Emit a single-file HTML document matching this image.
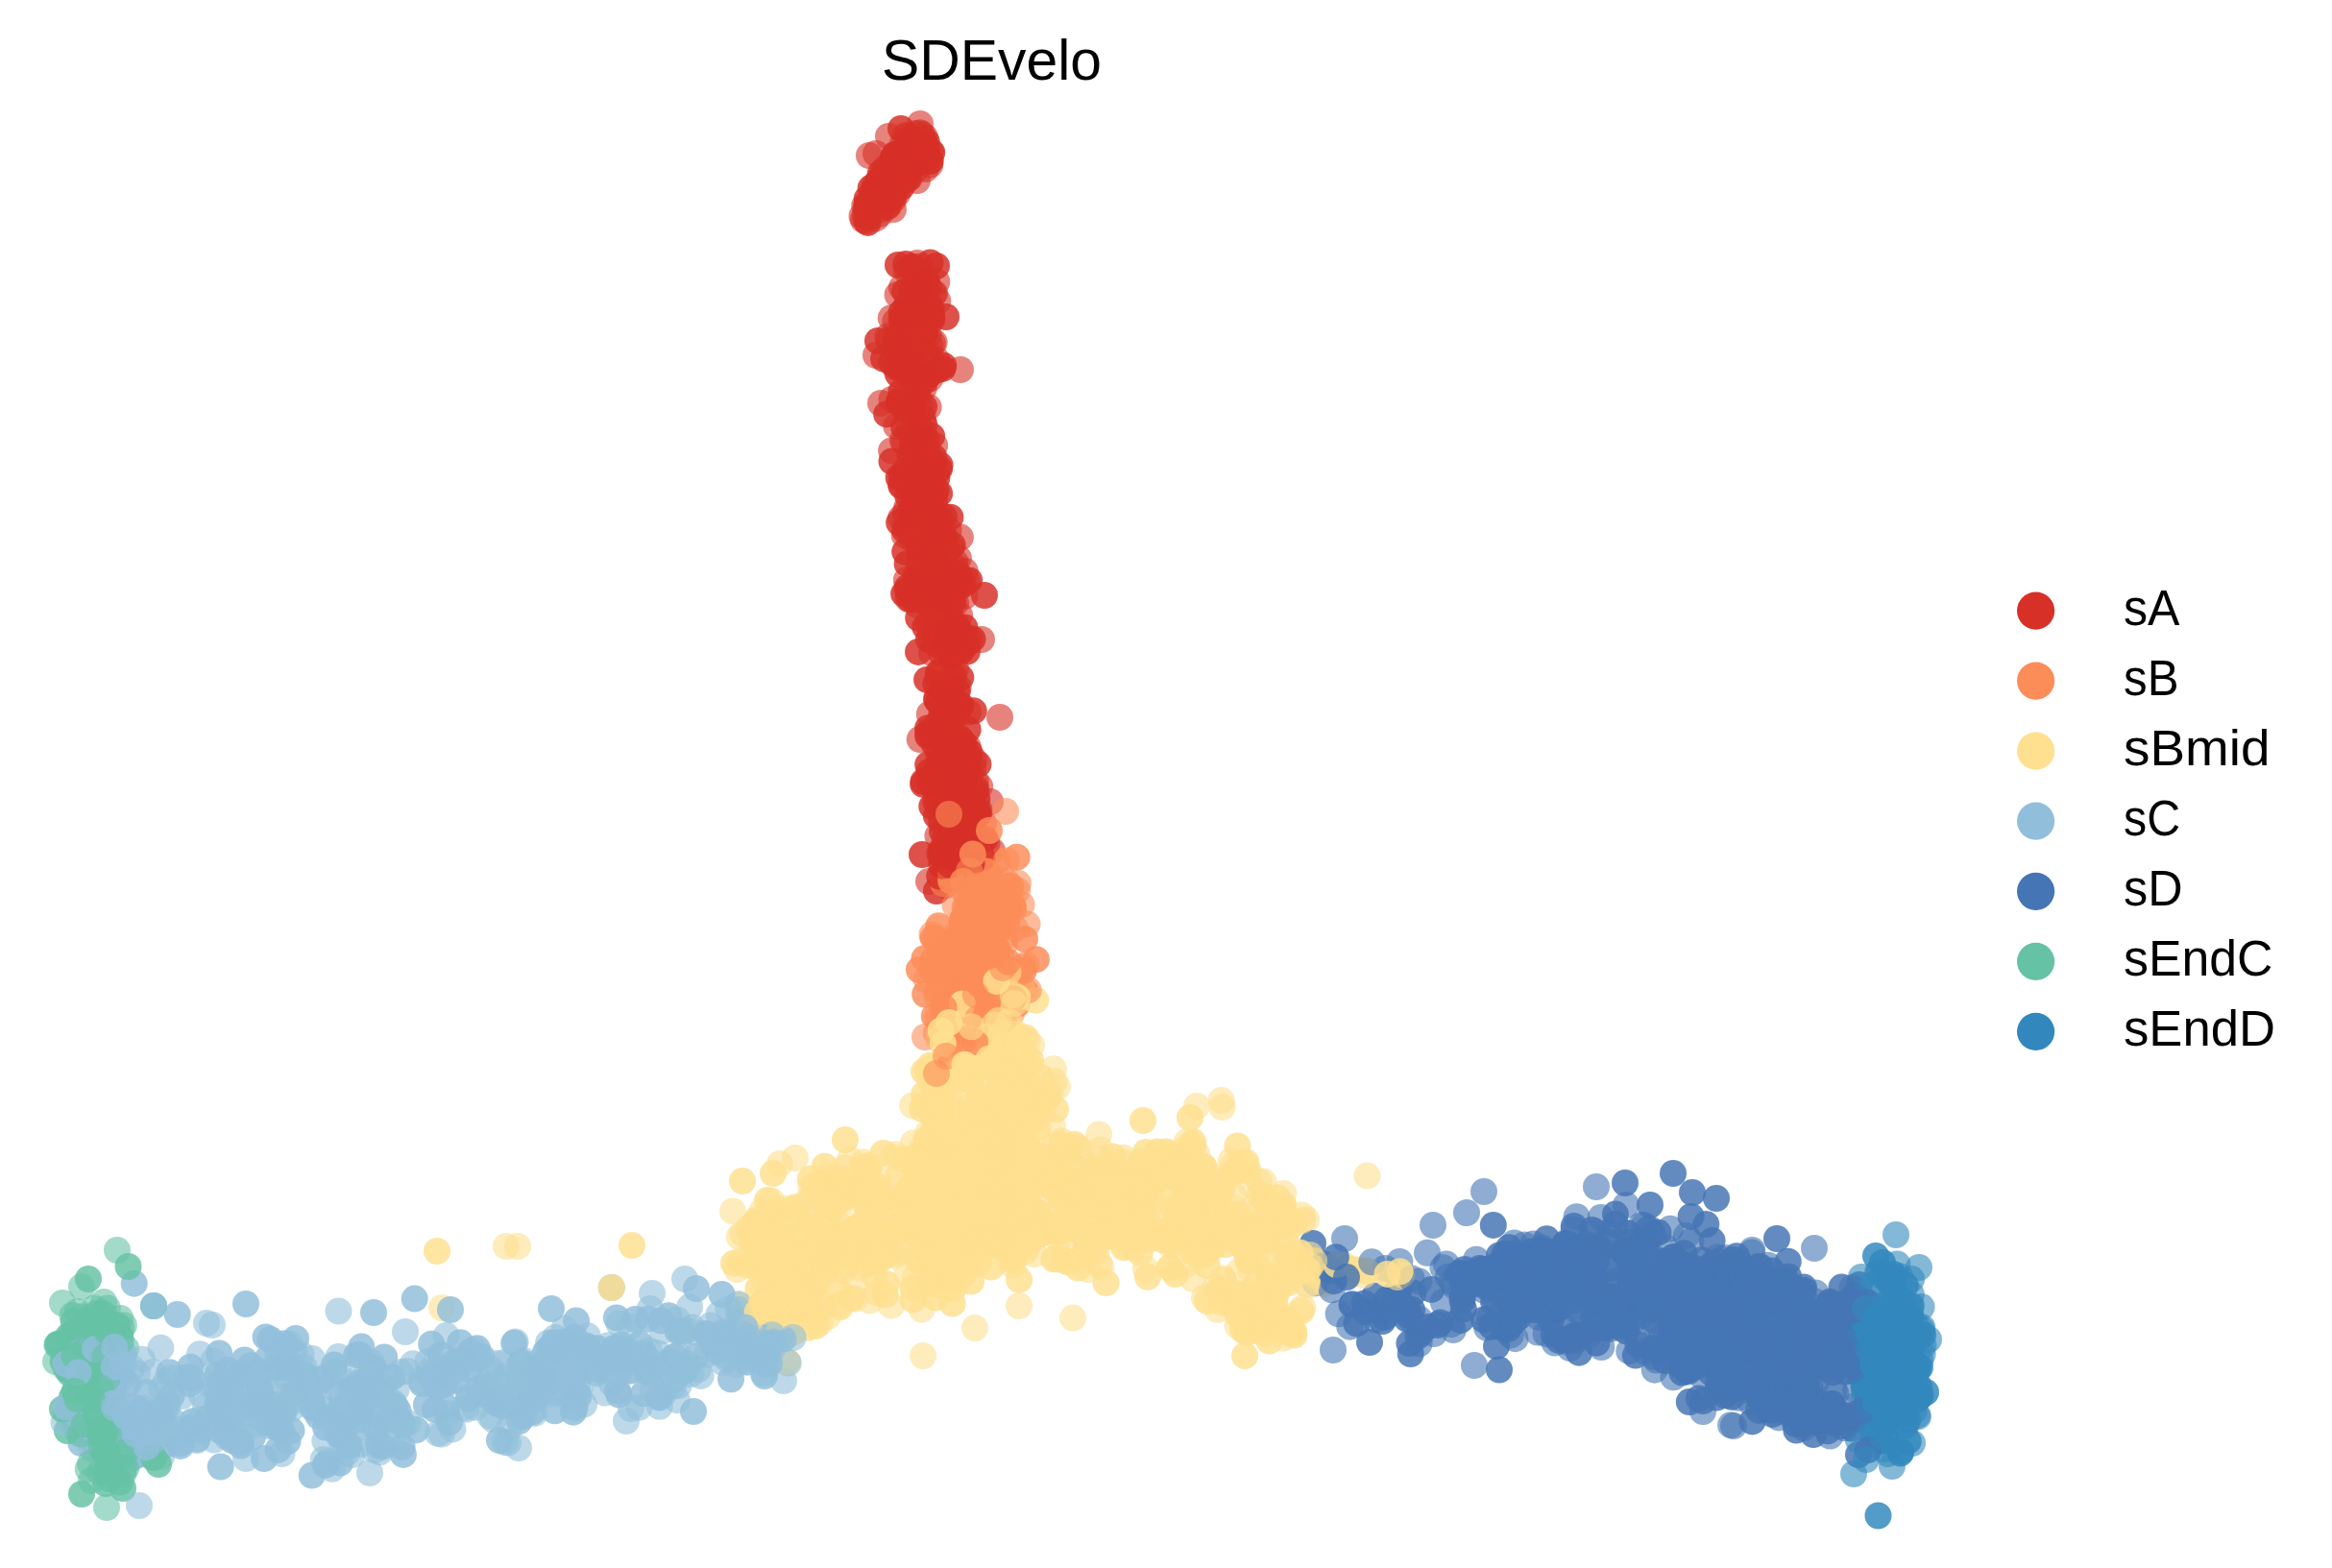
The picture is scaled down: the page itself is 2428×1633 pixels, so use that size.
<!DOCTYPE html>
<html><head><meta charset="utf-8"><title>SDEvelo</title>
<style>
html,body{margin:0;padding:0;background:#fff}
svg{display:block}
text{font-family:"Liberation Sans",sans-serif;fill:#000}
#p circle{r:14px;fill-opacity:.6}
#p .s circle{fill-opacity:.84}
.a{fill:#d73027}
.b{fill:#fc8d59}
.m{fill:#fee090}
.c{fill:#91bfdb}
.d{fill:#4575b4}
.e{fill:#66c2a5}
.f{fill:#3288bd}
</style></head><body>
<svg width="2428" height="1633" viewBox="0 0 2428 1633">
<rect width="2428" height="1633" fill="#fff"/>
<g id="p">
<g class="d"><circle cx="1639.8" cy="1322.5" r="14"/></g>
<g class="d s"><circle cx="1946.0" cy="1386.2" r="14"/></g>
<g class="d"><circle cx="1688.1" cy="1374.2" r="14"/></g>
<g class="a"><circle cx="974.2" cy="493.4" r="14"/></g>
<g class="a s"><circle cx="1004.5" cy="907.7" r="14"/></g>
<g class="d s"><circle cx="1426.0" cy="1398.0" r="14"/></g>
<g class="a"><circle cx="984.2" cy="600.5" r="14"/></g>
<g class="a s"><circle cx="959.8" cy="600.3" r="14"/><circle cx="962.9" cy="522.8" r="14"/></g>
<g class="d"><circle cx="1613.1" cy="1354.0" r="14"/><circle cx="1862.6" cy="1408.9" r="14"/><circle cx="1844.4" cy="1422.3" r="14"/></g>
<g class="c"><circle cx="140.5" cy="1513.6" r="14"/></g>
<g class="a s"><circle cx="996.2" cy="887.4" r="14"/></g>
<g class="a"><circle cx="916.3" cy="222.8" r="14"/></g>
<g class="d s"><circle cx="1718.9" cy="1356.9" r="14"/></g>
<g class="c"><circle cx="132.6" cy="1469.8" r="14"/></g>
<g class="d s"><circle cx="1808.5" cy="1441.3" r="14"/></g>
<g class="a"><circle cx="984.0" cy="918.2" r="14"/></g>
<g class="c"><circle cx="333.8" cy="1437.7" r="14"/></g>
<g class="d"><circle cx="1437.1" cy="1366.3" r="14"/><circle cx="1648.1" cy="1370.8" r="14"/></g>
<g class="a s"><circle cx="958.2" cy="598.5" r="14"/><circle cx="969.5" cy="541.1" r="14"/></g>
<g class="c s"><circle cx="187.7" cy="1502.9" r="14"/></g>
<g class="d s"><circle cx="1804.5" cy="1389.0" r="14"/></g>
<g class="a"><circle cx="956.3" cy="311.6" r="14"/></g>
<g class="d"><circle cx="1641.0" cy="1339.4" r="14"/><circle cx="1635.7" cy="1317.1" r="14"/></g>
<g class="c"><circle cx="679.0" cy="1347.0" r="14"/><circle cx="790.9" cy="1397.5" r="14"/></g>
<g class="d s"><circle cx="1888.0" cy="1494.0" r="14"/></g>
<g class="a"><circle cx="928.1" cy="469.4" r="14"/><circle cx="955.9" cy="332.8" r="14"/></g>
<g class="d s"><circle cx="1636.5" cy="1317.0" r="14"/><circle cx="1749.1" cy="1421.7" r="14"/></g>
<g class="d"><circle cx="1794.4" cy="1412.6" r="14"/></g>
<g class="c"><circle cx="803.3" cy="1361.9" r="14"/></g>
<g class="d s"><circle cx="1813.5" cy="1353.6" r="14"/></g>
<g class="d"><circle cx="1805.7" cy="1381.6" r="14"/></g>
<g class="a s"><circle cx="973.9" cy="511.2" r="14"/></g>
<g class="d"><circle cx="1522.8" cy="1338.2" r="14"/><circle cx="1913.4" cy="1358.6" r="14"/></g>
<g class="a s"><circle cx="913.8" cy="190.5" r="14"/><circle cx="980.3" cy="744.6" r="14"/></g>
<g class="a"><circle cx="994.1" cy="789.2" r="14"/></g>
<g class="d s"><circle cx="1529.9" cy="1338.9" r="14"/></g>
<g class="d"><circle cx="1852.0" cy="1476.4" r="14"/><circle cx="1931.7" cy="1415.1" r="14"/><circle cx="1840.5" cy="1339.8" r="14"/></g>
<g class="c"><circle cx="233.4" cy="1462.6" r="14"/><circle cx="701.2" cy="1443.4" r="14"/></g>
<g class="d"><circle cx="1879.4" cy="1407.2" r="14"/></g>
<g class="a s"><circle cx="956.8" cy="148.7" r="14"/><circle cx="976.8" cy="701.1" r="14"/></g>
<g class="c"><circle cx="234.6" cy="1477.7" r="14"/></g>
<g class="a"><circle cx="1033.0" cy="886.0" r="14"/></g>
<g class="a s"><circle cx="986.4" cy="815.8" r="14"/></g>
<g class="d s"><circle cx="1600.4" cy="1342.6" r="14"/><circle cx="1584.7" cy="1310.2" r="14"/><circle cx="1558.0" cy="1402.1" r="14"/></g>
<g class="d"><circle cx="1638.7" cy="1280.8" r="14"/></g>
<g class="d s"><circle cx="1645.9" cy="1390.8" r="14"/></g>
<g class="c s"><circle cx="338.2" cy="1467.7" r="14"/></g>
<g class="a"><circle cx="921.8" cy="175.1" r="14"/></g>
<g class="c"><circle cx="456.1" cy="1492.9" r="14"/></g>
<g class="a s"><circle cx="950.0" cy="278.0" r="14"/></g>
<g class="d s"><circle cx="1580.4" cy="1331.3" r="14"/></g>
<g class="c s"><circle cx="610.5" cy="1401.4" r="14"/></g>
<g class="c"><circle cx="555.5" cy="1430.7" r="14"/></g>
<g class="a"><circle cx="955.0" cy="274.0" r="14"/></g>
<g class="d s"><circle cx="1697.3" cy="1335.4" r="14"/></g>
<g class="a s"><circle cx="985.0" cy="330.0" r="14"/><circle cx="914.0" cy="355.0" r="14"/></g>
<g class="d"><circle cx="1945.0" cy="1459.4" r="14"/></g>
<g class="a s"><circle cx="920.0" cy="373.6" r="14"/></g>
<g class="d"><circle cx="1606.8" cy="1310.3" r="14"/></g>
<g class="c"><circle cx="608.0" cy="1462.5" r="14"/></g>
<g class="a"><circle cx="946.6" cy="448.0" r="14"/></g>
<g class="a s"><circle cx="942.4" cy="374.0" r="14"/></g>
<g class="a"><circle cx="1020.1" cy="818.8" r="14"/></g>
<g class="d"><circle cx="1852.8" cy="1381.4" r="14"/></g>
<g class="c"><circle cx="326.3" cy="1467.1" r="14"/></g>
<g class="a s"><circle cx="954.7" cy="487.5" r="14"/></g>
<g class="d"><circle cx="1773.0" cy="1470.0" r="14"/></g>
<g class="a"><circle cx="955.5" cy="328.1" r="14"/></g>
<g class="d s"><circle cx="1658.8" cy="1373.6" r="14"/></g>
<g class="c s"><circle cx="636.7" cy="1341.0" r="14"/></g>
<g class="c"><circle cx="348.3" cy="1429.1" r="14"/></g>
<g class="d"><circle cx="1779.0" cy="1348.4" r="14"/></g>
<g class="c"><circle cx="128.8" cy="1410.2" r="14"/></g>
<g class="a s"><circle cx="941.9" cy="332.4" r="14"/><circle cx="972.1" cy="566.2" r="14"/></g>
<g class="d s"><circle cx="1888.4" cy="1481.1" r="14"/></g>
<g class="d"><circle cx="1759.9" cy="1343.4" r="14"/></g>
<g class="c s"><circle cx="289.2" cy="1484.1" r="14"/></g>
<g class="d"><circle cx="1780.5" cy="1421.4" r="14"/></g>
<g class="d s"><circle cx="1865.9" cy="1377.3" r="14"/><circle cx="1621.7" cy="1323.0" r="14"/></g>
<g class="c s"><circle cx="380.7" cy="1455.5" r="14"/></g>
<g class="a"><circle cx="939.1" cy="382.8" r="14"/></g>
<g class="d s"><circle cx="1798.8" cy="1450.4" r="14"/></g>
<g class="a s"><circle cx="1020.1" cy="885.7" r="14"/><circle cx="991.7" cy="567.7" r="14"/><circle cx="956.3" cy="148.6" r="14"/></g>
<g class="d"><circle cx="1821.2" cy="1422.8" r="14"/></g>
<g class="d s"><circle cx="1657.8" cy="1327.9" r="14"/><circle cx="1934.4" cy="1409.8" r="14"/><circle cx="1490.4" cy="1342.9" r="14"/></g>
<g class="a s"><circle cx="982.9" cy="561.1" r="14"/></g>
<g class="a"><circle cx="985.5" cy="670.6" r="14"/></g>
<g class="d s"><circle cx="1798.3" cy="1325.1" r="14"/></g>
<g class="a"><circle cx="1041.0" cy="747.0" r="14"/></g>
<g class="c s"><circle cx="579.1" cy="1408.4" r="14"/></g>
<g class="d"><circle cx="1744.8" cy="1334.4" r="14"/></g>
<g class="c"><circle cx="530.7" cy="1486.5" r="14"/></g>
<g class="c s"><circle cx="376.3" cy="1402.6" r="14"/></g>
<g class="c"><circle cx="604.1" cy="1444.5" r="14"/><circle cx="143.1" cy="1430.6" r="14"/></g>
<g class="a"><circle cx="898.9" cy="229.0" r="14"/></g>
<g class="a s"><circle cx="970.3" cy="332.6" r="14"/></g>
<g class="c"><circle cx="417.0" cy="1429.1" r="14"/></g>
<g class="d"><circle cx="1909.3" cy="1416.8" r="14"/></g>
<g class="a s"><circle cx="970.9" cy="540.2" r="14"/></g>
<g class="a"><circle cx="928.5" cy="415.9" r="14"/></g>
<g class="d s"><circle cx="1865.7" cy="1393.8" r="14"/><circle cx="1543.5" cy="1337.3" r="14"/></g>
<g class="d"><circle cx="1639.1" cy="1304.9" r="14"/></g>
<g class="a"><circle cx="977.1" cy="642.2" r="14"/></g>
<g class="a s"><circle cx="1006.3" cy="671.1" r="14"/></g>
<g class="d s"><circle cx="1907.7" cy="1462.1" r="14"/></g>
<g class="d"><circle cx="1723.3" cy="1344.3" r="14"/></g>
<g class="c"><circle cx="578.2" cy="1393.1" r="14"/></g>
<g class="d s"><circle cx="1898.7" cy="1414.8" r="14"/></g>
<g class="d"><circle cx="1813.2" cy="1357.2" r="14"/></g>
<g class="a"><circle cx="955.2" cy="630.0" r="14"/></g>
<g class="d s"><circle cx="1847.5" cy="1396.0" r="14"/><circle cx="1693.2" cy="1386.4" r="14"/></g>
<g class="d"><circle cx="1823.2" cy="1445.5" r="14"/></g>
<g class="a"><circle cx="981.3" cy="594.0" r="14"/></g>
<g class="c s"><circle cx="226.9" cy="1470.1" r="14"/></g>
<g class="d"><circle cx="1787.6" cy="1359.6" r="14"/></g>
<g class="c s"><circle cx="770.4" cy="1369.2" r="14"/></g>
<g class="a s"><circle cx="960.0" cy="890.0" r="14"/></g>
<g class="c s"><circle cx="520.0" cy="1500.0" r="14"/></g>
<g class="a"><circle cx="999.1" cy="640.7" r="14"/></g>
<g class="a s"><circle cx="980.9" cy="592.9" r="14"/></g>
<g class="d s"><circle cx="1940.9" cy="1374.2" r="14"/></g>
<g class="a s"><circle cx="997.3" cy="734.0" r="14"/></g>
<g class="d s"><circle cx="1691.6" cy="1380.2" r="14"/></g>
<g class="a s"><circle cx="973.7" cy="822.6" r="14"/></g>
<g class="d"><circle cx="1782.6" cy="1359.7" r="14"/></g>
<g class="c s"><circle cx="276.6" cy="1392.4" r="14"/></g>
<g class="a s"><circle cx="957.9" cy="553.4" r="14"/></g>
<g class="d s"><circle cx="1378.1" cy="1316.6" r="14"/></g>
<g class="d"><circle cx="1720.0" cy="1353.2" r="14"/><circle cx="1598.7" cy="1324.1" r="14"/></g>
<g class="d s"><circle cx="1881.3" cy="1366.6" r="14"/></g>
<g class="d"><circle cx="1805.8" cy="1400.3" r="14"/><circle cx="1659.9" cy="1363.9" r="14"/></g>
<g class="c"><circle cx="526.4" cy="1434.1" r="14"/></g>
<g class="d s"><circle cx="1771.0" cy="1345.6" r="14"/></g>
<g class="a s"><circle cx="923.2" cy="195.2" r="14"/></g>
<g class="d"><circle cx="1772.8" cy="1434.1" r="14"/></g>
<g class="c s"><circle cx="463.0" cy="1441.2" r="14"/><circle cx="773.8" cy="1383.6" r="14"/></g>
<g class="d"><circle cx="1768.1" cy="1356.9" r="14"/></g>
<g class="a"><circle cx="976.1" cy="610.9" r="14"/></g>
<g class="a s"><circle cx="982.4" cy="760.4" r="14"/></g>
<g class="d"><circle cx="1833.5" cy="1319.8" r="14"/></g>
<g class="c"><circle cx="422.0" cy="1387.0" r="14"/></g>
<g class="d s"><circle cx="1729.2" cy="1366.0" r="14"/></g>
<g class="c"><circle cx="768.2" cy="1377.6" r="14"/></g>
<g class="d"><circle cx="1566.8" cy="1382.7" r="14"/></g>
<g class="a s"><circle cx="929.4" cy="165.1" r="14"/></g>
<g class="d s"><circle cx="1713.9" cy="1297.6" r="14"/></g>
<g class="d"><circle cx="1861.6" cy="1355.1" r="14"/></g>
<g class="c s"><circle cx="296.3" cy="1399.2" r="14"/><circle cx="542.6" cy="1418.6" r="14"/></g>
<g class="d"><circle cx="1537.0" cy="1311.7" r="14"/></g>
<g class="a s"><circle cx="972.8" cy="485.1" r="14"/></g>
<g class="a"><circle cx="929.0" cy="205.5" r="14"/></g>
<g class="d s"><circle cx="1659.8" cy="1330.0" r="14"/></g>
<g class="c s"><circle cx="233.3" cy="1479.4" r="14"/></g>
<g class="a"><circle cx="942.8" cy="548.0" r="14"/></g>
<g class="d"><circle cx="1369.8" cy="1336.3" r="14"/></g>
<g class="c s"><circle cx="796.0" cy="1433.0" r="14"/></g>
<g class="d s"><circle cx="1873.3" cy="1431.0" r="14"/></g>
<g class="a s"><circle cx="964.7" cy="457.9" r="14"/></g>
<g class="c"><circle cx="551.5" cy="1424.9" r="14"/></g>
<g class="a"><circle cx="979.4" cy="885.4" r="14"/></g>
<g class="d s"><circle cx="1835.5" cy="1434.8" r="14"/></g>
<g class="a"><circle cx="941.5" cy="329.4" r="14"/></g>
<g class="c"><circle cx="670.2" cy="1408.5" r="14"/></g>
<g class="d s"><circle cx="1604.1" cy="1327.0" r="14"/><circle cx="1453.3" cy="1346.9" r="14"/></g>
<g class="a s"><circle cx="949.2" cy="423.4" r="14"/></g>
<g class="a"><circle cx="926.2" cy="189.0" r="14"/><circle cx="938.4" cy="161.0" r="14"/></g>
<g class="d"><circle cx="1719.7" cy="1345.5" r="14"/></g>
<g class="c s"><circle cx="139.7" cy="1336.7" r="14"/></g>
<g class="a"><circle cx="993.8" cy="603.4" r="14"/></g>
<g class="c"><circle cx="459.8" cy="1493.7" r="14"/></g>
<g class="d s"><circle cx="1741.9" cy="1316.8" r="14"/></g>
<g class="c s"><circle cx="230.9" cy="1466.4" r="14"/><circle cx="567.8" cy="1408.6" r="14"/><circle cx="812.1" cy="1393.6" r="14"/></g>
<g class="a"><circle cx="991.4" cy="608.4" r="14"/><circle cx="979.9" cy="888.4" r="14"/></g>
<g class="d"><circle cx="1878.1" cy="1449.0" r="14"/></g>
<g class="d s"><circle cx="1760.6" cy="1266.9" r="14"/></g>
<g class="c s"><circle cx="786.6" cy="1395.4" r="14"/></g>
<g class="a s"><circle cx="977.8" cy="622.1" r="14"/></g>
<g class="c s"><circle cx="327.8" cy="1445.5" r="14"/></g>
<g class="d s"><circle cx="1912.4" cy="1367.7" r="14"/></g>
<g class="d"><circle cx="1901.8" cy="1425.6" r="14"/></g>
<g class="d s"><circle cx="1893.1" cy="1406.4" r="14"/></g>
<g class="a s"><circle cx="973.8" cy="598.1" r="14"/><circle cx="955.3" cy="312.9" r="14"/></g>
<g class="a"><circle cx="917.0" cy="420.0" r="14"/></g>
<g class="c"><circle cx="433.5" cy="1489.0" r="14"/></g>
<g class="a s"><circle cx="988.7" cy="860.1" r="14"/><circle cx="942.3" cy="552.5" r="14"/></g>
<g class="c"><circle cx="301.5" cy="1399.4" r="14"/></g>
<g class="c s"><circle cx="374.3" cy="1411.0" r="14"/></g>
<g class="a s"><circle cx="964.7" cy="577.9" r="14"/><circle cx="973.6" cy="594.8" r="14"/></g>
<g class="c s"><circle cx="460.9" cy="1431.2" r="14"/></g>
<g class="d"><circle cx="1866.4" cy="1473.1" r="14"/></g>
<g class="c"><circle cx="525.7" cy="1501.9" r="14"/></g>
<g class="d"><circle cx="1629.5" cy="1346.5" r="14"/></g>
<g class="a s"><circle cx="970.7" cy="530.8" r="14"/><circle cx="977.4" cy="786.5" r="14"/></g>
<g class="c"><circle cx="488.5" cy="1454.5" r="14"/></g>
<g class="a"><circle cx="1003.7" cy="862.9" r="14"/><circle cx="919.9" cy="196.7" r="14"/></g>
<g class="c"><circle cx="131.2" cy="1464.6" r="14"/></g>
<g class="d s"><circle cx="1561.0" cy="1426.6" r="14"/></g>
<g class="d"><circle cx="1915.6" cy="1479.8" r="14"/></g>
<g class="d s"><circle cx="1636.2" cy="1340.0" r="14"/></g>
<g class="d"><circle cx="1513.0" cy="1385.0" r="14"/></g>
<g class="a"><circle cx="960.3" cy="499.1" r="14"/><circle cx="977.3" cy="570.2" r="14"/></g>
<g class="c s"><circle cx="178.8" cy="1453.6" r="14"/></g>
<g class="d"><circle cx="1612.7" cy="1331.4" r="14"/><circle cx="1788.0" cy="1390.7" r="14"/><circle cx="1637.6" cy="1392.1" r="14"/></g>
<g class="d s"><circle cx="1902.7" cy="1368.9" r="14"/><circle cx="1692.6" cy="1304.5" r="14"/><circle cx="1766.5" cy="1341.7" r="14"/><circle cx="1851.7" cy="1424.2" r="14"/></g>
<g class="a s"><circle cx="979.5" cy="792.4" r="14"/><circle cx="975.3" cy="497.7" r="14"/></g>
<g class="d"><circle cx="1757.1" cy="1391.2" r="14"/></g>
<g class="c s"><circle cx="589.5" cy="1411.2" r="14"/></g>
<g class="a s"><circle cx="978.0" cy="488.3" r="14"/></g>
<g class="d s"><circle cx="1707.4" cy="1322.0" r="14"/><circle cx="1788.6" cy="1446.0" r="14"/><circle cx="1709.9" cy="1334.3" r="14"/></g>
<g class="c s"><circle cx="499.9" cy="1451.8" r="14"/></g>
<g class="a"><circle cx="922.0" cy="191.4" r="14"/></g>
<g class="c s"><circle cx="498.3" cy="1446.2" r="14"/></g>
<g class="d s"><circle cx="1594.5" cy="1303.6" r="14"/></g>
<g class="c s"><circle cx="256.4" cy="1472.0" r="14"/></g>
<g class="a s"><circle cx="977.1" cy="731.3" r="14"/></g>
<g class="c"><circle cx="171.6" cy="1486.1" r="14"/></g>
<g class="c s"><circle cx="452.9" cy="1467.9" r="14"/></g>
<g class="a s"><circle cx="942.6" cy="378.5" r="14"/><circle cx="969.3" cy="509.5" r="14"/></g>
<g class="d"><circle cx="1698.2" cy="1335.4" r="14"/></g>
<g class="e s"><circle cx="123.7" cy="1503.7" r="14"/></g>
<g class="d"><circle cx="1702.7" cy="1346.1" r="14"/><circle cx="1842.8" cy="1368.8" r="14"/></g>
<g class="c s"><circle cx="355.3" cy="1496.4" r="14"/></g>
<g class="d s"><circle cx="1741.5" cy="1370.7" r="14"/><circle cx="1874.9" cy="1344.6" r="14"/></g>
<g class="c s"><circle cx="386.9" cy="1424.2" r="14"/><circle cx="319.7" cy="1434.2" r="14"/></g>
<g class="d s"><circle cx="1751.4" cy="1389.7" r="14"/></g>
<g class="c"><circle cx="95.2" cy="1508.4" r="14"/></g>
<g class="d"><circle cx="1512.1" cy="1335.3" r="14"/></g>
<g class="c"><circle cx="608.9" cy="1404.1" r="14"/></g>
<g class="d s"><circle cx="1553.2" cy="1381.5" r="14"/></g>
<g class="a"><circle cx="1013.9" cy="791.1" r="14"/></g>
<g class="d"><circle cx="1781.9" cy="1421.7" r="14"/><circle cx="1801.0" cy="1443.0" r="14"/><circle cx="1831.4" cy="1405.8" r="14"/></g>
<g class="a"><circle cx="967.0" cy="918.0" r="14"/></g>
<g class="d s"><circle cx="1865.9" cy="1363.5" r="14"/></g>
<g class="c s"><circle cx="250.9" cy="1505.6" r="14"/></g>
<g class="c"><circle cx="493.3" cy="1405.6" r="14"/><circle cx="364.4" cy="1446.9" r="14"/></g>
<g class="d s"><circle cx="1928.5" cy="1487.8" r="14"/></g>
<g class="a s"><circle cx="982.9" cy="538.2" r="14"/></g>
<g class="a"><circle cx="926.9" cy="196.3" r="14"/></g>
<g class="a s"><circle cx="978.5" cy="889.2" r="14"/><circle cx="947.5" cy="314.9" r="14"/></g>
<g class="d"><circle cx="1805.0" cy="1485.0" r="14"/></g>
<g class="a s"><circle cx="976.1" cy="802.1" r="14"/></g>
<g class="c s"><circle cx="449.2" cy="1399.7" r="14"/></g>
<g class="c"><circle cx="356.5" cy="1505.0" r="14"/></g>
<g class="c s"><circle cx="170.7" cy="1505.7" r="14"/></g>
<g class="a s"><circle cx="1008.4" cy="900.0" r="14"/><circle cx="975.4" cy="597.7" r="14"/></g>
<g class="d s"><circle cx="1742.3" cy="1309.0" r="14"/></g>
<g class="c s"><circle cx="554.2" cy="1470.5" r="14"/></g>
<g class="d s"><circle cx="1935.3" cy="1478.3" r="14"/></g>
<g class="a"><circle cx="1005.8" cy="805.7" r="14"/></g>
<g class="a s"><circle cx="971.8" cy="564.3" r="14"/></g>
<g class="a"><circle cx="965.5" cy="524.7" r="14"/></g>
<g class="c"><circle cx="519.3" cy="1456.0" r="14"/></g>
<g class="d"><circle cx="1848.9" cy="1369.9" r="14"/></g>
<g class="a"><circle cx="982.9" cy="810.6" r="14"/></g>
<g class="d"><circle cx="1459.4" cy="1362.5" r="14"/></g>
<g class="a"><circle cx="954.7" cy="468.7" r="14"/></g>
<g class="d s"><circle cx="1856.6" cy="1405.9" r="14"/></g>
<g class="a s"><circle cx="972.8" cy="615.5" r="14"/></g>
<g class="d s"><circle cx="1756.2" cy="1387.7" r="14"/><circle cx="1569.8" cy="1374.8" r="14"/></g>
<g class="d"><circle cx="1827.6" cy="1335.3" r="14"/></g>
<g class="c"><circle cx="756.8" cy="1394.8" r="14"/></g>
<g class="e"><circle cx="112.6" cy="1401.9" r="14"/></g>
<g class="c s"><circle cx="232.0" cy="1440.6" r="14"/></g>
<g class="a s"><circle cx="956.3" cy="589.5" r="14"/></g>
<g class="d s"><circle cx="1705.4" cy="1400.3" r="14"/></g>
<g class="c"><circle cx="790.3" cy="1411.6" r="14"/></g>
<g class="d"><circle cx="1480.1" cy="1388.1" r="14"/></g>
<g class="a s"><circle cx="968.7" cy="167.5" r="14"/></g>
<g class="c s"><circle cx="696.5" cy="1419.2" r="14"/></g>
<g class="d s"><circle cx="1892.3" cy="1411.2" r="14"/></g>
<g class="d"><circle cx="1833.1" cy="1449.2" r="14"/><circle cx="1507.7" cy="1329.7" r="14"/></g>
<g class="c"><circle cx="498.4" cy="1415.6" r="14"/></g>
<g class="a s"><circle cx="985.4" cy="647.5" r="14"/></g>
<g class="c s"><circle cx="146.1" cy="1469.7" r="14"/><circle cx="275.0" cy="1519.0" r="14"/></g>
<g class="a s"><circle cx="979.5" cy="558.9" r="14"/></g>
<g class="d"><circle cx="1850.0" cy="1455.2" r="14"/></g>
<g class="c"><circle cx="205.0" cy="1500.0" r="14"/></g>
<g class="c s"><circle cx="644.6" cy="1452.7" r="14"/></g>
<g class="d"><circle cx="1624.2" cy="1319.4" r="14"/></g>
<g class="a s"><circle cx="965.4" cy="530.8" r="14"/></g>
<g class="d"><circle cx="1628.0" cy="1381.4" r="14"/></g>
<g class="a s"><circle cx="982.3" cy="380.7" r="14"/><circle cx="1025.0" cy="620.0" r="14"/></g>
<g class="c"><circle cx="148.8" cy="1466.6" r="14"/></g>
<g class="d"><circle cx="1792.6" cy="1448.8" r="14"/></g>
<g class="d s"><circle cx="1935.0" cy="1515.0" r="14"/></g>
<g class="c"><circle cx="719.4" cy="1431.1" r="14"/><circle cx="395.5" cy="1512.2" r="14"/></g>
<g class="a"><circle cx="990.4" cy="679.2" r="14"/></g>
<g class="d"><circle cx="1493.0" cy="1389.1" r="14"/></g>
<g class="e s"><circle cx="124.8" cy="1543.5" r="14"/></g>
<g class="a"><circle cx="963.5" cy="614.1" r="14"/></g>
<g class="a s"><circle cx="971.3" cy="585.1" r="14"/><circle cx="975.0" cy="928.0" r="14"/><circle cx="981.0" cy="866.1" r="14"/></g>
<g class="d"><circle cx="1594.2" cy="1315.0" r="14"/></g>
<g class="a"><circle cx="966.8" cy="650.4" r="14"/></g>
<g class="a s"><circle cx="1013.7" cy="740.3" r="14"/></g>
<g class="a"><circle cx="912.0" cy="370.0" r="14"/></g>
<g class="c"><circle cx="574.3" cy="1425.0" r="14"/></g>
<g class="e"><circle cx="113.3" cy="1480.4" r="14"/></g>
<g class="c s"><circle cx="792.7" cy="1383.1" r="14"/></g>
<g class="d"><circle cx="1712.1" cy="1407.5" r="14"/><circle cx="1662.3" cy="1383.4" r="14"/></g>
<g class="c s"><circle cx="316.1" cy="1431.0" r="14"/></g>
<g class="a s"><circle cx="941.1" cy="618.3" r="14"/></g>
<g class="d"><circle cx="1620.2" cy="1337.4" r="14"/><circle cx="1760.0" cy="1414.2" r="14"/></g>
<g class="a"><circle cx="997.7" cy="715.4" r="14"/></g>
<g class="d"><circle cx="1640.8" cy="1312.8" r="14"/></g>
<g class="a s"><circle cx="1015.9" cy="821.2" r="14"/></g>
<g class="d"><circle cx="1652.4" cy="1350.2" r="14"/></g>
<g class="d s"><circle cx="1596.0" cy="1350.5" r="14"/></g>
<g class="a s"><circle cx="935.1" cy="160.5" r="14"/></g>
<g class="d s"><circle cx="1639.0" cy="1309.9" r="14"/><circle cx="1817.0" cy="1323.0" r="14"/><circle cx="1907.0" cy="1462.4" r="14"/></g>
<g class="d"><circle cx="1597.4" cy="1319.7" r="14"/><circle cx="1608.8" cy="1303.6" r="14"/><circle cx="1680.6" cy="1339.6" r="14"/></g>
<g class="c s"><circle cx="767.2" cy="1388.5" r="14"/></g>
<g class="c"><circle cx="679.9" cy="1447.9" r="14"/></g>
<g class="a s"><circle cx="951.6" cy="549.9" r="14"/></g>
<g class="c s"><circle cx="232.9" cy="1452.9" r="14"/></g>
<g class="d"><circle cx="1819.5" cy="1425.4" r="14"/></g>
<g class="c"><circle cx="228.0" cy="1462.8" r="14"/></g>
<g class="a s"><circle cx="973.4" cy="568.9" r="14"/></g>
<g class="a"><circle cx="998.1" cy="768.5" r="14"/></g>
<g class="c"><circle cx="316.6" cy="1423.7" r="14"/></g>
<g class="e s"><circle cx="114.2" cy="1524.4" r="14"/></g>
<g class="d"><circle cx="1656.9" cy="1352.9" r="14"/><circle cx="1881.2" cy="1446.7" r="14"/></g>
<g class="a s"><circle cx="1002.2" cy="882.3" r="14"/></g>
<g class="d"><circle cx="1673.2" cy="1365.8" r="14"/></g>
<g class="d s"><circle cx="1570.4" cy="1383.9" r="14"/></g>
<g class="c s"><circle cx="184.7" cy="1369.0" r="14"/></g>
<g class="e"><circle cx="69.1" cy="1471.6" r="14"/></g>
<g class="a"><circle cx="988.8" cy="798.7" r="14"/></g>
<g class="e"><circle cx="75.4" cy="1370.0" r="14"/></g>
<g class="a s"><circle cx="964.7" cy="498.7" r="14"/><circle cx="1017.5" cy="843.8" r="14"/></g>
<g class="c s"><circle cx="799.5" cy="1383.1" r="14"/></g>
<g class="d s"><circle cx="1570.0" cy="1330.6" r="14"/></g>
<g class="a"><circle cx="1005.0" cy="913.7" r="14"/></g>
<g class="a s"><circle cx="951.1" cy="531.4" r="14"/></g>
<g class="d"><circle cx="1868.8" cy="1346.7" r="14"/></g>
<g class="c"><circle cx="752.9" cy="1419.1" r="14"/></g>
<g class="c s"><circle cx="287.3" cy="1486.1" r="14"/></g>
<g class="d s"><circle cx="1614.6" cy="1375.1" r="14"/></g>
<g class="a s"><circle cx="950.7" cy="423.8" r="14"/></g>
<g class="d"><circle cx="1783.5" cy="1377.5" r="14"/></g>
<g class="e"><circle cx="80.5" cy="1366.1" r="14"/></g>
<g class="d"><circle cx="1907.0" cy="1379.9" r="14"/></g>
<g class="d s"><circle cx="1773.6" cy="1391.3" r="14"/></g>
<g class="d"><circle cx="1477.5" cy="1334.6" r="14"/></g>
<g class="c"><circle cx="691.0" cy="1432.2" r="14"/></g>
<g class="d s"><circle cx="1735.1" cy="1322.7" r="14"/></g>
<g class="a s"><circle cx="980.3" cy="680.3" r="14"/><circle cx="935.0" cy="276.0" r="14"/></g>
<g class="d s"><circle cx="1751.4" cy="1429.6" r="14"/></g>
<g class="c s"><circle cx="71.4" cy="1418.4" r="14"/></g>
<g class="d s"><circle cx="1465.4" cy="1364.1" r="14"/><circle cx="1831.1" cy="1369.6" r="14"/></g>
<g class="c s"><circle cx="686.4" cy="1455.6" r="14"/></g>
<g class="a s"><circle cx="975.1" cy="728.8" r="14"/></g>
<g class="d s"><circle cx="1540.5" cy="1321.0" r="14"/></g>
<g class="a s"><circle cx="996.1" cy="891.2" r="14"/></g>
<g class="d"><circle cx="1788.3" cy="1309.4" r="14"/></g>
<g class="a s"><circle cx="983.0" cy="760.7" r="14"/></g>
<g class="a"><circle cx="994.4" cy="584.9" r="14"/></g>
<g class="d"><circle cx="1770.5" cy="1383.9" r="14"/></g>
<g class="d s"><circle cx="1767.2" cy="1353.8" r="14"/></g>
<g class="c s"><circle cx="505.9" cy="1444.0" r="14"/></g>
<g class="d"><circle cx="1654.1" cy="1390.9" r="14"/></g>
<g class="d s"><circle cx="1470.0" cy="1363.9" r="14"/><circle cx="1858.9" cy="1379.3" r="14"/></g>
<g class="a s"><circle cx="963.3" cy="653.0" r="14"/></g>
<g class="a"><circle cx="967.8" cy="743.7" r="14"/></g>
<g class="d s"><circle cx="1637.6" cy="1392.0" r="14"/></g>
<g class="c"><circle cx="306.3" cy="1408.5" r="14"/></g>
<g class="a"><circle cx="1019.7" cy="844.2" r="14"/></g>
<g class="d"><circle cx="1768.4" cy="1374.7" r="14"/></g>
<g class="d s"><circle cx="1749.4" cy="1421.3" r="14"/></g>
<g class="e s"><circle cx="65.6" cy="1417.7" r="14"/></g>
<g class="a s"><circle cx="973.1" cy="520.7" r="14"/></g>
<g class="d s"><circle cx="1763.8" cy="1390.3" r="14"/></g>
<g class="d"><circle cx="1813.8" cy="1343.1" r="14"/></g>
<g class="a s"><circle cx="1012.6" cy="665.6" r="14"/></g>
<g class="c"><circle cx="558.8" cy="1455.7" r="14"/></g>
<g class="d s"><circle cx="1643.3" cy="1334.8" r="14"/></g>
<g class="a s"><circle cx="938.0" cy="134.0" r="14"/><circle cx="974.3" cy="712.4" r="14"/><circle cx="964.7" cy="157.5" r="14"/><circle cx="970.5" cy="612.9" r="14"/></g>
<g class="d"><circle cx="1782.0" cy="1416.1" r="14"/><circle cx="1786.4" cy="1384.2" r="14"/></g>
<g class="a"><circle cx="954.2" cy="168.4" r="14"/></g>
<g class="a s"><circle cx="1001.4" cy="825.0" r="14"/></g>
<g class="d"><circle cx="1873.5" cy="1402.8" r="14"/></g>
<g class="d s"><circle cx="1566.8" cy="1305.7" r="14"/></g>
<g class="c"><circle cx="467.8" cy="1440.2" r="14"/></g>
<g class="d s"><circle cx="1827.9" cy="1374.1" r="14"/></g>
<g class="a"><circle cx="985.6" cy="613.2" r="14"/></g>
<g class="d"><circle cx="1806.3" cy="1412.2" r="14"/></g>
<g class="c s"><circle cx="226.1" cy="1431.7" r="14"/></g>
<g class="a s"><circle cx="966.1" cy="758.4" r="14"/></g>
<g class="d s"><circle cx="1743.9" cy="1380.2" r="14"/><circle cx="1662.3" cy="1398.7" r="14"/></g>
<g class="d"><circle cx="1682.6" cy="1333.9" r="14"/></g>
<g class="e"><circle cx="68.5" cy="1425.4" r="14"/></g>
<g class="d"><circle cx="1938.8" cy="1412.1" r="14"/></g>
<g class="c"><circle cx="571.0" cy="1398.5" r="14"/></g>
<g class="a s"><circle cx="953.5" cy="603.4" r="14"/></g>
<g class="a"><circle cx="930.2" cy="207.5" r="14"/></g>
<g class="a s"><circle cx="958.7" cy="392.1" r="14"/></g>
<g class="c"><circle cx="405.2" cy="1435.0" r="14"/></g>
<g class="d"><circle cx="1556.8" cy="1336.1" r="14"/></g>
<g class="d s"><circle cx="1465.9" cy="1369.6" r="14"/></g>
<g class="a"><circle cx="963.7" cy="176.0" r="14"/><circle cx="999.6" cy="769.9" r="14"/><circle cx="960.4" cy="538.4" r="14"/></g>
<g class="c s"><circle cx="348.0" cy="1421.6" r="14"/></g>
<g class="a"><circle cx="996.8" cy="612.4" r="14"/><circle cx="1020.4" cy="873.4" r="14"/><circle cx="938.1" cy="171.7" r="14"/></g>
<g class="c s"><circle cx="278.7" cy="1414.9" r="14"/></g>
<g class="a"><circle cx="1022.0" cy="666.0" r="14"/></g>
<g class="d s"><circle cx="1781.7" cy="1410.5" r="14"/></g>
<g class="e"><circle cx="106.4" cy="1436.2" r="14"/></g>
<g class="a"><circle cx="949.5" cy="166.6" r="14"/></g>
<g class="d"><circle cx="1633.8" cy="1300.2" r="14"/></g>
<g class="a"><circle cx="937.8" cy="181.7" r="14"/></g>
<g class="d s"><circle cx="1858.7" cy="1386.5" r="14"/></g>
<g class="c s"><circle cx="168.6" cy="1469.1" r="14"/></g>
<g class="d"><circle cx="1808.3" cy="1318.7" r="14"/></g>
<g class="d s"><circle cx="1798.4" cy="1335.2" r="14"/><circle cx="1443.9" cy="1353.6" r="14"/></g>
<g class="c"><circle cx="355.8" cy="1452.1" r="14"/></g>
<g class="a s"><circle cx="990.2" cy="717.5" r="14"/></g>
<g class="d"><circle cx="1749.6" cy="1395.5" r="14"/></g>
<g class="c"><circle cx="513.1" cy="1430.3" r="14"/></g>
<g class="e s"><circle cx="105.2" cy="1506.9" r="14"/></g>
<g class="c"><circle cx="712.9" cy="1426.9" r="14"/></g>
<g class="a s"><circle cx="938.3" cy="408.2" r="14"/></g>
<g class="d"><circle cx="1760.0" cy="1348.6" r="14"/></g>
<g class="d s"><circle cx="1931.2" cy="1348.6" r="14"/><circle cx="1710.9" cy="1340.9" r="14"/></g>
<g class="d"><circle cx="1740.1" cy="1383.4" r="14"/></g>
<g class="c s"><circle cx="273.0" cy="1478.4" r="14"/></g>
<g class="a s"><circle cx="966.2" cy="796.3" r="14"/></g>
<g class="d s"><circle cx="1860.5" cy="1469.4" r="14"/><circle cx="1431.4" cy="1349.8" r="14"/></g>
<g class="d"><circle cx="1633.1" cy="1340.9" r="14"/></g>
<g class="a"><circle cx="987.6" cy="552.2" r="14"/></g>
<g class="c"><circle cx="284.8" cy="1474.3" r="14"/></g>
<g class="c s"><circle cx="256.0" cy="1358.0" r="14"/></g>
<g class="m"><circle cx="861.0" cy="1225.4" r="14"/></g>
<g class="c"><circle cx="289.4" cy="1409.7" r="14"/></g>
<g class="a"><circle cx="931.9" cy="382.2" r="14"/><circle cx="953.4" cy="160.4" r="14"/></g>
<g class="b s"><circle cx="1029.9" cy="957.4" r="14"/></g>
<g class="c s"><circle cx="240.6" cy="1482.6" r="14"/><circle cx="158.6" cy="1517.6" r="14"/></g>
<g class="a s"><circle cx="957.4" cy="154.1" r="14"/></g>
<g class="m s"><circle cx="1230.4" cy="1265.5" r="14"/></g>
<g class="d"><circle cx="1795.9" cy="1309.9" r="14"/></g>
<g class="c"><circle cx="222.3" cy="1417.5" r="14"/></g>
<g class="a"><circle cx="993.4" cy="773.3" r="14"/></g>
<g class="d s"><circle cx="1866.7" cy="1356.7" r="14"/></g>
<g class="m"><circle cx="1007.8" cy="1170.7" r="14"/></g>
<g class="d s"><circle cx="1674.3" cy="1350.4" r="14"/></g>
<g class="m s"><circle cx="1122.4" cy="1245.0" r="14"/></g>
<g class="b s"><circle cx="1016.9" cy="1059.9" r="14"/></g>
<g class="m s"><circle cx="1156.5" cy="1258.0" r="14"/></g>
<g class="a"><circle cx="957.9" cy="138.3" r="14"/></g>
<g class="d"><circle cx="1739.0" cy="1279.8" r="14"/></g>
<g class="a"><circle cx="1006.6" cy="604.9" r="14"/></g>
<g class="m"><circle cx="1141.5" cy="1218.5" r="14"/></g>
<g class="a s"><circle cx="978.2" cy="611.9" r="14"/></g>
<g class="a"><circle cx="949.3" cy="158.1" r="14"/></g>
<g class="d s"><circle cx="1837.0" cy="1387.3" r="14"/></g>
<g class="m"><circle cx="805.4" cy="1386.4" r="14"/></g>
<g class="d"><circle cx="1753.2" cy="1317.6" r="14"/></g>
<g class="m s"><circle cx="1302.0" cy="1349.7" r="14"/></g>
<g class="d"><circle cx="1824.3" cy="1302.0" r="14"/></g>
<g class="d s"><circle cx="1610.4" cy="1290.3" r="14"/></g>
<g class="a"><circle cx="958.0" cy="129.0" r="14"/></g>
<g class="m s"><circle cx="1060.2" cy="1238.0" r="14"/></g>
<g class="d"><circle cx="1839.9" cy="1466.1" r="14"/></g>
<g class="c s"><circle cx="696.2" cy="1370.3" r="14"/></g>
<g class="m"><circle cx="812.0" cy="1212.0" r="14"/><circle cx="1115.9" cy="1242.3" r="14"/></g>
<g class="m s"><circle cx="953.3" cy="1283.3" r="14"/></g>
<g class="m"><circle cx="1102.0" cy="1290.4" r="14"/><circle cx="789.5" cy="1277.4" r="14"/></g>
<g class="c"><circle cx="118.5" cy="1444.7" r="14"/></g>
<g class="c s"><circle cx="592.7" cy="1396.7" r="14"/></g>
<g class="a"><circle cx="930.0" cy="218.0" r="14"/></g>
<g class="c"><circle cx="570.8" cy="1416.8" r="14"/><circle cx="429.9" cy="1420.3" r="14"/></g>
<g class="m s"><circle cx="1030.3" cy="1186.9" r="14"/></g>
<g class="d s"><circle cx="1768.8" cy="1456.4" r="14"/><circle cx="1900.3" cy="1375.2" r="14"/></g>
<g class="m s"><circle cx="1117.8" cy="1279.0" r="14"/></g>
<g class="a"><circle cx="920.6" cy="178.1" r="14"/></g>
<g class="b s"><circle cx="998.0" cy="1103.9" r="14"/></g>
<g class="a s"><circle cx="964.6" cy="487.5" r="14"/><circle cx="994.0" cy="608.0" r="14"/></g>
<g class="m s"><circle cx="1326.5" cy="1372.6" r="14"/></g>
<g class="b"><circle cx="997.6" cy="990.1" r="14"/></g>
<g class="m"><circle cx="1379.4" cy="1337.1" r="14"/></g>
<g class="e s"><circle cx="114.2" cy="1540.1" r="14"/></g>
<g class="c"><circle cx="302.0" cy="1453.0" r="14"/></g>
<g class="e s"><circle cx="125.1" cy="1390.8" r="14"/></g>
<g class="d"><circle cx="1862.1" cy="1405.5" r="14"/></g>
<g class="a"><circle cx="973.1" cy="464.0" r="14"/></g>
<g class="m s"><circle cx="1270.8" cy="1275.4" r="14"/></g>
<g class="d"><circle cx="1556.2" cy="1354.1" r="14"/></g>
<g class="m"><circle cx="992.1" cy="1273.2" r="14"/><circle cx="1141.5" cy="1288.0" r="14"/></g>
<g class="e"><circle cx="95.5" cy="1432.8" r="14"/></g>
<g class="a"><circle cx="985.9" cy="670.1" r="14"/></g>
<g class="d"><circle cx="1774.1" cy="1344.1" r="14"/></g>
<g class="m"><circle cx="919.2" cy="1309.0" r="14"/></g>
<g class="m s"><circle cx="1042.2" cy="1261.8" r="14"/></g>
<g class="a"><circle cx="1014.3" cy="891.0" r="14"/></g>
<g class="m"><circle cx="1301.2" cy="1232.8" r="14"/><circle cx="959.6" cy="1363.7" r="14"/></g>
<g class="c"><circle cx="236.4" cy="1496.8" r="14"/></g>
<g class="a s"><circle cx="956.2" cy="643.6" r="14"/></g>
<g class="d"><circle cx="1681.4" cy="1350.0" r="14"/></g>
<g class="b"><circle cx="988.1" cy="1053.4" r="14"/></g>
<g class="d"><circle cx="1851.1" cy="1465.2" r="14"/></g>
<g class="m"><circle cx="1112.7" cy="1314.8" r="14"/></g>
<g class="d"><circle cx="1665.3" cy="1347.5" r="14"/><circle cx="1754.0" cy="1369.5" r="14"/></g>
<g class="c"><circle cx="109.6" cy="1458.1" r="14"/></g>
<g class="a"><circle cx="951.6" cy="161.7" r="14"/><circle cx="976.0" cy="753.7" r="14"/></g>
<g class="a s"><circle cx="976.0" cy="385.4" r="14"/></g>
<g class="d s"><circle cx="1689.6" cy="1303.3" r="14"/></g>
<g class="b s"><circle cx="1017.0" cy="1020.9" r="14"/></g>
<g class="m s"><circle cx="1051.1" cy="1253.0" r="14"/></g>
<g class="b s"><circle cx="972.8" cy="1058.4" r="14"/></g>
<g class="d"><circle cx="1676.3" cy="1384.2" r="14"/></g>
<g class="m s"><circle cx="1299.9" cy="1350.9" r="14"/></g>
<g class="b s"><circle cx="1003.4" cy="993.2" r="14"/></g>
<g class="m s"><circle cx="1103.3" cy="1283.4" r="14"/></g>
<g class="a s"><circle cx="999.1" cy="600.1" r="14"/></g>
<g class="a"><circle cx="962.3" cy="507.5" r="14"/></g>
<g class="d s"><circle cx="1644.0" cy="1408.7" r="14"/><circle cx="1883.1" cy="1421.5" r="14"/></g>
<g class="b s"><circle cx="1041.2" cy="1014.5" r="14"/></g>
<g class="d s"><circle cx="1870.3" cy="1489.5" r="14"/></g>
<g class="m s"><circle cx="813.6" cy="1338.0" r="14"/></g>
<g class="d s"><circle cx="1575.4" cy="1338.3" r="14"/></g>
<g class="m"><circle cx="779.2" cy="1279.2" r="14"/></g>
<g class="a"><circle cx="999.9" cy="734.3" r="14"/></g>
<g class="c"><circle cx="121.8" cy="1500.1" r="14"/></g>
<g class="m"><circle cx="1003.0" cy="1268.7" r="14"/></g>
<g class="a s"><circle cx="1004.6" cy="653.6" r="14"/></g>
<g class="a"><circle cx="961.6" cy="146.2" r="14"/></g>
<g class="m"><circle cx="844.8" cy="1264.4" r="14"/></g>
<g class="a"><circle cx="900.7" cy="224.0" r="14"/></g>
<g class="b"><circle cx="1035.6" cy="1069.4" r="14"/></g>
<g class="m"><circle cx="975.1" cy="1338.8" r="14"/><circle cx="460.0" cy="1362.0" r="14"/></g>
<g class="m s"><circle cx="1339.5" cy="1373.4" r="14"/></g>
<g class="m"><circle cx="844.7" cy="1248.1" r="14"/></g>
<g class="c s"><circle cx="173.9" cy="1460.0" r="14"/></g>
<g class="b s"><circle cx="1058.7" cy="892.7" r="14"/></g>
<g class="d s"><circle cx="1860.9" cy="1441.2" r="14"/></g>
<g class="a"><circle cx="958.1" cy="575.4" r="14"/></g>
<g class="a s"><circle cx="988.9" cy="642.9" r="14"/></g>
<g class="c"><circle cx="222.8" cy="1499.5" r="14"/></g>
<g class="m"><circle cx="1042.1" cy="1233.3" r="14"/></g>
<g class="a s"><circle cx="975.0" cy="277.0" r="14"/></g>
<g class="d"><circle cx="1914.0" cy="1386.9" r="14"/></g>
<g class="a"><circle cx="984.9" cy="922.2" r="14"/></g>
<g class="c"><circle cx="229.8" cy="1448.3" r="14"/></g>
<g class="d s"><circle cx="1456.7" cy="1341.2" r="14"/></g>
<g class="a s"><circle cx="966.1" cy="766.5" r="14"/></g>
<g class="m"><circle cx="931.8" cy="1307.8" r="14"/></g>
<g class="m s"><circle cx="1232.6" cy="1237.8" r="14"/></g>
<g class="d s"><circle cx="1921.2" cy="1428.6" r="14"/></g>
<g class="m s"><circle cx="1274.9" cy="1270.5" r="14"/></g>
<g class="d"><circle cx="1733.3" cy="1350.0" r="14"/></g>
<g class="b"><circle cx="1016.8" cy="1012.9" r="14"/></g>
<g class="m s"><circle cx="1304.6" cy="1289.5" r="14"/></g>
<g class="a s"><circle cx="1021.5" cy="897.2" r="14"/></g>
<g class="b"><circle cx="999.8" cy="906.0" r="14"/></g>
<g class="a s"><circle cx="954.1" cy="150.3" r="14"/></g>
<g class="c"><circle cx="252.9" cy="1464.4" r="14"/></g>
<g class="b s"><circle cx="995.8" cy="1076.8" r="14"/></g>
<g class="c"><circle cx="467.2" cy="1481.3" r="14"/></g>
<g class="m s"><circle cx="1403.9" cy="1320.9" r="14"/></g>
<g class="b s"><circle cx="1038.5" cy="896.6" r="14"/></g>
<g class="a s"><circle cx="981.2" cy="885.3" r="14"/></g>
<g class="a"><circle cx="958.4" cy="277.2" r="14"/></g>
<g class="d"><circle cx="1492.0" cy="1276.0" r="14"/></g>
<g class="c"><circle cx="109.4" cy="1478.0" r="14"/></g>
<g class="d s"><circle cx="1783.9" cy="1316.1" r="14"/></g>
<g class="m s"><circle cx="1329.9" cy="1247.5" r="14"/></g>
<g class="m"><circle cx="1085.7" cy="1231.8" r="14"/></g>
<g class="m s"><circle cx="801.0" cy="1348.9" r="14"/></g>
<g class="a s"><circle cx="964.7" cy="161.7" r="14"/></g>
<g class="d s"><circle cx="1866.1" cy="1435.2" r="14"/></g>
<g class="m"><circle cx="1017.4" cy="1300.9" r="14"/><circle cx="1057.2" cy="1203.3" r="14"/></g>
<g class="d"><circle cx="1502.4" cy="1320.3" r="14"/></g>
<g class="a"><circle cx="974.6" cy="511.1" r="14"/></g>
<g class="d"><circle cx="1711.1" cy="1370.0" r="14"/></g>
<g class="m"><circle cx="899.6" cy="1308.7" r="14"/><circle cx="1219.3" cy="1297.8" r="14"/></g>
<g class="m s"><circle cx="814.7" cy="1333.1" r="14"/></g>
<g class="d"><circle cx="1714.8" cy="1322.3" r="14"/></g>
<g class="a s"><circle cx="952.0" cy="505.2" r="14"/></g>
<g class="d s"><circle cx="1935.9" cy="1337.9" r="14"/><circle cx="1712.6" cy="1332.3" r="14"/></g>
<g class="e"><circle cx="96.9" cy="1502.7" r="14"/></g>
<g class="m s"><circle cx="1350.1" cy="1315.5" r="14"/><circle cx="792.6" cy="1285.2" r="14"/></g>
<g class="d"><circle cx="1783.7" cy="1336.6" r="14"/></g>
<g class="m"><circle cx="1157.9" cy="1217.0" r="14"/></g>
<g class="b"><circle cx="1047.4" cy="1018.6" r="14"/></g>
<g class="d s"><circle cx="1785.8" cy="1325.2" r="14"/></g>
<g class="a s"><circle cx="970.0" cy="539.3" r="14"/></g>
<g class="m"><circle cx="1338.0" cy="1294.3" r="14"/></g>
<g class="m s"><circle cx="1222.5" cy="1225.9" r="14"/></g>
<g class="c"><circle cx="372.1" cy="1489.6" r="14"/></g>
<g class="m"><circle cx="1301.7" cy="1287.5" r="14"/></g>
<g class="m s"><circle cx="1288.4" cy="1217.8" r="14"/></g>
<g class="m"><circle cx="1118.3" cy="1256.6" r="14"/></g>
<g class="e"><circle cx="92.5" cy="1434.5" r="14"/></g>
<g class="m s"><circle cx="1132.1" cy="1248.7" r="14"/></g>
<g class="m"><circle cx="1004.4" cy="1292.2" r="14"/></g>
<g class="c s"><circle cx="393.9" cy="1503.6" r="14"/></g>
<g class="a s"><circle cx="902.2" cy="214.2" r="14"/></g>
<g class="e s"><circle cx="72.7" cy="1430.4" r="14"/></g>
<g class="b s"><circle cx="1078.9" cy="999.2" r="14"/></g>
<g class="d s"><circle cx="1730.3" cy="1335.7" r="14"/></g>
<g class="m"><circle cx="818.1" cy="1330.3" r="14"/><circle cx="857.8" cy="1323.7" r="14"/></g>
<g class="a s"><circle cx="916.7" cy="211.1" r="14"/></g>
<g class="m s"><circle cx="897.0" cy="1284.6" r="14"/></g>
<g class="d"><circle cx="1860.1" cy="1428.9" r="14"/></g>
<g class="m s"><circle cx="893.5" cy="1234.0" r="14"/></g>
<g class="c"><circle cx="123.8" cy="1430.8" r="14"/></g>
<g class="m"><circle cx="1261.3" cy="1288.2" r="14"/></g>
<g class="a"><circle cx="973.7" cy="584.7" r="14"/></g>
<g class="c"><circle cx="181.4" cy="1480.7" r="14"/></g>
<g class="b"><circle cx="1027.1" cy="1083.1" r="14"/></g>
<g class="c"><circle cx="684.6" cy="1409.3" r="14"/></g>
<g class="m"><circle cx="913.0" cy="1346.7" r="14"/></g>
<g class="d s"><circle cx="1767.1" cy="1356.2" r="14"/></g>
<g class="e"><circle cx="128.3" cy="1534.9" r="14"/></g>
<g class="b"><circle cx="1001.6" cy="960.3" r="14"/></g>
<g class="d"><circle cx="1680.9" cy="1338.5" r="14"/></g>
<g class="a"><circle cx="1008.1" cy="741.7" r="14"/></g>
<g class="a s"><circle cx="932.5" cy="352.2" r="14"/></g>
<g class="b s"><circle cx="1015.7" cy="969.9" r="14"/></g>
<g class="d s"><circle cx="1755.9" cy="1352.2" r="14"/></g>
<g class="b s"><circle cx="1002.7" cy="956.3" r="14"/></g>
<g class="d"><circle cx="1790.4" cy="1376.7" r="14"/></g>
<g class="m s"><circle cx="1298.1" cy="1279.1" r="14"/></g>
<g class="b"><circle cx="974.1" cy="978.5" r="14"/></g>
<g class="m s"><circle cx="1220.9" cy="1283.4" r="14"/></g>
<g class="m"><circle cx="1342.3" cy="1336.0" r="14"/></g>
<g class="d"><circle cx="1523.9" cy="1322.4" r="14"/></g>
<g class="m"><circle cx="771.0" cy="1313.2" r="14"/></g>
<g class="m s"><circle cx="1162.0" cy="1270.1" r="14"/></g>
<g class="c"><circle cx="124.4" cy="1422.6" r="14"/></g>
<g class="d"><circle cx="1836.5" cy="1355.1" r="14"/></g>
<g class="a"><circle cx="964.1" cy="300.0" r="14"/></g>
<g class="m s"><circle cx="1141.4" cy="1296.5" r="14"/></g>
<g class="a s"><circle cx="943.2" cy="275.1" r="14"/></g>
<g class="m s"><circle cx="921.7" cy="1348.6" r="14"/></g>
<g class="a"><circle cx="983.6" cy="582.6" r="14"/><circle cx="948.9" cy="144.3" r="14"/></g>
<g class="m"><circle cx="1283.7" cy="1214.1" r="14"/></g>
<g class="c s"><circle cx="237.3" cy="1427.0" r="14"/></g>
<g class="d s"><circle cx="1817.2" cy="1331.0" r="14"/></g>
<g class="e"><circle cx="111.0" cy="1570.0" r="14"/></g>
<g class="m"><circle cx="799.3" cy="1304.9" r="14"/></g>
<g class="d s"><circle cx="1891.7" cy="1459.8" r="14"/></g>
<g class="d"><circle cx="1915.6" cy="1380.1" r="14"/></g>
<g class="m s"><circle cx="941.8" cy="1248.1" r="14"/><circle cx="1136.5" cy="1219.2" r="14"/></g>
<g class="e"><circle cx="131.2" cy="1404.3" r="14"/></g>
<g class="c"><circle cx="556.7" cy="1471.9" r="14"/></g>
<g class="m"><circle cx="782.8" cy="1307.0" r="14"/><circle cx="1013.0" cy="1182.5" r="14"/></g>
<g class="m s"><circle cx="1194.4" cy="1265.3" r="14"/></g>
<g class="a"><circle cx="948.6" cy="300.8" r="14"/><circle cx="1010.9" cy="822.2" r="14"/></g>
<g class="c s"><circle cx="262.8" cy="1496.7" r="14"/></g>
<g class="m"><circle cx="953.8" cy="1310.5" r="14"/></g>
<g class="a"><circle cx="961.0" cy="435.5" r="14"/></g>
<g class="c s"><circle cx="540.2" cy="1465.1" r="14"/></g>
<g class="a"><circle cx="999.9" cy="559.6" r="14"/></g>
<g class="d"><circle cx="1630.7" cy="1397.6" r="14"/><circle cx="1869.9" cy="1363.4" r="14"/></g>
<g class="m"><circle cx="879.4" cy="1216.4" r="14"/></g>
<g class="a s"><circle cx="966.7" cy="519.6" r="14"/></g>
<g class="m"><circle cx="965.5" cy="1252.7" r="14"/></g>
<g class="d"><circle cx="1608.8" cy="1314.3" r="14"/></g>
<g class="d s"><circle cx="1855.6" cy="1363.2" r="14"/></g>
<g class="b s"><circle cx="1013.2" cy="911.8" r="14"/></g>
<g class="m s"><circle cx="1104.0" cy="1202.9" r="14"/></g>
<g class="d s"><circle cx="1466.2" cy="1367.8" r="14"/></g>
<g class="d"><circle cx="1821.5" cy="1428.1" r="14"/></g>
<g class="d s"><circle cx="1641.3" cy="1309.7" r="14"/></g>
<g class="m s"><circle cx="1039.1" cy="1181.6" r="14"/></g>
<g class="d"><circle cx="1873.5" cy="1425.9" r="14"/></g>
<g class="m s"><circle cx="872.7" cy="1343.5" r="14"/></g>
<g class="a s"><circle cx="909.9" cy="197.8" r="14"/></g>
<g class="m s"><circle cx="914.5" cy="1235.7" r="14"/></g>
<g class="e s"><circle cx="60.0" cy="1400.0" r="14"/></g>
<g class="m"><circle cx="1335.9" cy="1257.4" r="14"/></g>
<g class="c s"><circle cx="777.9" cy="1418.7" r="14"/></g>
<g class="m"><circle cx="1337.3" cy="1336.9" r="14"/></g>
<g class="d s"><circle cx="1471.3" cy="1346.8" r="14"/><circle cx="1911.5" cy="1414.5" r="14"/></g>
<g class="d"><circle cx="1652.1" cy="1339.6" r="14"/></g>
<g class="a"><circle cx="945.4" cy="623.7" r="14"/></g>
<g class="d"><circle cx="1860.7" cy="1389.7" r="14"/></g>
<g class="m"><circle cx="1125.9" cy="1261.4" r="14"/></g>
<g class="d"><circle cx="1724.8" cy="1404.8" r="14"/><circle cx="1546.2" cy="1339.8" r="14"/></g>
<g class="m s"><circle cx="1173.3" cy="1282.6" r="14"/></g>
<g class="a"><circle cx="972.6" cy="356.5" r="14"/></g>
<g class="d s"><circle cx="1621.9" cy="1363.1" r="14"/></g>
<g class="c"><circle cx="374.1" cy="1456.7" r="14"/></g>
<g class="m s"><circle cx="1037.1" cy="1264.1" r="14"/></g>
<g class="d"><circle cx="1781.9" cy="1411.5" r="14"/></g>
<g class="a"><circle cx="986.9" cy="768.7" r="14"/><circle cx="989.5" cy="637.9" r="14"/></g>
<g class="d"><circle cx="1650.4" cy="1296.5" r="14"/></g>
<g class="e s"><circle cx="133.5" cy="1319.0" r="14"/></g>
<g class="m"><circle cx="1337.4" cy="1385.8" r="14"/></g>
<g class="m s"><circle cx="1281.1" cy="1270.6" r="14"/></g>
<g class="a"><circle cx="941.6" cy="557.3" r="14"/></g>
<g class="d s"><circle cx="1636.3" cy="1342.9" r="14"/></g>
<g class="d"><circle cx="1525.1" cy="1321.9" r="14"/></g>
<g class="a"><circle cx="944.9" cy="155.2" r="14"/></g>
<g class="m"><circle cx="1287.4" cy="1218.1" r="14"/><circle cx="854.2" cy="1232.4" r="14"/></g>
<g class="d"><circle cx="1775.1" cy="1346.1" r="14"/></g>
<g class="a"><circle cx="1003.8" cy="781.1" r="14"/></g>
<g class="d"><circle cx="1768.1" cy="1354.6" r="14"/></g>
<g class="m s"><circle cx="1316.0" cy="1389.2" r="14"/></g>
<g class="d s"><circle cx="1757.1" cy="1427.7" r="14"/></g>
<g class="m"><circle cx="1267.8" cy="1363.8" r="14"/></g>
<g class="a"><circle cx="959.5" cy="153.3" r="14"/></g>
<g class="m"><circle cx="1074.8" cy="1222.8" r="14"/></g>
<g class="a s"><circle cx="950.8" cy="157.2" r="14"/></g>
<g class="c s"><circle cx="247.8" cy="1434.9" r="14"/></g>
<g class="a"><circle cx="992.7" cy="808.3" r="14"/></g>
<g class="m"><circle cx="902.0" cy="1316.9" r="14"/></g>
<g class="a s"><circle cx="988.5" cy="748.9" r="14"/></g>
<g class="d"><circle cx="1816.8" cy="1358.5" r="14"/></g>
<g class="m"><circle cx="1400.0" cy="1318.0" r="14"/></g>
<g class="a s"><circle cx="1006.1" cy="823.9" r="14"/></g>
<g class="m s"><circle cx="976.4" cy="1194.4" r="14"/></g>
<g class="d"><circle cx="1860.0" cy="1386.6" r="14"/><circle cx="1477.6" cy="1399.3" r="14"/></g>
<g class="d s"><circle cx="1824.1" cy="1434.0" r="14"/><circle cx="1710.7" cy="1354.4" r="14"/></g>
<g class="d"><circle cx="1618.7" cy="1398.5" r="14"/></g>
<g class="m"><circle cx="1241.9" cy="1331.8" r="14"/></g>
<g class="d"><circle cx="1729.9" cy="1392.2" r="14"/></g>
<g class="a"><circle cx="1003.8" cy="811.9" r="14"/></g>
<g class="b s"><circle cx="1016.5" cy="997.6" r="14"/></g>
<g class="a s"><circle cx="959.7" cy="622.7" r="14"/></g>
<g class="d"><circle cx="1860.4" cy="1471.4" r="14"/></g>
<g class="a"><circle cx="1031.0" cy="835.0" r="14"/></g>
<g class="c"><circle cx="214.0" cy="1464.6" r="14"/></g>
<g class="a s"><circle cx="981.0" cy="773.3" r="14"/></g>
<g class="d"><circle cx="1744.9" cy="1365.1" r="14"/><circle cx="1709.3" cy="1275.7" r="14"/></g>
<g class="d s"><circle cx="1788.9" cy="1418.5" r="14"/></g>
<g class="m"><circle cx="862.7" cy="1315.2" r="14"/></g>
<g class="a"><circle cx="910.6" cy="193.3" r="14"/></g>
<g class="a s"><circle cx="958.3" cy="349.3" r="14"/></g>
<g class="d"><circle cx="1722.7" cy="1426.7" r="14"/></g>
<g class="m s"><circle cx="917.4" cy="1286.7" r="14"/></g>
<g class="d"><circle cx="1628.2" cy="1317.2" r="14"/></g>
<g class="b s"><circle cx="998.9" cy="1015.7" r="14"/></g>
<g class="m"><circle cx="773.3" cy="1284.9" r="14"/></g>
<g class="b s"><circle cx="1009.1" cy="983.6" r="14"/></g>
<g class="m"><circle cx="1044.0" cy="1171.3" r="14"/></g>
<g class="d s"><circle cx="1743.6" cy="1372.8" r="14"/><circle cx="1682.5" cy="1358.4" r="14"/></g>
<g class="m s"><circle cx="1007.5" cy="1213.3" r="14"/></g>
<g class="d"><circle cx="1760.5" cy="1293.1" r="14"/></g>
<g class="d s"><circle cx="1843.6" cy="1393.2" r="14"/></g>
<g class="d"><circle cx="1831.3" cy="1359.8" r="14"/></g>
<g class="m"><circle cx="951.6" cy="1213.1" r="14"/></g>
<g class="d s"><circle cx="1812.9" cy="1425.1" r="14"/></g>
<g class="m"><circle cx="1055.0" cy="1135.0" r="14"/></g>
<g class="a"><circle cx="900.2" cy="214.5" r="14"/></g>
<g class="b"><circle cx="976.4" cy="1060.3" r="14"/><circle cx="1030.4" cy="1078.0" r="14"/></g>
<g class="d s"><circle cx="1660.5" cy="1349.5" r="14"/><circle cx="1804.8" cy="1311.9" r="14"/></g>
<g class="d"><circle cx="1618.0" cy="1320.3" r="14"/><circle cx="1909.6" cy="1447.6" r="14"/></g>
<g class="c s"><circle cx="800.2" cy="1399.7" r="14"/></g>
<g class="d"><circle cx="1825.6" cy="1335.4" r="14"/></g>
<g class="m s"><circle cx="1097.2" cy="1311.3" r="14"/></g>
<g class="b"><circle cx="1020.1" cy="1004.5" r="14"/></g>
<g class="m s"><circle cx="802.2" cy="1262.6" r="14"/><circle cx="1322.0" cy="1292.3" r="14"/></g>
<g class="e s"><circle cx="128.0" cy="1550.0" r="14"/></g>
<g class="a s"><circle cx="985.0" cy="820.5" r="14"/></g>
<g class="m s"><circle cx="1061.1" cy="1332.8" r="14"/></g>
<g class="d s"><circle cx="1476.3" cy="1391.6" r="14"/></g>
<g class="a s"><circle cx="932.9" cy="162.8" r="14"/></g>
<g class="a"><circle cx="952.4" cy="150.7" r="14"/></g>
<g class="m"><circle cx="883.1" cy="1236.6" r="14"/><circle cx="847.6" cy="1234.7" r="14"/></g>
<g class="a"><circle cx="965.1" cy="556.7" r="14"/></g>
<g class="c"><circle cx="131.5" cy="1442.1" r="14"/></g>
<g class="c s"><circle cx="372.4" cy="1470.3" r="14"/></g>
<g class="d"><circle cx="1789.6" cy="1401.6" r="14"/></g>
<g class="d s"><circle cx="1545.0" cy="1322.3" r="14"/><circle cx="1908.7" cy="1422.2" r="14"/></g>
<g class="a s"><circle cx="947.3" cy="473.2" r="14"/></g>
<g class="c s"><circle cx="572.2" cy="1404.0" r="14"/></g>
<g class="m s"><circle cx="957.0" cy="1236.5" r="14"/><circle cx="1018.6" cy="1282.7" r="14"/></g>
<g class="d"><circle cx="1745.5" cy="1363.6" r="14"/></g>
<g class="a s"><circle cx="972.9" cy="767.1" r="14"/></g>
<g class="d"><circle cx="1783.8" cy="1385.9" r="14"/></g>
<g class="c"><circle cx="598.7" cy="1466.7" r="14"/><circle cx="484.7" cy="1415.4" r="14"/></g>
<g class="d"><circle cx="1778.5" cy="1358.4" r="14"/></g>
<g class="m"><circle cx="1005.1" cy="1285.2" r="14"/></g>
<g class="c"><circle cx="173.1" cy="1465.2" r="14"/></g>
<g class="d s"><circle cx="1652.1" cy="1327.6" r="14"/></g>
<g class="b"><circle cx="977.1" cy="982.8" r="14"/></g>
<g class="m s"><circle cx="1302.8" cy="1276.5" r="14"/></g>
<g class="d s"><circle cx="1747.7" cy="1334.6" r="14"/></g>
<g class="e"><circle cx="118.4" cy="1446.6" r="14"/></g>
<g class="a s"><circle cx="933.5" cy="357.0" r="14"/></g>
<g class="d s"><circle cx="1875.4" cy="1466.3" r="14"/></g>
<g class="a"><circle cx="1013.1" cy="798.9" r="14"/></g>
<g class="c"><circle cx="686.7" cy="1464.8" r="14"/></g>
<g class="m"><circle cx="1006.3" cy="1234.3" r="14"/></g>
<g class="m s"><circle cx="1046.4" cy="1292.5" r="14"/></g>
<g class="d"><circle cx="1713.9" cy="1330.2" r="14"/></g>
<g class="m s"><circle cx="989.2" cy="1204.8" r="14"/></g>
<g class="d s"><circle cx="1655.1" cy="1316.2" r="14"/><circle cx="1468.7" cy="1410.0" r="14"/></g>
<g class="m s"><circle cx="853.4" cy="1244.6" r="14"/></g>
<g class="m"><circle cx="1356.4" cy="1362.0" r="14"/></g>
<g class="e s"><circle cx="70.1" cy="1426.0" r="14"/></g>
<g class="d"><circle cx="1910.4" cy="1379.0" r="14"/></g>
<g class="m"><circle cx="1230.2" cy="1257.4" r="14"/></g>
<g class="e"><circle cx="92.0" cy="1464.1" r="14"/></g>
<g class="m s"><circle cx="1318.8" cy="1351.8" r="14"/></g>
<g class="d"><circle cx="1923.2" cy="1394.8" r="14"/><circle cx="1805.2" cy="1372.7" r="14"/></g>
<g class="d s"><circle cx="1497.1" cy="1379.9" r="14"/></g>
<g class="m"><circle cx="1214.8" cy="1210.1" r="14"/></g>
<g class="c"><circle cx="581.5" cy="1432.1" r="14"/></g>
<g class="m s"><circle cx="959.5" cy="1254.1" r="14"/><circle cx="1226.8" cy="1214.7" r="14"/></g>
<g class="a s"><circle cx="981.1" cy="586.2" r="14"/></g>
<g class="b"><circle cx="1042.9" cy="951.0" r="14"/></g>
<g class="a"><circle cx="991.2" cy="861.8" r="14"/></g>
<g class="m"><circle cx="1022.3" cy="1179.5" r="14"/></g>
<g class="a s"><circle cx="983.1" cy="906.3" r="14"/></g>
<g class="m"><circle cx="1265.7" cy="1340.3" r="14"/></g>
<g class="a"><circle cx="1027.5" cy="878.2" r="14"/><circle cx="922.9" cy="194.5" r="14"/></g>
<g class="a s"><circle cx="957.0" cy="567.9" r="14"/></g>
<g class="m s"><circle cx="1331.1" cy="1376.1" r="14"/></g>
<g class="a"><circle cx="946.3" cy="363.1" r="14"/></g>
<g class="d s"><circle cx="1458.5" cy="1356.9" r="14"/></g>
<g class="c"><circle cx="256.0" cy="1519.0" r="14"/></g>
<g class="m"><circle cx="1360.3" cy="1270.1" r="14"/></g>
<g class="c s"><circle cx="229.7" cy="1527.6" r="14"/></g>
<g class="a s"><circle cx="954.4" cy="622.1" r="14"/></g>
<g class="m"><circle cx="1317.0" cy="1266.3" r="14"/></g>
<g class="m s"><circle cx="917.5" cy="1253.7" r="14"/></g>
<g class="m"><circle cx="968.2" cy="1307.4" r="14"/></g>
<g class="a"><circle cx="1000.0" cy="385.0" r="14"/></g>
<g class="d"><circle cx="1771.3" cy="1392.1" r="14"/></g>
<g class="d s"><circle cx="1442.0" cy="1371.9" r="14"/></g>
<g class="m s"><circle cx="929.2" cy="1277.8" r="14"/></g>
<g class="m"><circle cx="1214.2" cy="1201.2" r="14"/></g>
<g class="m s"><circle cx="1190.0" cy="1167.0" r="14"/></g>
<g class="m"><circle cx="787.9" cy="1293.5" r="14"/></g>
<g class="a s"><circle cx="990.2" cy="913.4" r="14"/></g>
<g class="a"><circle cx="957.9" cy="423.3" r="14"/></g>
<g class="b"><circle cx="990.8" cy="976.6" r="14"/></g>
<g class="d"><circle cx="1944.7" cy="1379.6" r="14"/></g>
<g class="m s"><circle cx="855.4" cy="1305.9" r="14"/></g>
<g class="d s"><circle cx="1367.0" cy="1295.0" r="14"/></g>
<g class="a"><circle cx="956.7" cy="545.9" r="14"/></g>
<g class="m s"><circle cx="968.0" cy="1254.2" r="14"/></g>
<g class="m"><circle cx="1330.6" cy="1365.5" r="14"/></g>
<g class="c"><circle cx="525.2" cy="1419.0" r="14"/></g>
<g class="d"><circle cx="1758.7" cy="1328.0" r="14"/></g>
<g class="m s"><circle cx="1180.9" cy="1260.1" r="14"/></g>
<g class="m"><circle cx="938.0" cy="1246.6" r="14"/></g>
<g class="m s"><circle cx="851.0" cy="1302.3" r="14"/></g>
<g class="b"><circle cx="1059.2" cy="927.4" r="14"/></g>
<g class="m"><circle cx="980.4" cy="1299.7" r="14"/><circle cx="793.3" cy="1261.7" r="14"/></g>
<g class="d s"><circle cx="1880.9" cy="1446.5" r="14"/></g>
<g class="m s"><circle cx="1320.9" cy="1329.0" r="14"/></g>
<g class="d"><circle cx="1752.2" cy="1338.0" r="14"/></g>
<g class="m"><circle cx="1235.0" cy="1316.9" r="14"/></g>
<g class="a"><circle cx="972.2" cy="818.7" r="14"/></g>
<g class="e s"><circle cx="92.0" cy="1423.8" r="14"/></g>
<g class="d"><circle cx="1813.9" cy="1365.7" r="14"/></g>
<g class="m s"><circle cx="1058.3" cy="1246.1" r="14"/></g>
<g class="a s"><circle cx="968.5" cy="273.4" r="14"/></g>
<g class="b"><circle cx="1063.6" cy="942.2" r="14"/></g>
<g class="m s"><circle cx="1077.8" cy="1213.2" r="14"/></g>
<g class="d"><circle cx="1745.2" cy="1393.1" r="14"/></g>
<g class="a"><circle cx="910.8" cy="214.3" r="14"/></g>
<g class="f"><circle cx="1999.4" cy="1416.9" r="14"/></g>
<g class="d"><circle cx="1793.8" cy="1320.3" r="14"/></g>
<g class="a s"><circle cx="948.2" cy="160.8" r="14"/></g>
<g class="c s"><circle cx="746.6" cy="1407.2" r="14"/></g>
<g class="b s"><circle cx="1010.7" cy="1040.1" r="14"/></g>
<g class="m"><circle cx="944.5" cy="1276.3" r="14"/></g>
<g class="d"><circle cx="1756.5" cy="1427.6" r="14"/></g>
<g class="b s"><circle cx="991.1" cy="983.7" r="14"/></g>
<g class="f s"><circle cx="1940.5" cy="1443.2" r="14"/></g>
<g class="a s"><circle cx="953.5" cy="601.5" r="14"/></g>
<g class="e"><circle cx="88.8" cy="1466.3" r="14"/></g>
<g class="m"><circle cx="1122.2" cy="1281.5" r="14"/></g>
<g class="a"><circle cx="952.2" cy="158.0" r="14"/></g>
<g class="m"><circle cx="975.7" cy="1241.2" r="14"/></g>
<g class="b"><circle cx="981.7" cy="1018.7" r="14"/></g>
<g class="m"><circle cx="981.9" cy="1203.9" r="14"/></g>
<g class="f s"><circle cx="1976.3" cy="1409.3" r="14"/></g>
<g class="d"><circle cx="1889.7" cy="1407.7" r="14"/></g>
<g class="d s"><circle cx="1832.6" cy="1457.6" r="14"/><circle cx="1873.9" cy="1369.7" r="14"/></g>
<g class="d"><circle cx="1761.8" cy="1343.9" r="14"/><circle cx="1834.3" cy="1404.2" r="14"/></g>
<g class="a"><circle cx="974.1" cy="636.7" r="14"/></g>
<g class="c"><circle cx="231.8" cy="1458.6" r="14"/><circle cx="298.1" cy="1434.8" r="14"/></g>
<g class="e"><circle cx="85.0" cy="1371.2" r="14"/></g>
<g class="c"><circle cx="424.7" cy="1482.0" r="14"/></g>
<g class="a s"><circle cx="945.1" cy="614.6" r="14"/></g>
<g class="m s"><circle cx="1011.8" cy="1193.7" r="14"/></g>
<g class="d s"><circle cx="1899.1" cy="1475.7" r="14"/></g>
<g class="f"><circle cx="1996.2" cy="1473.8" r="14"/></g>
<g class="a s"><circle cx="963.0" cy="345.6" r="14"/></g>
<g class="m s"><circle cx="1061.0" cy="1249.4" r="14"/></g>
<g class="d"><circle cx="1829.2" cy="1357.9" r="14"/></g>
<g class="m"><circle cx="1117.0" cy="1372.6" r="14"/></g>
<g class="d"><circle cx="1673.7" cy="1380.1" r="14"/></g>
<g class="m"><circle cx="929.5" cy="1205.5" r="14"/></g>
<g class="b"><circle cx="1006.6" cy="1013.5" r="14"/></g>
<g class="f"><circle cx="1970.0" cy="1527.0" r="14"/></g>
<g class="m s"><circle cx="1308.2" cy="1358.4" r="14"/></g>
<g class="m"><circle cx="809.3" cy="1296.8" r="14"/></g>
<g class="f"><circle cx="1965.6" cy="1513.9" r="14"/></g>
<g class="c s"><circle cx="621.9" cy="1404.2" r="14"/></g>
<g class="e s"><circle cx="106.6" cy="1509.6" r="14"/></g>
<g class="a"><circle cx="905.0" cy="162.0" r="14"/></g>
<g class="d s"><circle cx="1551.8" cy="1333.2" r="14"/></g>
<g class="f"><circle cx="1988.7" cy="1456.4" r="14"/><circle cx="1930.0" cy="1535.0" r="14"/></g>
<g class="m"><circle cx="1320.8" cy="1327.8" r="14"/></g>
<g class="a"><circle cx="1001.1" cy="899.0" r="14"/></g>
<g class="d s"><circle cx="1782.6" cy="1292.1" r="14"/><circle cx="1786.1" cy="1342.5" r="14"/></g>
<g class="a"><circle cx="972.4" cy="567.1" r="14"/></g>
<g class="f"><circle cx="1990.3" cy="1385.4" r="14"/></g>
<g class="m s"><circle cx="1297.5" cy="1302.1" r="14"/></g>
<g class="c"><circle cx="620.9" cy="1430.4" r="14"/></g>
<g class="d s"><circle cx="1589.7" cy="1341.8" r="14"/></g>
<g class="c s"><circle cx="133.6" cy="1492.8" r="14"/></g>
<g class="m s"><circle cx="1197.5" cy="1219.4" r="14"/></g>
<g class="d s"><circle cx="1859.1" cy="1333.0" r="14"/></g>
<g class="c"><circle cx="157.7" cy="1487.5" r="14"/></g>
<g class="a s"><circle cx="928.4" cy="377.5" r="14"/></g>
<g class="d"><circle cx="1641.4" cy="1395.9" r="14"/></g>
<g class="m s"><circle cx="893.3" cy="1278.0" r="14"/><circle cx="816.0" cy="1284.7" r="14"/></g>
<g class="c"><circle cx="718.1" cy="1361.1" r="14"/></g>
<g class="e"><circle cx="79.1" cy="1488.2" r="14"/></g>
<g class="d"><circle cx="1823.9" cy="1304.5" r="14"/></g>
<g class="e s"><circle cx="75.0" cy="1455.0" r="14"/></g>
<g class="b s"><circle cx="1014.1" cy="985.6" r="14"/></g>
<g class="e s"><circle cx="86.2" cy="1443.4" r="14"/></g>
<g class="c"><circle cx="625.2" cy="1414.9" r="14"/></g>
<g class="m s"><circle cx="1323.5" cy="1384.7" r="14"/></g>
<g class="a s"><circle cx="990.3" cy="904.9" r="14"/></g>
<g class="d"><circle cx="1786.8" cy="1342.7" r="14"/><circle cx="1880.3" cy="1421.0" r="14"/></g>
<g class="m s"><circle cx="1282.4" cy="1358.3" r="14"/></g>
<g class="m"><circle cx="1343.9" cy="1379.1" r="14"/></g>
<g class="c"><circle cx="235.9" cy="1490.5" r="14"/><circle cx="509.9" cy="1474.5" r="14"/></g>
<g class="b"><circle cx="1009.4" cy="1079.9" r="14"/></g>
<g class="c"><circle cx="247.0" cy="1465.4" r="14"/></g>
<g class="d"><circle cx="1701.1" cy="1354.8" r="14"/><circle cx="1802.6" cy="1371.7" r="14"/></g>
<g class="a"><circle cx="1007.8" cy="778.0" r="14"/><circle cx="988.1" cy="866.7" r="14"/></g>
<g class="a s"><circle cx="961.5" cy="295.5" r="14"/></g>
<g class="m s"><circle cx="979.4" cy="1306.2" r="14"/><circle cx="962.0" cy="1140.0" r="14"/></g>
<g class="m"><circle cx="1240.1" cy="1192.8" r="14"/></g>
<g class="c"><circle cx="305.3" cy="1441.5" r="14"/></g>
<g class="f"><circle cx="1951.0" cy="1397.2" r="14"/></g>
<g class="c s"><circle cx="227.0" cy="1460.9" r="14"/></g>
<g class="f s"><circle cx="2005.0" cy="1450.0" r="14"/></g>
<g class="m s"><circle cx="971.5" cy="1326.8" r="14"/></g>
<g class="f s"><circle cx="1978.7" cy="1513.4" r="14"/><circle cx="1981.2" cy="1381.0" r="14"/></g>
<g class="m"><circle cx="944.0" cy="1261.7" r="14"/></g>
<g class="m s"><circle cx="950.5" cy="1236.1" r="14"/></g>
<g class="c s"><circle cx="254.5" cy="1416.5" r="14"/></g>
<g class="c"><circle cx="239.6" cy="1477.2" r="14"/></g>
<g class="e"><circle cx="73.8" cy="1392.9" r="14"/></g>
<g class="d"><circle cx="1772.1" cy="1351.0" r="14"/></g>
<g class="m s"><circle cx="1152.5" cy="1260.5" r="14"/></g>
<g class="e s"><circle cx="61.9" cy="1399.6" r="14"/></g>
<g class="d"><circle cx="1639.8" cy="1348.7" r="14"/></g>
<g class="m"><circle cx="962.7" cy="1297.4" r="14"/></g>
<g class="c"><circle cx="583.3" cy="1400.0" r="14"/></g>
<g class="a s"><circle cx="944.0" cy="336.1" r="14"/></g>
<g class="d s"><circle cx="1670.9" cy="1380.3" r="14"/></g>
<g class="a"><circle cx="1009.5" cy="665.8" r="14"/></g>
<g class="d"><circle cx="1407.8" cy="1358.3" r="14"/></g>
<g class="e"><circle cx="100.2" cy="1417.5" r="14"/></g>
<g class="a"><circle cx="952.7" cy="177.4" r="14"/></g>
<g class="m s"><circle cx="1317.4" cy="1381.6" r="14"/></g>
<g class="a"><circle cx="929.0" cy="186.3" r="14"/></g>
<g class="c"><circle cx="408.4" cy="1478.2" r="14"/></g>
<g class="a s"><circle cx="996.5" cy="743.9" r="14"/></g>
<g class="c"><circle cx="249.3" cy="1462.3" r="14"/><circle cx="385.0" cy="1534.0" r="14"/><circle cx="513.5" cy="1478.3" r="14"/></g>
<g class="c s"><circle cx="352.9" cy="1449.8" r="14"/><circle cx="558.6" cy="1434.7" r="14"/></g>
<g class="m s"><circle cx="1226.0" cy="1265.0" r="14"/></g>
<g class="f"><circle cx="1986.8" cy="1454.8" r="14"/></g>
<g class="d"><circle cx="1879.4" cy="1421.7" r="14"/><circle cx="1699.1" cy="1376.9" r="14"/></g>
<g class="m s"><circle cx="889.5" cy="1296.0" r="14"/></g>
<g class="a s"><circle cx="974.6" cy="761.5" r="14"/></g>
<g class="d"><circle cx="1699.4" cy="1372.1" r="14"/></g>
<g class="m s"><circle cx="1158.3" cy="1204.4" r="14"/></g>
<g class="d"><circle cx="1745.8" cy="1389.4" r="14"/></g>
<g class="a"><circle cx="975.7" cy="602.6" r="14"/></g>
<g class="d"><circle cx="1763.5" cy="1403.9" r="14"/></g>
<g class="d s"><circle cx="1733.0" cy="1404.1" r="14"/></g>
<g class="f s"><circle cx="1977.1" cy="1389.2" r="14"/></g>
<g class="b s"><circle cx="1028.7" cy="1040.2" r="14"/></g>
<g class="m s"><circle cx="983.2" cy="1215.7" r="14"/></g>
<g class="d s"><circle cx="1781.9" cy="1364.2" r="14"/></g>
<g class="c s"><circle cx="418.7" cy="1506.8" r="14"/></g>
<g class="m"><circle cx="785.3" cy="1288.1" r="14"/></g>
<g class="a s"><circle cx="955.4" cy="164.5" r="14"/></g>
<g class="d s"><circle cx="1830.0" cy="1334.0" r="14"/></g>
<g class="a"><circle cx="954.2" cy="548.6" r="14"/></g>
<g class="m s"><circle cx="1221.2" cy="1258.3" r="14"/></g>
<g class="m"><circle cx="1076.9" cy="1306.1" r="14"/></g>
<g class="m s"><circle cx="947.3" cy="1236.3" r="14"/></g>
<g class="m"><circle cx="822.9" cy="1324.5" r="14"/></g>
<g class="c"><circle cx="649.4" cy="1406.5" r="14"/></g>
<g class="c s"><circle cx="137.6" cy="1475.0" r="14"/></g>
<g class="c"><circle cx="240.8" cy="1455.4" r="14"/></g>
<g class="a s"><circle cx="978.4" cy="540.7" r="14"/></g>
<g class="c"><circle cx="341.1" cy="1432.7" r="14"/></g>
<g class="b s"><circle cx="971.6" cy="976.8" r="14"/></g>
<g class="m s"><circle cx="1022.1" cy="1241.6" r="14"/><circle cx="1187.8" cy="1285.1" r="14"/><circle cx="903.1" cy="1276.6" r="14"/><circle cx="1235.7" cy="1210.1" r="14"/></g>
<g class="m"><circle cx="1036.5" cy="1229.4" r="14"/><circle cx="1145.8" cy="1206.9" r="14"/></g>
<g class="m s"><circle cx="992.1" cy="1342.7" r="14"/></g>
<g class="m"><circle cx="1117.9" cy="1247.7" r="14"/></g>
<g class="d"><circle cx="1868.0" cy="1401.9" r="14"/></g>
<g class="e"><circle cx="97.3" cy="1491.5" r="14"/></g>
<g class="d s"><circle cx="1467.4" cy="1399.1" r="14"/></g>
<g class="b"><circle cx="964.4" cy="1020.1" r="14"/></g>
<g class="m"><circle cx="1194.9" cy="1216.5" r="14"/></g>
<g class="a"><circle cx="965.3" cy="526.2" r="14"/></g>
<g class="f"><circle cx="1988.4" cy="1423.0" r="14"/></g>
<g class="m s"><circle cx="995.1" cy="1324.8" r="14"/></g>
<g class="c"><circle cx="552.9" cy="1426.8" r="14"/></g>
<g class="d"><circle cx="1625.6" cy="1360.2" r="14"/></g>
<g class="m"><circle cx="1025.1" cy="1257.4" r="14"/></g>
<g class="e s"><circle cx="95.9" cy="1497.6" r="14"/></g>
<g class="d"><circle cx="1699.2" cy="1312.7" r="14"/></g>
<g class="m"><circle cx="874.3" cy="1287.6" r="14"/><circle cx="1364.0" cy="1307.1" r="14"/></g>
<g class="f"><circle cx="1971.1" cy="1412.1" r="14"/></g>
<g class="m"><circle cx="1018.9" cy="1249.3" r="14"/></g>
<g class="m s"><circle cx="1028.5" cy="1229.1" r="14"/></g>
<g class="m"><circle cx="1243.0" cy="1305.3" r="14"/></g>
<g class="d"><circle cx="1743.7" cy="1326.5" r="14"/><circle cx="1778.4" cy="1331.8" r="14"/></g>
<g class="c s"><circle cx="127.1" cy="1406.6" r="14"/></g>
<g class="a s"><circle cx="971.4" cy="764.5" r="14"/></g>
<g class="c"><circle cx="587.7" cy="1383.7" r="14"/></g>
<g class="c s"><circle cx="439.4" cy="1441.1" r="14"/></g>
<g class="b s"><circle cx="994.8" cy="1099.3" r="14"/></g>
<g class="d s"><circle cx="1753.1" cy="1376.9" r="14"/></g>
<g class="m"><circle cx="944.2" cy="1327.4" r="14"/><circle cx="1280.1" cy="1284.4" r="14"/></g>
<g class="e s"><circle cx="100.0" cy="1454.6" r="14"/></g>
<g class="a"><circle cx="954.5" cy="331.7" r="14"/></g>
<g class="f s"><circle cx="1977.3" cy="1410.4" r="14"/></g>
<g class="m s"><circle cx="910.5" cy="1328.6" r="14"/><circle cx="1234.6" cy="1234.6" r="14"/></g>
<g class="d s"><circle cx="1839.5" cy="1467.8" r="14"/></g>
<g class="m s"><circle cx="1104.6" cy="1247.0" r="14"/></g>
<g class="a"><circle cx="946.4" cy="419.0" r="14"/></g>
<g class="f s"><circle cx="1953.0" cy="1308.0" r="14"/></g>
<g class="a s"><circle cx="947.9" cy="175.7" r="14"/><circle cx="962.6" cy="619.8" r="14"/></g>
<g class="c"><circle cx="234.3" cy="1446.1" r="14"/></g>
<g class="a s"><circle cx="996.9" cy="652.5" r="14"/></g>
<g class="f"><circle cx="1958.1" cy="1363.5" r="14"/></g>
<g class="d s"><circle cx="1866.3" cy="1382.7" r="14"/></g>
<g class="m s"><circle cx="1089.2" cy="1278.5" r="14"/></g>
<g class="d"><circle cx="1597.1" cy="1339.6" r="14"/></g>
<g class="a s"><circle cx="932.5" cy="187.1" r="14"/></g>
<g class="m"><circle cx="1192.8" cy="1321.4" r="14"/><circle cx="1342.0" cy="1273.2" r="14"/></g>
<g class="b s"><circle cx="962.5" cy="998.2" r="14"/></g>
<g class="a s"><circle cx="961.2" cy="816.8" r="14"/></g>
<g class="c"><circle cx="231.2" cy="1443.0" r="14"/></g>
<g class="b"><circle cx="975.7" cy="997.9" r="14"/></g>
<g class="c"><circle cx="299.6" cy="1417.9" r="14"/></g>
<g class="m"><circle cx="1423.4" cy="1224.6" r="14"/></g>
<g class="f"><circle cx="1980.8" cy="1354.5" r="14"/></g>
<g class="m"><circle cx="1297.6" cy="1210.2" r="14"/></g>
<g class="d s"><circle cx="1568.4" cy="1352.0" r="14"/></g>
<g class="d"><circle cx="1927.8" cy="1369.9" r="14"/></g>
<g class="a"><circle cx="984.4" cy="750.1" r="14"/></g>
<g class="d"><circle cx="1752.9" cy="1374.9" r="14"/></g>
<g class="d s"><circle cx="1662.7" cy="1375.9" r="14"/></g>
<g class="f"><circle cx="1967.8" cy="1390.7" r="14"/></g>
<g class="a"><circle cx="964.4" cy="368.4" r="14"/></g>
<g class="d"><circle cx="1614.2" cy="1366.5" r="14"/></g>
<g class="c"><circle cx="691.4" cy="1451.0" r="14"/></g>
<g class="a s"><circle cx="988.0" cy="669.9" r="14"/></g>
<g class="m"><circle cx="1015.3" cy="1184.5" r="14"/></g>
<g class="a s"><circle cx="934.1" cy="364.2" r="14"/></g>
<g class="c s"><circle cx="153.0" cy="1450.1" r="14"/></g>
<g class="m s"><circle cx="1047.5" cy="1295.9" r="14"/><circle cx="1071.3" cy="1274.0" r="14"/></g>
<g class="c"><circle cx="383.7" cy="1462.1" r="14"/></g>
<g class="d"><circle cx="1850.5" cy="1361.1" r="14"/></g>
<g class="m"><circle cx="1289.6" cy="1265.1" r="14"/><circle cx="889.5" cy="1337.3" r="14"/></g>
<g class="b"><circle cx="1049.7" cy="1036.0" r="14"/></g>
<g class="a"><circle cx="950.1" cy="460.2" r="14"/></g>
<g class="c"><circle cx="776.8" cy="1375.4" r="14"/></g>
<g class="m s"><circle cx="820.6" cy="1338.1" r="14"/></g>
<g class="a"><circle cx="980.2" cy="901.0" r="14"/><circle cx="944.3" cy="173.8" r="14"/></g>
<g class="e"><circle cx="79.6" cy="1396.6" r="14"/></g>
<g class="b s"><circle cx="998.7" cy="906.1" r="14"/></g>
<g class="c s"><circle cx="227.8" cy="1489.0" r="14"/></g>
<g class="a"><circle cx="923.4" cy="192.6" r="14"/></g>
<g class="m s"><circle cx="1102.7" cy="1259.6" r="14"/></g>
<g class="b"><circle cx="1030.7" cy="993.6" r="14"/></g>
<g class="f"><circle cx="1982.0" cy="1470.5" r="14"/></g>
<g class="c"><circle cx="209.9" cy="1452.8" r="14"/></g>
<g class="e s"><circle cx="108.7" cy="1500.2" r="14"/></g>
<g class="c"><circle cx="207.9" cy="1410.3" r="14"/></g>
<g class="c s"><circle cx="666.1" cy="1399.4" r="14"/></g>
<g class="d"><circle cx="1625.7" cy="1353.0" r="14"/></g>
<g class="m"><circle cx="1028.5" cy="1291.4" r="14"/></g>
<g class="m s"><circle cx="808.6" cy="1365.5" r="14"/><circle cx="1321.0" cy="1358.2" r="14"/></g>
<g class="c s"><circle cx="324.6" cy="1458.7" r="14"/></g>
<g class="m s"><circle cx="1040.8" cy="1297.3" r="14"/></g>
<g class="e"><circle cx="115.0" cy="1476.6" r="14"/></g>
<g class="d"><circle cx="1709.1" cy="1298.1" r="14"/></g>
<g class="m"><circle cx="820.7" cy="1296.5" r="14"/></g>
<g class="a s"><circle cx="984.5" cy="839.9" r="14"/></g>
<g class="c s"><circle cx="295.3" cy="1470.7" r="14"/></g>
<g class="a s"><circle cx="974.2" cy="834.7" r="14"/></g>
<g class="c s"><circle cx="588.9" cy="1450.8" r="14"/></g>
<g class="m s"><circle cx="965.9" cy="1240.3" r="14"/></g>
<g class="d s"><circle cx="1628.0" cy="1395.4" r="14"/></g>
<g class="m"><circle cx="1327.4" cy="1363.5" r="14"/></g>
<g class="m s"><circle cx="1221.6" cy="1204.4" r="14"/></g>
<g class="a s"><circle cx="980.2" cy="855.3" r="14"/></g>
<g class="b"><circle cx="992.6" cy="988.0" r="14"/></g>
<g class="d"><circle cx="1628.2" cy="1353.6" r="14"/></g>
<g class="c s"><circle cx="395.9" cy="1449.1" r="14"/><circle cx="217.2" cy="1476.6" r="14"/></g>
<g class="a s"><circle cx="970.3" cy="839.7" r="14"/><circle cx="965.3" cy="561.2" r="14"/></g>
<g class="d"><circle cx="1702.7" cy="1302.3" r="14"/></g>
<g class="b"><circle cx="1007.2" cy="1003.9" r="14"/></g>
<g class="c"><circle cx="163.1" cy="1491.5" r="14"/></g>
<g class="a s"><circle cx="951.9" cy="395.8" r="14"/></g>
<g class="a"><circle cx="942.6" cy="534.2" r="14"/></g>
<g class="d s"><circle cx="1796.1" cy="1453.1" r="14"/></g>
<g class="a s"><circle cx="1007.7" cy="760.0" r="14"/></g>
<g class="d"><circle cx="1905.5" cy="1495.5" r="14"/></g>
<g class="c s"><circle cx="84.4" cy="1503.1" r="14"/></g>
<g class="m s"><circle cx="1301.1" cy="1279.7" r="14"/></g>
<g class="b"><circle cx="1042.1" cy="947.2" r="14"/></g>
<g class="f"><circle cx="1975.4" cy="1434.7" r="14"/></g>
<g class="a"><circle cx="946.2" cy="325.8" r="14"/></g>
<g class="d s"><circle cx="1590.1" cy="1327.9" r="14"/></g>
<g class="a"><circle cx="984.0" cy="774.3" r="14"/></g>
<g class="m"><circle cx="797.9" cy="1344.8" r="14"/><circle cx="1003.2" cy="1274.5" r="14"/></g>
<g class="c"><circle cx="255.4" cy="1477.8" r="14"/></g>
<g class="a"><circle cx="961.2" cy="534.5" r="14"/></g>
<g class="d s"><circle cx="1858.4" cy="1372.9" r="14"/></g>
<g class="m s"><circle cx="1084.1" cy="1284.7" r="14"/></g>
<g class="d"><circle cx="1843.5" cy="1411.2" r="14"/></g>
<g class="f"><circle cx="1973.0" cy="1329.6" r="14"/></g>
<g class="d s"><circle cx="1522.5" cy="1354.6" r="14"/></g>
<g class="a"><circle cx="938.2" cy="504.6" r="14"/></g>
<g class="b s"><circle cx="1025.1" cy="915.5" r="14"/></g>
<g class="d"><circle cx="1648.4" cy="1307.3" r="14"/><circle cx="1531.8" cy="1332.8" r="14"/></g>
<g class="d s"><circle cx="1696.8" cy="1366.4" r="14"/></g>
<g class="m"><circle cx="842.5" cy="1347.3" r="14"/></g>
<g class="f"><circle cx="1939.3" cy="1374.9" r="14"/></g>
<g class="d"><circle cx="1801.7" cy="1360.2" r="14"/></g>
<g class="f s"><circle cx="1986.7" cy="1500.9" r="14"/><circle cx="1958.1" cy="1478.7" r="14"/></g>
<g class="c"><circle cx="729.7" cy="1432.9" r="14"/></g>
<g class="m"><circle cx="931.9" cy="1286.0" r="14"/><circle cx="1041.5" cy="1225.6" r="14"/></g>
<g class="d"><circle cx="1852.9" cy="1435.2" r="14"/></g>
<g class="a s"><circle cx="965.1" cy="628.1" r="14"/></g>
<g class="d"><circle cx="1823.6" cy="1419.1" r="14"/></g>
<g class="f s"><circle cx="1959.1" cy="1500.8" r="14"/></g>
<g class="m s"><circle cx="1006.8" cy="1216.2" r="14"/></g>
<g class="a"><circle cx="914.3" cy="192.7" r="14"/></g>
<g class="d s"><circle cx="1866.9" cy="1365.2" r="14"/></g>
<g class="d"><circle cx="1801.3" cy="1377.3" r="14"/></g>
<g class="m"><circle cx="844.4" cy="1235.7" r="14"/></g>
<g class="a"><circle cx="959.7" cy="156.1" r="14"/></g>
<g class="d s"><circle cx="1420.7" cy="1357.4" r="14"/></g>
<g class="d"><circle cx="1620.9" cy="1313.2" r="14"/></g>
<g class="f s"><circle cx="1980.8" cy="1416.5" r="14"/></g>
<g class="a s"><circle cx="1003.4" cy="890.4" r="14"/><circle cx="930.7" cy="169.3" r="14"/></g>
<g class="d"><circle cx="1821.9" cy="1428.3" r="14"/></g>
<g class="m s"><circle cx="1153.7" cy="1261.0" r="14"/></g>
<g class="a"><circle cx="912.6" cy="207.4" r="14"/></g>
<g class="a s"><circle cx="995.5" cy="658.7" r="14"/></g>
<g class="d s"><circle cx="1817.2" cy="1416.9" r="14"/></g>
<g class="d"><circle cx="1903.3" cy="1364.9" r="14"/><circle cx="1609.0" cy="1356.7" r="14"/></g>
<g class="m s"><circle cx="1232.9" cy="1272.6" r="14"/></g>
<g class="a"><circle cx="976.5" cy="831.9" r="14"/><circle cx="960.3" cy="624.9" r="14"/></g>
<g class="f"><circle cx="1976.1" cy="1364.9" r="14"/></g>
<g class="m"><circle cx="1336.2" cy="1393.7" r="14"/><circle cx="851.3" cy="1362.9" r="14"/><circle cx="1226.0" cy="1284.3" r="14"/><circle cx="809.4" cy="1262.5" r="14"/></g>
<g class="f"><circle cx="1968.2" cy="1363.1" r="14"/></g>
<g class="c"><circle cx="557.7" cy="1440.2" r="14"/><circle cx="713.0" cy="1332.0" r="14"/></g>
<g class="f s"><circle cx="1983.0" cy="1405.7" r="14"/></g>
<g class="d s"><circle cx="1751.9" cy="1351.2" r="14"/><circle cx="1686.7" cy="1361.9" r="14"/></g>
<g class="a"><circle cx="968.2" cy="171.7" r="14"/></g>
<g class="b s"><circle cx="1021.2" cy="895.9" r="14"/></g>
<g class="d"><circle cx="1869.4" cy="1437.9" r="14"/></g>
<g class="m"><circle cx="967.6" cy="1336.3" r="14"/></g>
<g class="d"><circle cx="1667.3" cy="1403.0" r="14"/><circle cx="1761.8" cy="1321.5" r="14"/></g>
<g class="a s"><circle cx="975.1" cy="539.5" r="14"/></g>
<g class="m s"><circle cx="880.1" cy="1293.2" r="14"/></g>
<g class="a s"><circle cx="923.7" cy="214.5" r="14"/><circle cx="952.0" cy="521.2" r="14"/></g>
<g class="d"><circle cx="1604.2" cy="1304.3" r="14"/></g>
<g class="b s"><circle cx="1014.5" cy="1078.1" r="14"/></g>
<g class="m"><circle cx="978.4" cy="1214.8" r="14"/></g>
<g class="m s"><circle cx="791.9" cy="1312.0" r="14"/></g>
<g class="d s"><circle cx="1884.4" cy="1443.3" r="14"/></g>
<g class="m"><circle cx="1201.0" cy="1207.7" r="14"/></g>
<g class="a"><circle cx="972.0" cy="305.9" r="14"/></g>
<g class="c"><circle cx="445.4" cy="1418.0" r="14"/></g>
<g class="m s"><circle cx="1213.0" cy="1246.6" r="14"/></g>
<g class="b"><circle cx="1011.3" cy="1055.6" r="14"/></g>
<g class="d s"><circle cx="1774.2" cy="1333.8" r="14"/><circle cx="1790.5" cy="1430.4" r="14"/></g>
<g class="a s"><circle cx="960.4" cy="490.4" r="14"/></g>
<g class="f"><circle cx="1951.7" cy="1461.5" r="14"/></g>
<g class="e"><circle cx="58.0" cy="1418.0" r="14"/></g>
<g class="f"><circle cx="1952.9" cy="1477.8" r="14"/></g>
<g class="b s"><circle cx="1058.9" cy="1046.0" r="14"/></g>
<g class="a s"><circle cx="1018.4" cy="795.9" r="14"/></g>
<g class="d"><circle cx="1722.4" cy="1413.1" r="14"/></g>
<g class="m s"><circle cx="1122.4" cy="1320.6" r="14"/></g>
<g class="d s"><circle cx="1783.8" cy="1374.0" r="14"/></g>
<g class="a"><circle cx="915.6" cy="218.5" r="14"/></g>
<g class="a s"><circle cx="941.1" cy="444.5" r="14"/></g>
<g class="d"><circle cx="1774.3" cy="1396.4" r="14"/></g>
<g class="b"><circle cx="977.3" cy="964.1" r="14"/></g>
<g class="c s"><circle cx="609.9" cy="1406.8" r="14"/><circle cx="357.0" cy="1480.9" r="14"/></g>
<g class="m s"><circle cx="829.6" cy="1366.9" r="14"/></g>
<g class="b s"><circle cx="1015.4" cy="1004.0" r="14"/></g>
<g class="d s"><circle cx="1755.1" cy="1345.0" r="14"/></g>
<g class="d"><circle cx="1898.5" cy="1402.6" r="14"/></g>
<g class="a"><circle cx="961.1" cy="318.4" r="14"/></g>
<g class="m"><circle cx="835.1" cy="1284.1" r="14"/><circle cx="1308.1" cy="1336.6" r="14"/></g>
<g class="c s"><circle cx="795.6" cy="1355.9" r="14"/></g>
<g class="a"><circle cx="1001.3" cy="661.0" r="14"/></g>
<g class="d s"><circle cx="1639.3" cy="1300.0" r="14"/></g>
<g class="m"><circle cx="1053.8" cy="1270.4" r="14"/></g>
<g class="m s"><circle cx="1314.8" cy="1280.7" r="14"/></g>
<g class="b"><circle cx="982.7" cy="1056.2" r="14"/></g>
<g class="d"><circle cx="1866.2" cy="1382.3" r="14"/></g>
<g class="m"><circle cx="1231.7" cy="1197.7" r="14"/></g>
<g class="d s"><circle cx="1830.5" cy="1374.5" r="14"/></g>
<g class="d"><circle cx="1641.6" cy="1329.9" r="14"/></g>
<g class="f s"><circle cx="1983.0" cy="1448.7" r="14"/></g>
<g class="m s"><circle cx="1319.3" cy="1371.8" r="14"/></g>
<g class="d s"><circle cx="1829.0" cy="1387.6" r="14"/></g>
<g class="d"><circle cx="1782.9" cy="1392.6" r="14"/></g>
<g class="a s"><circle cx="981.9" cy="778.2" r="14"/></g>
<g class="b"><circle cx="1013.6" cy="1060.2" r="14"/></g>
<g class="f"><circle cx="1935.0" cy="1500.0" r="14"/></g>
<g class="b"><circle cx="1017.8" cy="961.9" r="14"/></g>
<g class="m"><circle cx="1229.5" cy="1210.8" r="14"/></g>
<g class="d"><circle cx="1683.6" cy="1363.4" r="14"/><circle cx="1811.1" cy="1344.9" r="14"/></g>
<g class="f"><circle cx="1974.0" cy="1286.0" r="14"/></g>
<g class="a s"><circle cx="974.1" cy="577.8" r="14"/></g>
<g class="b s"><circle cx="995.2" cy="1032.3" r="14"/></g>
<g class="c s"><circle cx="601.4" cy="1417.3" r="14"/></g>
<g class="a s"><circle cx="946.4" cy="425.7" r="14"/></g>
<g class="d s"><circle cx="1674.2" cy="1366.1" r="14"/></g>
<g class="m s"><circle cx="984.1" cy="1226.0" r="14"/></g>
<g class="f"><circle cx="1946.8" cy="1398.6" r="14"/></g>
<g class="a s"><circle cx="950.1" cy="512.9" r="14"/></g>
<g class="b"><circle cx="995.9" cy="1013.5" r="14"/></g>
<g class="c s"><circle cx="670.1" cy="1451.3" r="14"/></g>
<g class="a"><circle cx="938.6" cy="332.2" r="14"/></g>
<g class="a s"><circle cx="986.6" cy="730.2" r="14"/></g>
<g class="e s"><circle cx="90.0" cy="1443.1" r="14"/></g>
<g class="b"><circle cx="1042.1" cy="1008.1" r="14"/></g>
<g class="m s"><circle cx="985.7" cy="1189.4" r="14"/></g>
<g class="d"><circle cx="1917.0" cy="1485.2" r="14"/></g>
<g class="m"><circle cx="1303.5" cy="1257.3" r="14"/></g>
<g class="c s"><circle cx="378.7" cy="1441.1" r="14"/></g>
<g class="a"><circle cx="990.9" cy="655.9" r="14"/></g>
<g class="m"><circle cx="898.6" cy="1215.2" r="14"/></g>
<g class="b s"><circle cx="992.9" cy="1018.2" r="14"/></g>
<g class="d s"><circle cx="1543.6" cy="1322.0" r="14"/></g>
<g class="a"><circle cx="944.0" cy="529.5" r="14"/></g>
<g class="m"><circle cx="890.1" cy="1352.5" r="14"/></g>
<g class="m s"><circle cx="1216.0" cy="1281.3" r="14"/></g>
<g class="e"><circle cx="72.4" cy="1390.3" r="14"/></g>
<g class="m"><circle cx="1280.1" cy="1355.7" r="14"/></g>
<g class="d"><circle cx="1776.8" cy="1399.1" r="14"/><circle cx="1628.4" cy="1344.4" r="14"/></g>
<g class="b s"><circle cx="1028.1" cy="1008.6" r="14"/></g>
<g class="a"><circle cx="974.0" cy="580.0" r="14"/></g>
<g class="a s"><circle cx="942.3" cy="490.5" r="14"/></g>
<g class="f s"><circle cx="1994.6" cy="1455.0" r="14"/></g>
<g class="c"><circle cx="565.7" cy="1445.6" r="14"/></g>
<g class="a s"><circle cx="1025.5" cy="874.0" r="14"/></g>
<g class="m"><circle cx="1146.2" cy="1319.5" r="14"/></g>
<g class="a"><circle cx="956.0" cy="560.7" r="14"/></g>
<g class="f s"><circle cx="1955.4" cy="1324.7" r="14"/></g>
<g class="d"><circle cx="1864.3" cy="1366.7" r="14"/></g>
<g class="m"><circle cx="832.1" cy="1363.7" r="14"/></g>
<g class="m s"><circle cx="1268.0" cy="1343.9" r="14"/></g>
<g class="d s"><circle cx="1782.0" cy="1430.2" r="14"/></g>
<g class="d"><circle cx="1376.1" cy="1319.0" r="14"/></g>
<g class="a"><circle cx="935.5" cy="161.7" r="14"/></g>
<g class="m"><circle cx="907.5" cy="1310.5" r="14"/></g>
<g class="f"><circle cx="1961.2" cy="1366.5" r="14"/></g>
<g class="a s"><circle cx="960.3" cy="597.1" r="14"/></g>
<g class="a"><circle cx="957.7" cy="770.1" r="14"/></g>
<g class="c s"><circle cx="553.2" cy="1455.6" r="14"/></g>
<g class="a s"><circle cx="1006.9" cy="858.8" r="14"/></g>
<g class="d s"><circle cx="1824.3" cy="1341.8" r="14"/></g>
<g class="m"><circle cx="1157.0" cy="1217.5" r="14"/></g>
<g class="f"><circle cx="1961.0" cy="1341.7" r="14"/><circle cx="2001.3" cy="1382.4" r="14"/></g>
<g class="a s"><circle cx="938.4" cy="506.2" r="14"/></g>
<g class="c s"><circle cx="414.5" cy="1469.4" r="14"/></g>
<g class="m"><circle cx="973.8" cy="1210.6" r="14"/></g>
<g class="d s"><circle cx="1647.0" cy="1317.6" r="14"/></g>
<g class="m"><circle cx="1121.7" cy="1194.9" r="14"/></g>
<g class="m s"><circle cx="1006.3" cy="1314.7" r="14"/></g>
<g class="b s"><circle cx="1030.6" cy="1090.1" r="14"/></g>
<g class="f s"><circle cx="1950.5" cy="1420.7" r="14"/></g>
<g class="m"><circle cx="845.0" cy="1344.1" r="14"/></g>
<g class="d s"><circle cx="1918.7" cy="1474.3" r="14"/><circle cx="1897.1" cy="1405.2" r="14"/></g>
<g class="f s"><circle cx="1952.0" cy="1385.5" r="14"/></g>
<g class="m s"><circle cx="1231.4" cy="1222.9" r="14"/></g>
<g class="a s"><circle cx="938.6" cy="325.4" r="14"/></g>
<g class="b"><circle cx="970.5" cy="973.2" r="14"/></g>
<g class="m s"><circle cx="1198.5" cy="1244.9" r="14"/></g>
<g class="m"><circle cx="975.9" cy="1287.1" r="14"/></g>
<g class="a"><circle cx="997.5" cy="910.3" r="14"/></g>
<g class="m s"><circle cx="1077.4" cy="1140.3" r="14"/></g>
<g class="b"><circle cx="1020.4" cy="1085.3" r="14"/></g>
<g class="e"><circle cx="73.2" cy="1392.8" r="14"/></g>
<g class="d"><circle cx="1858.9" cy="1334.2" r="14"/></g>
<g class="a"><circle cx="984.3" cy="834.6" r="14"/></g>
<g class="m"><circle cx="980.4" cy="1319.3" r="14"/></g>
<g class="d"><circle cx="1601.6" cy="1315.6" r="14"/></g>
<g class="c"><circle cx="573.6" cy="1451.8" r="14"/></g>
<g class="m"><circle cx="1047.4" cy="1236.2" r="14"/></g>
<g class="d s"><circle cx="1808.1" cy="1308.3" r="14"/><circle cx="1808.3" cy="1432.2" r="14"/><circle cx="1856.9" cy="1350.2" r="14"/></g>
<g class="d"><circle cx="1706.8" cy="1326.4" r="14"/></g>
<g class="a s"><circle cx="1009.5" cy="783.7" r="14"/></g>
<g class="m"><circle cx="1366.7" cy="1327.3" r="14"/></g>
<g class="a"><circle cx="1018.7" cy="846.8" r="14"/></g>
<g class="d s"><circle cx="1662.5" cy="1299.8" r="14"/></g>
<g class="a"><circle cx="957.7" cy="164.4" r="14"/></g>
<g class="b s"><circle cx="1029.8" cy="911.8" r="14"/></g>
<g class="a"><circle cx="977.2" cy="645.8" r="14"/><circle cx="991.2" cy="598.5" r="14"/></g>
<g class="a s"><circle cx="993.0" cy="704.9" r="14"/><circle cx="956.4" cy="443.6" r="14"/></g>
<g class="d"><circle cx="1662.0" cy="1236.0" r="14"/></g>
<g class="m"><circle cx="823.7" cy="1303.6" r="14"/></g>
<g class="c s"><circle cx="353.9" cy="1523.6" r="14"/></g>
<g class="f s"><circle cx="1963.8" cy="1418.9" r="14"/></g>
<g class="a"><circle cx="938.7" cy="333.7" r="14"/></g>
<g class="a s"><circle cx="962.3" cy="442.5" r="14"/></g>
<g class="c s"><circle cx="646.7" cy="1400.8" r="14"/></g>
<g class="b"><circle cx="1030.8" cy="1005.4" r="14"/></g>
<g class="a s"><circle cx="982.6" cy="748.8" r="14"/></g>
<g class="b"><circle cx="1036.8" cy="1001.2" r="14"/></g>
<g class="a"><circle cx="925.7" cy="353.8" r="14"/></g>
<g class="m s"><circle cx="1056.8" cy="1251.8" r="14"/></g>
<g class="c"><circle cx="583.1" cy="1452.0" r="14"/></g>
<g class="a"><circle cx="932.4" cy="334.7" r="14"/></g>
<g class="m"><circle cx="971.8" cy="1110.4" r="14"/></g>
<g class="b s"><circle cx="1012.1" cy="1003.0" r="14"/></g>
<g class="c"><circle cx="631.1" cy="1427.8" r="14"/></g>
<g class="m"><circle cx="1016.2" cy="1091.0" r="14"/><circle cx="1079.3" cy="1268.3" r="14"/></g>
<g class="a s"><circle cx="993.6" cy="880.3" r="14"/></g>
<g class="f s"><circle cx="1949.1" cy="1403.8" r="14"/></g>
<g class="c"><circle cx="492.9" cy="1419.4" r="14"/></g>
<g class="m s"><circle cx="1051.6" cy="1306.4" r="14"/></g>
<g class="d"><circle cx="1393.6" cy="1368.3" r="14"/></g>
<g class="b s"><circle cx="1028.8" cy="1053.2" r="14"/></g>
<g class="c"><circle cx="689.9" cy="1386.3" r="14"/></g>
<g class="d s"><circle cx="1804.9" cy="1381.3" r="14"/></g>
<g class="b s"><circle cx="1049.7" cy="945.3" r="14"/></g>
<g class="m s"><circle cx="853.4" cy="1301.4" r="14"/></g>
<g class="a s"><circle cx="959.4" cy="391.6" r="14"/></g>
<g class="m"><circle cx="1329.7" cy="1345.5" r="14"/></g>
<g class="b"><circle cx="1035.2" cy="1024.5" r="14"/></g>
<g class="m"><circle cx="803.9" cy="1352.8" r="14"/></g>
<g class="a s"><circle cx="966.0" cy="570.0" r="14"/></g>
<g class="d"><circle cx="1693.8" cy="1306.4" r="14"/></g>
<g class="c s"><circle cx="641.9" cy="1372.4" r="14"/></g>
<g class="e"><circle cx="97.1" cy="1429.6" r="14"/></g>
<g class="a"><circle cx="948.4" cy="544.5" r="14"/></g>
<g class="m s"><circle cx="1166.4" cy="1223.0" r="14"/></g>
<g class="a"><circle cx="966.8" cy="322.3" r="14"/></g>
<g class="d s"><circle cx="1810.2" cy="1332.0" r="14"/></g>
<g class="a"><circle cx="934.6" cy="307.0" r="14"/></g>
<g class="a s"><circle cx="976.6" cy="816.8" r="14"/></g>
<g class="a"><circle cx="944.9" cy="141.9" r="14"/></g>
<g class="m s"><circle cx="1037.9" cy="1157.3" r="14"/><circle cx="1316.0" cy="1292.7" r="14"/></g>
<g class="c s"><circle cx="488.0" cy="1426.0" r="14"/></g>
<g class="m"><circle cx="969.7" cy="1123.6" r="14"/></g>
<g class="a"><circle cx="912.3" cy="227.1" r="14"/></g>
<g class="d s"><circle cx="1781.0" cy="1362.7" r="14"/></g>
<g class="a s"><circle cx="990.7" cy="716.8" r="14"/></g>
<g class="d"><circle cx="1596.4" cy="1328.9" r="14"/></g>
<g class="d s"><circle cx="1694.5" cy="1284.2" r="14"/><circle cx="1666.2" cy="1300.9" r="14"/></g>
<g class="a"><circle cx="996.2" cy="850.9" r="14"/></g>
<g class="m"><circle cx="1255.5" cy="1269.5" r="14"/></g>
<g class="a s"><circle cx="968.9" cy="583.6" r="14"/></g>
<g class="d"><circle cx="1642.9" cy="1365.5" r="14"/></g>
<g class="d s"><circle cx="1824.3" cy="1430.2" r="14"/></g>
<g class="c"><circle cx="743.8" cy="1398.0" r="14"/></g>
<g class="a"><circle cx="955.0" cy="188.0" r="14"/></g>
<g class="a s"><circle cx="980.6" cy="605.6" r="14"/></g>
<g class="m"><circle cx="1061.0" cy="1360.0" r="14"/></g>
<g class="c"><circle cx="550.1" cy="1464.1" r="14"/></g>
<g class="m s"><circle cx="795.7" cy="1315.9" r="14"/></g>
<g class="m"><circle cx="997.7" cy="1218.0" r="14"/></g>
<g class="m s"><circle cx="871.0" cy="1252.6" r="14"/></g>
<g class="c s"><circle cx="675.8" cy="1428.9" r="14"/><circle cx="785.1" cy="1386.7" r="14"/></g>
<g class="a"><circle cx="961.0" cy="624.1" r="14"/></g>
<g class="d s"><circle cx="1580.6" cy="1372.2" r="14"/></g>
<g class="m s"><circle cx="1143.7" cy="1285.8" r="14"/></g>
<g class="c"><circle cx="199.5" cy="1487.2" r="14"/></g>
<g class="c s"><circle cx="314.4" cy="1438.3" r="14"/></g>
<g class="m"><circle cx="835.6" cy="1334.8" r="14"/></g>
<g class="c s"><circle cx="90.6" cy="1460.9" r="14"/></g>
<g class="m s"><circle cx="1143.8" cy="1283.2" r="14"/></g>
<g class="d"><circle cx="1755.8" cy="1287.1" r="14"/></g>
<g class="m"><circle cx="1080.0" cy="1195.6" r="14"/><circle cx="1242.6" cy="1274.6" r="14"/></g>
<g class="c"><circle cx="367.3" cy="1438.5" r="14"/></g>
<g class="m"><circle cx="1206.2" cy="1271.0" r="14"/></g>
<g class="c"><circle cx="624.4" cy="1415.6" r="14"/></g>
<g class="m"><circle cx="1144.5" cy="1315.6" r="14"/></g>
<g class="e s"><circle cx="76.7" cy="1376.3" r="14"/></g>
<g class="m s"><circle cx="885.4" cy="1243.3" r="14"/></g>
<g class="d s"><circle cx="1579.5" cy="1368.5" r="14"/></g>
<g class="e"><circle cx="128.9" cy="1380.2" r="14"/></g>
<g class="m"><circle cx="1342.9" cy="1388.8" r="14"/></g>
<g class="e"><circle cx="59.4" cy="1400.9" r="14"/></g>
<g class="d"><circle cx="1857.1" cy="1352.0" r="14"/></g>
<g class="d s"><circle cx="1599.0" cy="1364.3" r="14"/></g>
<g class="a"><circle cx="986.0" cy="644.4" r="14"/></g>
<g class="m s"><circle cx="1218.0" cy="1319.8" r="14"/></g>
<g class="e s"><circle cx="101.4" cy="1416.0" r="14"/></g>
<g class="m"><circle cx="1058.4" cy="1119.0" r="14"/></g>
<g class="m s"><circle cx="880.0" cy="1187.0" r="14"/><circle cx="1247.3" cy="1257.4" r="14"/></g>
<g class="a s"><circle cx="983.0" cy="558.1" r="14"/></g>
<g class="d s"><circle cx="1881.7" cy="1363.7" r="14"/></g>
<g class="a s"><circle cx="978.8" cy="754.2" r="14"/></g>
<g class="e s"><circle cx="99.1" cy="1467.6" r="14"/></g>
<g class="c s"><circle cx="143.5" cy="1473.3" r="14"/></g>
<g class="a s"><circle cx="989.4" cy="538.7" r="14"/></g>
<g class="d"><circle cx="1838.5" cy="1332.1" r="14"/></g>
<g class="f"><circle cx="1959.8" cy="1471.5" r="14"/></g>
<g class="d s"><circle cx="1926.3" cy="1397.6" r="14"/></g>
<g class="a"><circle cx="952.5" cy="408.5" r="14"/></g>
<g class="m"><circle cx="1023.1" cy="1296.7" r="14"/></g>
<g class="f"><circle cx="2008.0" cy="1395.0" r="14"/></g>
<g class="m"><circle cx="1082.2" cy="1203.1" r="14"/></g>
<g class="d"><circle cx="1812.0" cy="1376.8" r="14"/></g>
<g class="m s"><circle cx="1252.8" cy="1249.0" r="14"/></g>
<g class="d"><circle cx="1563.7" cy="1324.0" r="14"/></g>
<g class="m"><circle cx="825.0" cy="1259.7" r="14"/></g>
<g class="c s"><circle cx="596.9" cy="1434.5" r="14"/></g>
<g class="a s"><circle cx="967.5" cy="803.9" r="14"/><circle cx="966.9" cy="666.1" r="14"/></g>
<g class="m"><circle cx="1035.3" cy="1157.2" r="14"/></g>
<g class="a"><circle cx="966.9" cy="299.6" r="14"/></g>
<g class="m s"><circle cx="1353.7" cy="1304.8" r="14"/></g>
<g class="m"><circle cx="1065.3" cy="1206.2" r="14"/></g>
<g class="d s"><circle cx="1920.9" cy="1420.5" r="14"/></g>
<g class="c s"><circle cx="205.2" cy="1498.7" r="14"/></g>
<g class="d"><circle cx="1704.6" cy="1390.6" r="14"/></g>
<g class="a s"><circle cx="966.3" cy="603.2" r="14"/></g>
<g class="m s"><circle cx="1114.8" cy="1216.1" r="14"/></g>
<g class="m"><circle cx="1455.0" cy="1330.0" r="14"/></g>
<g class="d"><circle cx="1778.4" cy="1358.2" r="14"/></g>
<g class="a s"><circle cx="945.3" cy="372.0" r="14"/></g>
<g class="d s"><circle cx="1763.1" cy="1320.6" r="14"/></g>
<g class="c s"><circle cx="701.7" cy="1436.5" r="14"/></g>
<g class="d"><circle cx="1742.4" cy="1434.3" r="14"/></g>
<g class="m"><circle cx="1215.2" cy="1213.0" r="14"/></g>
<g class="e s"><circle cx="88.4" cy="1451.5" r="14"/></g>
<g class="d s"><circle cx="1813.9" cy="1336.9" r="14"/></g>
<g class="a s"><circle cx="939.7" cy="333.1" r="14"/></g>
<g class="m s"><circle cx="1262.3" cy="1285.6" r="14"/></g>
<g class="a"><circle cx="988.1" cy="746.2" r="14"/></g>
<g class="f"><circle cx="1974.1" cy="1372.9" r="14"/></g>
<g class="a"><circle cx="1004.9" cy="594.8" r="14"/></g>
<g class="d s"><circle cx="1927.0" cy="1373.0" r="14"/></g>
<g class="d"><circle cx="1825.8" cy="1389.5" r="14"/></g>
<g class="a"><circle cx="937.0" cy="360.7" r="14"/></g>
<g class="d"><circle cx="1781.0" cy="1318.1" r="14"/></g>
<g class="c s"><circle cx="132.1" cy="1484.7" r="14"/></g>
<g class="b s"><circle cx="1020.1" cy="1002.0" r="14"/></g>
<g class="d s"><circle cx="1779.4" cy="1404.2" r="14"/></g>
<g class="m"><circle cx="932.5" cy="1202.3" r="14"/></g>
<g class="a"><circle cx="941.3" cy="460.3" r="14"/></g>
<g class="d"><circle cx="1755.2" cy="1346.8" r="14"/></g>
<g class="m"><circle cx="1138.4" cy="1273.4" r="14"/><circle cx="1355.5" cy="1265.4" r="14"/></g>
<g class="b s"><circle cx="1048.3" cy="960.2" r="14"/></g>
<g class="d s"><circle cx="1754.2" cy="1424.6" r="14"/></g>
<g class="c"><circle cx="344.5" cy="1476.1" r="14"/><circle cx="179.7" cy="1487.6" r="14"/></g>
<g class="m s"><circle cx="968.9" cy="1303.0" r="14"/></g>
<g class="d s"><circle cx="1760.7" cy="1390.8" r="14"/></g>
<g class="d"><circle cx="1695.8" cy="1349.6" r="14"/></g>
<g class="m s"><circle cx="1134.1" cy="1228.8" r="14"/></g>
<g class="m"><circle cx="1178.2" cy="1287.5" r="14"/></g>
<g class="f s"><circle cx="1966.7" cy="1408.8" r="14"/></g>
<g class="e"><circle cx="91.7" cy="1529.9" r="14"/></g>
<g class="a"><circle cx="984.9" cy="609.4" r="14"/></g>
<g class="c"><circle cx="84.7" cy="1492.6" r="14"/></g>
<g class="a"><circle cx="912.0" cy="160.0" r="14"/></g>
<g class="c"><circle cx="541.2" cy="1475.8" r="14"/></g>
<g class="a"><circle cx="980.1" cy="698.9" r="14"/></g>
<g class="m"><circle cx="1093.7" cy="1139.2" r="14"/></g>
<g class="a s"><circle cx="960.2" cy="330.6" r="14"/></g>
<g class="m s"><circle cx="1059.9" cy="1245.9" r="14"/></g>
<g class="c s"><circle cx="299.5" cy="1501.1" r="14"/></g>
<g class="e"><circle cx="111.6" cy="1492.3" r="14"/></g>
<g class="d"><circle cx="1808.4" cy="1425.1" r="14"/></g>
<g class="b s"><circle cx="1051.6" cy="1030.5" r="14"/></g>
<g class="m"><circle cx="1237.6" cy="1276.6" r="14"/></g>
<g class="d s"><circle cx="1629.3" cy="1296.5" r="14"/></g>
<g class="a s"><circle cx="979.6" cy="756.2" r="14"/></g>
<g class="d s"><circle cx="1669.5" cy="1357.3" r="14"/></g>
<g class="c s"><circle cx="303.5" cy="1489.8" r="14"/><circle cx="353.9" cy="1468.3" r="14"/></g>
<g class="d"><circle cx="1905.0" cy="1467.5" r="14"/><circle cx="1457.3" cy="1313.9" r="14"/></g>
<g class="a s"><circle cx="959.8" cy="536.9" r="14"/></g>
<g class="m"><circle cx="843.3" cy="1276.3" r="14"/></g>
<g class="e"><circle cx="91.1" cy="1466.8" r="14"/></g>
<g class="m s"><circle cx="1130.0" cy="1304.1" r="14"/></g>
<g class="d"><circle cx="1853.3" cy="1395.3" r="14"/></g>
<g class="b"><circle cx="1021.7" cy="1025.2" r="14"/></g>
<g class="f s"><circle cx="1995.8" cy="1422.4" r="14"/></g>
<g class="c"><circle cx="766.0" cy="1421.4" r="14"/></g>
<g class="d"><circle cx="1652.3" cy="1295.5" r="14"/></g>
<g class="f"><circle cx="1990.2" cy="1332.1" r="14"/><circle cx="1963.1" cy="1327.2" r="14"/></g>
<g class="d"><circle cx="1759.0" cy="1392.6" r="14"/></g>
<g class="d s"><circle cx="1832.8" cy="1358.3" r="14"/></g>
<g class="m s"><circle cx="971.2" cy="1162.1" r="14"/></g>
<g class="a"><circle cx="964.1" cy="334.8" r="14"/></g>
<g class="f"><circle cx="1965.4" cy="1388.5" r="14"/></g>
<g class="m"><circle cx="1459.5" cy="1327.3" r="14"/></g>
<g class="c"><circle cx="189.4" cy="1454.0" r="14"/></g>
<g class="a"><circle cx="989.7" cy="663.8" r="14"/><circle cx="948.2" cy="398.0" r="14"/></g>
<g class="m"><circle cx="1026.2" cy="1184.2" r="14"/></g>
<g class="a s"><circle cx="961.6" cy="527.0" r="14"/></g>
<g class="e"><circle cx="103.7" cy="1459.3" r="14"/></g>
<g class="c"><circle cx="765.3" cy="1409.3" r="14"/><circle cx="282.8" cy="1483.7" r="14"/></g>
<g class="m s"><circle cx="1239.0" cy="1164.0" r="14"/></g>
<g class="d s"><circle cx="1878.5" cy="1386.3" r="14"/></g>
<g class="e s"><circle cx="110.0" cy="1545.0" r="14"/></g>
<g class="m"><circle cx="1248.1" cy="1295.0" r="14"/><circle cx="803.3" cy="1366.4" r="14"/></g>
<g class="b"><circle cx="1069.6" cy="962.6" r="14"/></g>
<g class="d s"><circle cx="1771.9" cy="1312.2" r="14"/></g>
<g class="m"><circle cx="941.5" cy="1276.5" r="14"/></g>
<g class="d s"><circle cx="1878.2" cy="1406.8" r="14"/></g>
<g class="a"><circle cx="950.1" cy="280.5" r="14"/><circle cx="936.7" cy="171.0" r="14"/></g>
<g class="m"><circle cx="839.8" cy="1302.4" r="14"/></g>
<g class="d"><circle cx="1931.9" cy="1447.4" r="14"/><circle cx="1825.2" cy="1401.4" r="14"/></g>
<g class="m"><circle cx="961.5" cy="1151.3" r="14"/></g>
<g class="c"><circle cx="313.6" cy="1410.4" r="14"/></g>
<g class="b"><circle cx="1046.8" cy="975.7" r="14"/></g>
<g class="c s"><circle cx="722.0" cy="1470.0" r="14"/></g>
<g class="f"><circle cx="1971.0" cy="1332.9" r="14"/></g>
<g class="d"><circle cx="1796.9" cy="1403.5" r="14"/></g>
<g class="a"><circle cx="1001.0" cy="676.4" r="14"/></g>
<g class="f"><circle cx="1965.4" cy="1374.0" r="14"/></g>
<g class="d"><circle cx="1854.7" cy="1403.3" r="14"/></g>
<g class="c s"><circle cx="612.7" cy="1411.9" r="14"/></g>
<g class="b"><circle cx="1002.3" cy="979.8" r="14"/></g>
<g class="m s"><circle cx="811.0" cy="1290.6" r="14"/></g>
<g class="m"><circle cx="1303.0" cy="1379.8" r="14"/></g>
<g class="m s"><circle cx="1013.3" cy="1172.5" r="14"/></g>
<g class="b"><circle cx="1026.7" cy="1013.5" r="14"/></g>
<g class="d s"><circle cx="1829.9" cy="1428.2" r="14"/></g>
<g class="m s"><circle cx="1112.5" cy="1199.8" r="14"/><circle cx="1009.7" cy="1161.4" r="14"/></g>
<g class="d s"><circle cx="1907.7" cy="1379.3" r="14"/></g>
<g class="f"><circle cx="1998.1" cy="1454.3" r="14"/></g>
<g class="d s"><circle cx="1824.6" cy="1322.5" r="14"/></g>
<g class="c"><circle cx="159.0" cy="1429.0" r="14"/></g>
<g class="d"><circle cx="1867.8" cy="1433.1" r="14"/></g>
<g class="m s"><circle cx="1345.8" cy="1305.6" r="14"/></g>
<g class="d"><circle cx="1813.8" cy="1415.7" r="14"/></g>
<g class="b"><circle cx="1054.3" cy="1023.9" r="14"/></g>
<g class="c s"><circle cx="384.9" cy="1448.1" r="14"/><circle cx="554.2" cy="1437.4" r="14"/></g>
<g class="c"><circle cx="676.0" cy="1406.8" r="14"/></g>
<g class="e s"><circle cx="121.6" cy="1380.2" r="14"/></g>
<g class="c s"><circle cx="71.5" cy="1463.3" r="14"/></g>
<g class="c"><circle cx="168.3" cy="1446.3" r="14"/></g>
<g class="a s"><circle cx="968.0" cy="814.4" r="14"/></g>
<g class="a"><circle cx="955.3" cy="395.9" r="14"/></g>
<g class="b"><circle cx="1011.5" cy="935.9" r="14"/></g>
<g class="c"><circle cx="147.9" cy="1415.7" r="14"/></g>
<g class="m"><circle cx="762.9" cy="1261.4" r="14"/></g>
<g class="d"><circle cx="1902.6" cy="1424.2" r="14"/></g>
<g class="e"><circle cx="126.3" cy="1383.3" r="14"/></g>
<g class="m s"><circle cx="777.6" cy="1317.4" r="14"/></g>
<g class="b"><circle cx="1019.6" cy="1049.6" r="14"/></g>
<g class="a s"><circle cx="956.5" cy="605.4" r="14"/></g>
<g class="f"><circle cx="1994.8" cy="1454.4" r="14"/></g>
<g class="d s"><circle cx="1622.9" cy="1395.9" r="14"/></g>
<g class="a s"><circle cx="981.5" cy="715.3" r="14"/></g>
<g class="m s"><circle cx="1222.1" cy="1211.8" r="14"/></g>
<g class="b s"><circle cx="970.7" cy="1011.1" r="14"/></g>
<g class="a s"><circle cx="961.5" cy="814.0" r="14"/></g>
<g class="m"><circle cx="898.9" cy="1219.9" r="14"/></g>
<g class="d"><circle cx="1863.2" cy="1383.6" r="14"/></g>
<g class="a"><circle cx="915.2" cy="197.3" r="14"/></g>
<g class="e"><circle cx="86.1" cy="1438.8" r="14"/></g>
<g class="m s"><circle cx="1062.5" cy="1177.8" r="14"/></g>
<g class="d"><circle cx="1786.7" cy="1420.8" r="14"/></g>
<g class="m s"><circle cx="1300.7" cy="1376.5" r="14"/></g>
<g class="a s"><circle cx="995.7" cy="859.9" r="14"/></g>
<g class="d s"><circle cx="1407.6" cy="1358.8" r="14"/></g>
<g class="m s"><circle cx="1268.1" cy="1247.7" r="14"/></g>
<g class="b"><circle cx="1061.9" cy="1037.1" r="14"/></g>
<g class="d"><circle cx="1688.6" cy="1359.5" r="14"/></g>
<g class="m"><circle cx="1264.7" cy="1229.1" r="14"/></g>
<g class="c"><circle cx="345.9" cy="1529.8" r="14"/></g>
<g class="m s"><circle cx="1162.4" cy="1289.0" r="14"/><circle cx="1321.9" cy="1330.4" r="14"/></g>
<g class="c s"><circle cx="411.6" cy="1464.5" r="14"/></g>
<g class="f s"><circle cx="1952.7" cy="1437.2" r="14"/></g>
<g class="a s"><circle cx="987.1" cy="905.5" r="14"/></g>
<g class="c"><circle cx="363.6" cy="1505.8" r="14"/></g>
<g class="d s"><circle cx="1859.8" cy="1441.9" r="14"/></g>
<g class="m s"><circle cx="1298.2" cy="1388.0" r="14"/></g>
<g class="f"><circle cx="1955.2" cy="1500.1" r="14"/><circle cx="1956.0" cy="1477.4" r="14"/></g>
<g class="c"><circle cx="141.3" cy="1479.2" r="14"/></g>
<g class="b"><circle cx="988.7" cy="1034.2" r="14"/></g>
<g class="c"><circle cx="602.6" cy="1454.4" r="14"/></g>
<g class="a s"><circle cx="937.1" cy="171.7" r="14"/></g>
<g class="a"><circle cx="944.5" cy="377.4" r="14"/></g>
<g class="m s"><circle cx="768.0" cy="1358.9" r="14"/></g>
<g class="d"><circle cx="1806.1" cy="1402.1" r="14"/></g>
<g class="m s"><circle cx="831.0" cy="1331.2" r="14"/></g>
<g class="m"><circle cx="862.0" cy="1267.2" r="14"/></g>
<g class="d"><circle cx="1934.8" cy="1358.8" r="14"/></g>
<g class="a"><circle cx="968.2" cy="327.9" r="14"/></g>
<g class="m s"><circle cx="973.6" cy="1351.5" r="14"/></g>
<g class="a"><circle cx="962.6" cy="291.1" r="14"/></g>
<g class="c s"><circle cx="535.2" cy="1398.8" r="14"/></g>
<g class="c"><circle cx="816.0" cy="1438.1" r="14"/></g>
<g class="a s"><circle cx="943.2" cy="319.6" r="14"/></g>
<g class="d"><circle cx="1633.5" cy="1295.8" r="14"/></g>
<g class="b s"><circle cx="1039.2" cy="931.0" r="14"/></g>
<g class="m s"><circle cx="990.1" cy="1320.5" r="14"/></g>
<g class="c s"><circle cx="705.6" cy="1386.2" r="14"/><circle cx="398.2" cy="1506.7" r="14"/></g>
<g class="d"><circle cx="1660.8" cy="1302.2" r="14"/></g>
<g class="m"><circle cx="1092.7" cy="1282.0" r="14"/></g>
<g class="m s"><circle cx="979.2" cy="1146.1" r="14"/></g>
<g class="a s"><circle cx="968.1" cy="546.6" r="14"/></g>
<g class="f s"><circle cx="1955.0" cy="1393.7" r="14"/></g>
<g class="b"><circle cx="1008.1" cy="1080.2" r="14"/></g>
<g class="m"><circle cx="1179.6" cy="1229.3" r="14"/><circle cx="1145.4" cy="1197.5" r="14"/></g>
<g class="m s"><circle cx="834.4" cy="1326.0" r="14"/></g>
<g class="c"><circle cx="284.8" cy="1424.3" r="14"/></g>
<g class="a"><circle cx="949.5" cy="157.8" r="14"/></g>
<g class="f s"><circle cx="1970.2" cy="1404.4" r="14"/></g>
<g class="m s"><circle cx="789.9" cy="1378.2" r="14"/></g>
<g class="c s"><circle cx="144.2" cy="1515.0" r="14"/></g>
<g class="m s"><circle cx="857.6" cy="1289.2" r="14"/></g>
<g class="f"><circle cx="1966.7" cy="1413.7" r="14"/></g>
<g class="d"><circle cx="1723.2" cy="1380.2" r="14"/></g>
<g class="c"><circle cx="286.6" cy="1445.9" r="14"/></g>
<g class="d s"><circle cx="1776.3" cy="1275.0" r="14"/></g>
<g class="a"><circle cx="961.9" cy="404.0" r="14"/></g>
<g class="d s"><circle cx="1807.2" cy="1364.5" r="14"/></g>
<g class="a s"><circle cx="950.3" cy="166.3" r="14"/></g>
<g class="a"><circle cx="969.1" cy="479.5" r="14"/></g>
<g class="d"><circle cx="1634.7" cy="1404.0" r="14"/></g>
<g class="m s"><circle cx="1183.5" cy="1264.0" r="14"/></g>
<g class="a"><circle cx="970.7" cy="810.6" r="14"/></g>
<g class="d"><circle cx="1469.5" cy="1331.4" r="14"/></g>
<g class="c"><circle cx="541.2" cy="1419.9" r="14"/></g>
<g class="m s"><circle cx="1407.3" cy="1326.9" r="14"/></g>
<g class="d s"><circle cx="1886.0" cy="1368.6" r="14"/></g>
<g class="d"><circle cx="1934.6" cy="1351.5" r="14"/></g>
<g class="m s"><circle cx="1012.7" cy="1176.3" r="14"/></g>
<g class="m"><circle cx="862.2" cy="1370.8" r="14"/></g>
<g class="b"><circle cx="982.3" cy="920.4" r="14"/></g>
<g class="m"><circle cx="828.0" cy="1206.0" r="14"/></g>
<g class="a s"><circle cx="938.9" cy="194.3" r="14"/></g>
<g class="m s"><circle cx="1252.2" cy="1238.3" r="14"/></g>
<g class="a s"><circle cx="975.9" cy="766.6" r="14"/></g>
<g class="b s"><circle cx="1025.5" cy="927.3" r="14"/></g>
<g class="d"><circle cx="1883.8" cy="1408.3" r="14"/></g>
<g class="d s"><circle cx="1647.9" cy="1334.9" r="14"/><circle cx="1898.7" cy="1370.8" r="14"/></g>
<g class="c s"><circle cx="231.3" cy="1444.7" r="14"/></g>
<g class="a s"><circle cx="1003.3" cy="839.6" r="14"/></g>
<g class="c s"><circle cx="324.7" cy="1536.6" r="14"/></g>
<g class="a"><circle cx="976.3" cy="313.5" r="14"/></g>
<g class="c s"><circle cx="621.9" cy="1425.9" r="14"/></g>
<g class="m s"><circle cx="1276.0" cy="1296.0" r="14"/></g>
<g class="a"><circle cx="954.6" cy="364.1" r="14"/></g>
<g class="d"><circle cx="1786.2" cy="1417.0" r="14"/><circle cx="1762.0" cy="1409.5" r="14"/></g>
<g class="d s"><circle cx="1673.1" cy="1382.7" r="14"/></g>
<g class="m s"><circle cx="1311.6" cy="1356.1" r="14"/></g>
<g class="f"><circle cx="1981.8" cy="1403.4" r="14"/></g>
<g class="e"><circle cx="125.2" cy="1373.0" r="14"/></g>
<g class="d s"><circle cx="1789.3" cy="1313.9" r="14"/></g>
<g class="m s"><circle cx="820.0" cy="1418.0" r="14"/></g>
<g class="f"><circle cx="1978.0" cy="1329.3" r="14"/></g>
<g class="d s"><circle cx="1904.6" cy="1358.1" r="14"/></g>
<g class="m"><circle cx="1302.6" cy="1276.5" r="14"/></g>
<g class="b s"><circle cx="1014.5" cy="1012.2" r="14"/><circle cx="1067.5" cy="1032.1" r="14"/></g>
<g class="f s"><circle cx="1982.3" cy="1375.9" r="14"/></g>
<g class="m"><circle cx="1074.0" cy="1088.6" r="14"/></g>
<g class="a"><circle cx="967.3" cy="573.3" r="14"/></g>
<g class="m"><circle cx="1306.3" cy="1287.7" r="14"/><circle cx="1064.1" cy="1025.7" r="14"/></g>
<g class="d s"><circle cx="1385.4" cy="1323.3" r="14"/></g>
<g class="c s"><circle cx="501.3" cy="1412.6" r="14"/></g>
<g class="m s"><circle cx="1200.5" cy="1285.9" r="14"/></g>
<g class="c s"><circle cx="400.1" cy="1413.5" r="14"/></g>
<g class="m s"><circle cx="1099.0" cy="1155.4" r="14"/></g>
<g class="a s"><circle cx="1008.9" cy="799.2" r="14"/></g>
<g class="m"><circle cx="988.6" cy="1338.3" r="14"/></g>
<g class="m s"><circle cx="829.5" cy="1361.4" r="14"/></g>
<g class="d"><circle cx="1755.0" cy="1381.0" r="14"/></g>
<g class="a s"><circle cx="967.9" cy="318.6" r="14"/></g>
<g class="e s"><circle cx="91.6" cy="1375.9" r="14"/></g>
<g class="d"><circle cx="1930.8" cy="1464.4" r="14"/></g>
<g class="f s"><circle cx="1996.9" cy="1426.2" r="14"/></g>
<g class="m"><circle cx="976.9" cy="1241.6" r="14"/></g>
<g class="m s"><circle cx="992.0" cy="1280.1" r="14"/></g>
<g class="m"><circle cx="1339.4" cy="1378.6" r="14"/></g>
<g class="m s"><circle cx="903.4" cy="1259.5" r="14"/></g>
<g class="d"><circle cx="1851.8" cy="1426.0" r="14"/></g>
<g class="b s"><circle cx="1065.6" cy="1010.9" r="14"/></g>
<g class="c"><circle cx="283.0" cy="1473.6" r="14"/></g>
<g class="m"><circle cx="991.9" cy="1300.3" r="14"/><circle cx="1076.6" cy="1266.0" r="14"/></g>
<g class="m s"><circle cx="1192.7" cy="1250.3" r="14"/></g>
<g class="a s"><circle cx="943.2" cy="187.7" r="14"/></g>
<g class="f s"><circle cx="1968.2" cy="1337.2" r="14"/></g>
<g class="b s"><circle cx="1012.1" cy="1047.9" r="14"/></g>
<g class="d s"><circle cx="1908.1" cy="1481.4" r="14"/></g>
<g class="c s"><circle cx="294.1" cy="1466.4" r="14"/><circle cx="325.5" cy="1466.0" r="14"/></g>
<g class="a"><circle cx="937.9" cy="539.6" r="14"/></g>
<g class="a s"><circle cx="1005.6" cy="784.8" r="14"/></g>
<g class="a"><circle cx="924.8" cy="215.2" r="14"/></g>
<g class="m"><circle cx="1035.2" cy="1266.7" r="14"/></g>
<g class="m s"><circle cx="1011.1" cy="1334.5" r="14"/></g>
<g class="m"><circle cx="1017.9" cy="1155.6" r="14"/></g>
<g class="d"><circle cx="1636.7" cy="1347.4" r="14"/></g>
<g class="c"><circle cx="409.4" cy="1460.8" r="14"/></g>
<g class="a"><circle cx="992.9" cy="809.9" r="14"/></g>
<g class="d s"><circle cx="1718.0" cy="1255.0" r="14"/></g>
<g class="d"><circle cx="1706.1" cy="1359.6" r="14"/></g>
<g class="a"><circle cx="975.4" cy="726.2" r="14"/></g>
<g class="d"><circle cx="1717.8" cy="1280.0" r="14"/><circle cx="1945.5" cy="1453.0" r="14"/></g>
<g class="c"><circle cx="307.5" cy="1426.6" r="14"/></g>
<g class="a"><circle cx="991.1" cy="777.8" r="14"/></g>
<g class="m"><circle cx="1094.2" cy="1280.0" r="14"/><circle cx="1011.1" cy="1118.5" r="14"/></g>
<g class="d"><circle cx="1812.3" cy="1421.3" r="14"/></g>
<g class="m"><circle cx="855.2" cy="1238.2" r="14"/><circle cx="1133.0" cy="1322.2" r="14"/></g>
<g class="c s"><circle cx="363.5" cy="1505.6" r="14"/></g>
<g class="c"><circle cx="280.2" cy="1485.3" r="14"/></g>
<g class="f"><circle cx="1982.1" cy="1467.8" r="14"/></g>
<g class="m s"><circle cx="967.9" cy="1190.0" r="14"/></g>
<g class="a"><circle cx="982.5" cy="738.4" r="14"/></g>
<g class="d"><circle cx="1442.2" cy="1321.0" r="14"/></g>
<g class="a s"><circle cx="936.2" cy="419.9" r="14"/></g>
<g class="m"><circle cx="1207.8" cy="1218.4" r="14"/></g>
<g class="c s"><circle cx="373.9" cy="1467.7" r="14"/></g>
<g class="d"><circle cx="1665.3" cy="1376.8" r="14"/></g>
<g class="m"><circle cx="856.9" cy="1319.6" r="14"/><circle cx="1073.2" cy="1206.9" r="14"/></g>
<g class="d s"><circle cx="1872.8" cy="1367.7" r="14"/></g>
<g class="a s"><circle cx="960.3" cy="388.4" r="14"/></g>
<g class="d s"><circle cx="1832.0" cy="1335.1" r="14"/></g>
<g class="a s"><circle cx="918.9" cy="208.7" r="14"/></g>
<g class="d s"><circle cx="1907.9" cy="1429.4" r="14"/></g>
<g class="c s"><circle cx="127.4" cy="1486.1" r="14"/></g>
<g class="m"><circle cx="964.3" cy="1288.7" r="14"/></g>
<g class="m s"><circle cx="789.3" cy="1342.3" r="14"/></g>
<g class="e"><circle cx="98.2" cy="1421.1" r="14"/></g>
<g class="m"><circle cx="1235.1" cy="1238.1" r="14"/></g>
<g class="d s"><circle cx="1692.0" cy="1232.0" r="14"/></g>
<g class="m s"><circle cx="1022.7" cy="1206.8" r="14"/></g>
<g class="d s"><circle cx="1831.2" cy="1468.9" r="14"/><circle cx="1859.4" cy="1432.2" r="14"/></g>
<g class="a s"><circle cx="950.8" cy="465.0" r="14"/></g>
<g class="m s"><circle cx="1333.2" cy="1256.8" r="14"/></g>
<g class="m"><circle cx="1005.5" cy="1306.1" r="14"/></g>
<g class="f"><circle cx="1944.3" cy="1356.3" r="14"/></g>
<g class="d"><circle cx="1614.4" cy="1317.6" r="14"/></g>
<g class="m"><circle cx="1109.9" cy="1237.9" r="14"/></g>
<g class="m s"><circle cx="1065.9" cy="1191.2" r="14"/><circle cx="973.8" cy="1137.1" r="14"/></g>
<g class="c"><circle cx="560.0" cy="1444.2" r="14"/></g>
<g class="m s"><circle cx="968.3" cy="1109.8" r="14"/><circle cx="847.4" cy="1341.2" r="14"/><circle cx="985.3" cy="1332.0" r="14"/></g>
<g class="e s"><circle cx="70.0" cy="1490.0" r="14"/></g>
<g class="d s"><circle cx="1764.6" cy="1330.4" r="14"/></g>
<g class="a"><circle cx="929.7" cy="202.0" r="14"/></g>
<g class="a s"><circle cx="1006.6" cy="844.7" r="14"/></g>
<g class="f"><circle cx="1947.3" cy="1445.7" r="14"/></g>
<g class="c"><circle cx="325.1" cy="1415.1" r="14"/></g>
<g class="b"><circle cx="1006.9" cy="911.1" r="14"/></g>
<g class="m s"><circle cx="805.0" cy="1222.0" r="14"/><circle cx="1041.5" cy="1186.4" r="14"/></g>
<g class="a"><circle cx="930.5" cy="175.8" r="14"/></g>
<g class="b s"><circle cx="1005.2" cy="930.4" r="14"/></g>
<g class="m"><circle cx="1281.8" cy="1209.0" r="14"/></g>
<g class="d"><circle cx="1608.8" cy="1303.0" r="14"/></g>
<g class="a"><circle cx="1012.2" cy="854.7" r="14"/></g>
<g class="f"><circle cx="1953.1" cy="1489.8" r="14"/></g>
<g class="d s"><circle cx="1873.5" cy="1347.1" r="14"/></g>
<g class="b"><circle cx="1047.2" cy="917.3" r="14"/></g>
<g class="m"><circle cx="1305.8" cy="1312.7" r="14"/></g>
<g class="b"><circle cx="1035.7" cy="1002.6" r="14"/></g>
<g class="a"><circle cx="954.1" cy="302.9" r="14"/></g>
<g class="d"><circle cx="1689.6" cy="1357.1" r="14"/></g>
<g class="c s"><circle cx="725.0" cy="1342.0" r="14"/></g>
<g class="d"><circle cx="1661.6" cy="1283.1" r="14"/></g>
<g class="d s"><circle cx="1758.8" cy="1460.1" r="14"/></g>
<g class="a s"><circle cx="902.8" cy="206.8" r="14"/></g>
<g class="d s"><circle cx="1776.8" cy="1355.1" r="14"/></g>
<g class="d"><circle cx="1820.2" cy="1448.0" r="14"/></g>
<g class="a"><circle cx="991.1" cy="910.0" r="14"/></g>
<g class="c"><circle cx="723.6" cy="1387.5" r="14"/></g>
<g class="m s"><circle cx="1297.1" cy="1370.1" r="14"/></g>
<g class="m"><circle cx="1038.9" cy="1041.3" r="14"/></g>
<g class="c"><circle cx="561.3" cy="1439.4" r="14"/></g>
<g class="m s"><circle cx="1030.4" cy="1295.8" r="14"/></g>
<g class="m"><circle cx="1097.5" cy="1193.7" r="14"/><circle cx="1085.5" cy="1209.5" r="14"/><circle cx="976.6" cy="1208.5" r="14"/></g>
<g class="d s"><circle cx="1720.5" cy="1285.3" r="14"/></g>
<g class="m"><circle cx="1192.1" cy="1238.4" r="14"/><circle cx="1025.0" cy="1173.9" r="14"/></g>
<g class="a"><circle cx="964.4" cy="514.4" r="14"/></g>
<g class="b"><circle cx="1049.5" cy="1047.4" r="14"/></g>
<g class="d"><circle cx="1710.1" cy="1305.7" r="14"/></g>
<g class="c"><circle cx="242.9" cy="1431.4" r="14"/></g>
<g class="d"><circle cx="1477.8" cy="1373.8" r="14"/></g>
<g class="a s"><circle cx="987.9" cy="614.3" r="14"/></g>
<g class="c s"><circle cx="419.9" cy="1514.9" r="14"/></g>
<g class="m"><circle cx="1317.0" cy="1290.2" r="14"/></g>
<g class="e"><circle cx="83.2" cy="1387.3" r="14"/></g>
<g class="d s"><circle cx="1878.0" cy="1340.6" r="14"/><circle cx="1751.1" cy="1396.7" r="14"/></g>
<g class="a"><circle cx="931.3" cy="203.0" r="14"/></g>
<g class="d"><circle cx="1647.6" cy="1299.5" r="14"/></g>
<g class="c"><circle cx="789.6" cy="1371.5" r="14"/></g>
<g class="d"><circle cx="1568.0" cy="1376.3" r="14"/></g>
<g class="m"><circle cx="1069.7" cy="1083.2" r="14"/></g>
<g class="a s"><circle cx="949.2" cy="173.1" r="14"/></g>
<g class="m"><circle cx="1002.5" cy="1045.2" r="14"/></g>
<g class="d"><circle cx="1873.0" cy="1383.7" r="14"/></g>
<g class="e"><circle cx="98.5" cy="1471.9" r="14"/></g>
<g class="m"><circle cx="1095.4" cy="1223.9" r="14"/></g>
<g class="c s"><circle cx="242.2" cy="1500.4" r="14"/></g>
<g class="m s"><circle cx="1000.2" cy="1196.4" r="14"/></g>
<g class="c s"><circle cx="736.4" cy="1389.5" r="14"/></g>
<g class="f s"><circle cx="1990.7" cy="1429.9" r="14"/></g>
<g class="b"><circle cx="985.7" cy="989.4" r="14"/></g>
<g class="e s"><circle cx="87.2" cy="1408.5" r="14"/></g>
<g class="m s"><circle cx="1286.2" cy="1355.0" r="14"/></g>
<g class="a"><circle cx="918.0" cy="191.0" r="14"/></g>
<g class="f s"><circle cx="1955.8" cy="1498.2" r="14"/></g>
<g class="f"><circle cx="1975.8" cy="1432.0" r="14"/></g>
<g class="c"><circle cx="167.1" cy="1468.3" r="14"/></g>
<g class="m s"><circle cx="1069.8" cy="1245.6" r="14"/></g>
<g class="a s"><circle cx="924.1" cy="205.5" r="14"/></g>
<g class="d"><circle cx="1576.6" cy="1294.4" r="14"/></g>
<g class="d s"><circle cx="1826.4" cy="1383.3" r="14"/></g>
<g class="e"><circle cx="93.6" cy="1457.0" r="14"/></g>
<g class="b"><circle cx="1020.3" cy="1004.5" r="14"/></g>
<g class="m"><circle cx="1050.3" cy="1239.1" r="14"/></g>
<g class="a s"><circle cx="948.0" cy="533.0" r="14"/></g>
<g class="c s"><circle cx="796.6" cy="1420.7" r="14"/></g>
<g class="d s"><circle cx="1846.8" cy="1392.9" r="14"/><circle cx="1636.1" cy="1332.9" r="14"/></g>
<g class="f"><circle cx="1962.0" cy="1493.3" r="14"/></g>
<g class="a"><circle cx="987.1" cy="896.4" r="14"/></g>
<g class="d"><circle cx="1863.1" cy="1435.1" r="14"/></g>
<g class="d s"><circle cx="1839.9" cy="1369.9" r="14"/></g>
<g class="m s"><circle cx="1069.6" cy="1193.7" r="14"/><circle cx="1356.0" cy="1323.0" r="14"/></g>
<g class="c s"><circle cx="431.7" cy="1352.6" r="14"/></g>
<g class="a s"><circle cx="990.0" cy="682.5" r="14"/></g>
<g class="c s"><circle cx="542.8" cy="1450.5" r="14"/></g>
<g class="c"><circle cx="811.3" cy="1371.0" r="14"/></g>
<g class="a"><circle cx="994.3" cy="590.3" r="14"/><circle cx="1015.8" cy="813.6" r="14"/></g>
<g class="m s"><circle cx="1171.2" cy="1298.7" r="14"/></g>
<g class="d"><circle cx="1721.4" cy="1344.3" r="14"/></g>
<g class="m"><circle cx="1196.9" cy="1227.0" r="14"/></g>
<g class="m s"><circle cx="1069.8" cy="1199.5" r="14"/></g>
<g class="b"><circle cx="994.6" cy="942.9" r="14"/></g>
<g class="d s"><circle cx="1787.8" cy="1455.4" r="14"/><circle cx="1603.5" cy="1353.4" r="14"/></g>
<g class="b s"><circle cx="999.5" cy="1056.4" r="14"/></g>
<g class="d s"><circle cx="1922.9" cy="1406.7" r="14"/></g>
<g class="d"><circle cx="1587.8" cy="1330.3" r="14"/></g>
<g class="b s"><circle cx="1034.0" cy="1015.7" r="14"/></g>
<g class="c"><circle cx="748.5" cy="1368.8" r="14"/><circle cx="137.6" cy="1424.8" r="14"/></g>
<g class="m s"><circle cx="1299.9" cy="1380.1" r="14"/></g>
<g class="c"><circle cx="709.9" cy="1389.3" r="14"/></g>
<g class="d"><circle cx="1531.5" cy="1326.4" r="14"/></g>
<g class="c"><circle cx="66.5" cy="1481.5" r="14"/></g>
<g class="b"><circle cx="1056.9" cy="1042.9" r="14"/></g>
<g class="d s"><circle cx="1592.6" cy="1334.7" r="14"/></g>
<g class="m"><circle cx="1334.4" cy="1273.9" r="14"/></g>
<g class="c s"><circle cx="566.5" cy="1434.7" r="14"/></g>
<g class="d s"><circle cx="1559.6" cy="1317.1" r="14"/></g>
<g class="m"><circle cx="1010.5" cy="1232.5" r="14"/></g>
<g class="c s"><circle cx="252.8" cy="1430.9" r="14"/></g>
<g class="f s"><circle cx="1955.5" cy="1578.5" r="14"/></g>
<g class="d s"><circle cx="1580.6" cy="1345.3" r="14"/></g>
<g class="m"><circle cx="994.6" cy="1286.8" r="14"/></g>
<g class="a s"><circle cx="902.7" cy="216.5" r="14"/></g>
<g class="a"><circle cx="997.9" cy="581.3" r="14"/></g>
<g class="d s"><circle cx="1702.8" cy="1411.6" r="14"/></g>
<g class="f"><circle cx="1942.8" cy="1451.5" r="14"/></g>
<g class="d"><circle cx="1740.0" cy="1314.1" r="14"/></g>
<g class="a s"><circle cx="970.1" cy="454.2" r="14"/></g>
<g class="f s"><circle cx="1984.2" cy="1418.0" r="14"/></g>
<g class="d"><circle cx="1811.8" cy="1351.9" r="14"/></g>
<g class="f"><circle cx="1959.1" cy="1408.9" r="14"/></g>
<g class="m s"><circle cx="1049.0" cy="1160.9" r="14"/></g>
<g class="d s"><circle cx="1791.2" cy="1428.3" r="14"/><circle cx="1794.1" cy="1323.4" r="14"/></g>
<g class="a"><circle cx="1001.5" cy="771.3" r="14"/></g>
<g class="d s"><circle cx="1597.7" cy="1318.9" r="14"/></g>
<g class="d"><circle cx="1704.5" cy="1350.1" r="14"/><circle cx="1600.6" cy="1358.4" r="14"/></g>
<g class="c s"><circle cx="370.6" cy="1444.8" r="14"/></g>
<g class="m"><circle cx="1134.6" cy="1215.2" r="14"/></g>
<g class="a s"><circle cx="980.1" cy="658.9" r="14"/></g>
<g class="d"><circle cx="1770.3" cy="1414.4" r="14"/></g>
<g class="d s"><circle cx="1892.2" cy="1373.0" r="14"/></g>
<g class="b s"><circle cx="1016.3" cy="996.5" r="14"/></g>
<g class="d s"><circle cx="1680.4" cy="1372.5" r="14"/><circle cx="1633.3" cy="1314.8" r="14"/></g>
<g class="c"><circle cx="768.8" cy="1358.3" r="14"/></g>
<g class="d"><circle cx="1768.9" cy="1354.3" r="14"/></g>
<g class="a s"><circle cx="993.1" cy="867.8" r="14"/></g>
<g class="d s"><circle cx="1880.2" cy="1480.2" r="14"/></g>
<g class="a s"><circle cx="1000.3" cy="705.6" r="14"/></g>
<g class="c"><circle cx="271.3" cy="1445.7" r="14"/></g>
<g class="a s"><circle cx="966.0" cy="562.6" r="14"/></g>
<g class="m s"><circle cx="1238.1" cy="1258.2" r="14"/><circle cx="1008.1" cy="1052.2" r="14"/></g>
<g class="d s"><circle cx="1698.9" cy="1336.0" r="14"/></g>
<g class="m s"><circle cx="1248.5" cy="1227.7" r="14"/></g>
<g class="c"><circle cx="632.0" cy="1419.5" r="14"/></g>
<g class="a s"><circle cx="932.0" cy="195.5" r="14"/></g>
<g class="a"><circle cx="940.7" cy="178.6" r="14"/></g>
<g class="a s"><circle cx="955.7" cy="311.8" r="14"/></g>
<g class="d"><circle cx="1755.0" cy="1415.9" r="14"/></g>
<g class="f s"><circle cx="1988.2" cy="1402.7" r="14"/></g>
<g class="c"><circle cx="377.1" cy="1478.0" r="14"/></g>
<g class="d"><circle cx="1661.5" cy="1303.7" r="14"/></g>
<g class="a s"><circle cx="967.4" cy="390.3" r="14"/></g>
<g class="a"><circle cx="957.1" cy="159.6" r="14"/></g>
<g class="c"><circle cx="552.9" cy="1453.0" r="14"/></g>
<g class="a"><circle cx="968.0" cy="168.0" r="14"/></g>
<g class="d"><circle cx="1742.6" cy="1309.6" r="14"/><circle cx="1683.2" cy="1316.0" r="14"/></g>
<g class="d s"><circle cx="1561.0" cy="1307.4" r="14"/></g>
<g class="e"><circle cx="94.1" cy="1524.2" r="14"/></g>
<g class="d"><circle cx="1889.0" cy="1300.0" r="14"/></g>
<g class="a"><circle cx="961.0" cy="376.8" r="14"/></g>
<g class="m s"><circle cx="1186.4" cy="1246.5" r="14"/></g>
<g class="b"><circle cx="993.7" cy="897.6" r="14"/></g>
<g class="m s"><circle cx="1116.7" cy="1235.5" r="14"/><circle cx="1168.4" cy="1277.8" r="14"/></g>
<g class="c"><circle cx="536.6" cy="1397.5" r="14"/></g>
<g class="a s"><circle cx="970.2" cy="158.8" r="14"/></g>
<g class="m s"><circle cx="1047.8" cy="1217.7" r="14"/></g>
<g class="m"><circle cx="786.0" cy="1276.2" r="14"/></g>
<g class="m s"><circle cx="960.2" cy="1290.8" r="14"/></g>
<g class="m"><circle cx="1361.6" cy="1338.8" r="14"/></g>
<g class="m s"><circle cx="1045.9" cy="1095.2" r="14"/></g>
<g class="e"><circle cx="108.2" cy="1404.0" r="14"/></g>
<g class="m"><circle cx="893.5" cy="1310.8" r="14"/></g>
<g class="a"><circle cx="951.5" cy="354.4" r="14"/></g>
<g class="d"><circle cx="1822.8" cy="1369.7" r="14"/><circle cx="1471.3" cy="1376.9" r="14"/></g>
<g class="a s"><circle cx="1004.7" cy="911.2" r="14"/><circle cx="942.2" cy="303.6" r="14"/></g>
<g class="a"><circle cx="991.9" cy="809.2" r="14"/></g>
<g class="c"><circle cx="378.2" cy="1460.9" r="14"/></g>
<g class="m s"><circle cx="1067.4" cy="1080.4" r="14"/></g>
<g class="c"><circle cx="679.6" cy="1419.2" r="14"/></g>
<g class="m"><circle cx="1137.1" cy="1289.2" r="14"/></g>
<g class="d"><circle cx="1877.8" cy="1449.9" r="14"/></g>
<g class="m s"><circle cx="1078.3" cy="1041.8" r="14"/></g>
<g class="d"><circle cx="1388.0" cy="1406.0" r="14"/></g>
<g class="a s"><circle cx="960.5" cy="613.5" r="14"/></g>
<g class="m"><circle cx="1246.7" cy="1240.0" r="14"/></g>
<g class="a"><circle cx="939.9" cy="150.0" r="14"/></g>
<g class="c"><circle cx="235.3" cy="1430.7" r="14"/></g>
<g class="m s"><circle cx="1023.8" cy="1251.7" r="14"/><circle cx="1161.5" cy="1243.5" r="14"/></g>
<g class="c s"><circle cx="418.6" cy="1481.6" r="14"/></g>
<g class="f s"><circle cx="1946.8" cy="1383.5" r="14"/></g>
<g class="m s"><circle cx="1412.1" cy="1322.5" r="14"/></g>
<g class="m"><circle cx="978.3" cy="1230.5" r="14"/></g>
<g class="c s"><circle cx="408.4" cy="1434.3" r="14"/></g>
<g class="a"><circle cx="946.5" cy="346.1" r="14"/></g>
<g class="m s"><circle cx="1055.9" cy="1223.5" r="14"/></g>
<g class="e"><circle cx="125.3" cy="1517.9" r="14"/></g>
<g class="c"><circle cx="206.9" cy="1478.7" r="14"/></g>
<g class="m"><circle cx="1091.2" cy="1244.6" r="14"/></g>
<g class="d s"><circle cx="1696.6" cy="1293.7" r="14"/></g>
<g class="a s"><circle cx="928.5" cy="480.6" r="14"/></g>
<g class="d"><circle cx="1715.6" cy="1280.5" r="14"/></g>
<g class="d s"><circle cx="1722.4" cy="1349.5" r="14"/></g>
<g class="m s"><circle cx="1095.9" cy="1237.6" r="14"/></g>
<g class="m"><circle cx="1265.5" cy="1266.5" r="14"/></g>
<g class="d s"><circle cx="1877.4" cy="1343.8" r="14"/></g>
<g class="f s"><circle cx="1960.0" cy="1362.4" r="14"/></g>
<g class="m"><circle cx="1027.5" cy="1194.7" r="14"/></g>
<g class="a"><circle cx="1004.4" cy="621.0" r="14"/></g>
<g class="d s"><circle cx="1598.9" cy="1360.0" r="14"/></g>
<g class="m"><circle cx="994.7" cy="1256.5" r="14"/></g>
<g class="c"><circle cx="540.0" cy="1508.0" r="14"/></g>
<g class="m"><circle cx="1054.9" cy="1317.8" r="14"/></g>
<g class="d"><circle cx="1753.4" cy="1333.5" r="14"/></g>
<g class="c"><circle cx="395.6" cy="1452.4" r="14"/></g>
<g class="m"><circle cx="1055.0" cy="1104.3" r="14"/></g>
<g class="d s"><circle cx="1882.6" cy="1405.3" r="14"/><circle cx="1766.7" cy="1395.8" r="14"/></g>
<g class="b"><circle cx="1070.7" cy="1031.2" r="14"/></g>
<g class="f"><circle cx="1960.2" cy="1328.4" r="14"/></g>
<g class="a s"><circle cx="903.6" cy="231.9" r="14"/><circle cx="935.0" cy="389.8" r="14"/></g>
<g class="b"><circle cx="1025.4" cy="1059.3" r="14"/></g>
<g class="a s"><circle cx="993.7" cy="602.7" r="14"/></g>
<g class="d s"><circle cx="1862.1" cy="1329.4" r="14"/></g>
<g class="a"><circle cx="943.3" cy="184.7" r="14"/></g>
<g class="d"><circle cx="1572.7" cy="1336.8" r="14"/></g>
<g class="m"><circle cx="1074.7" cy="1167.8" r="14"/><circle cx="1297.7" cy="1307.3" r="14"/></g>
<g class="d"><circle cx="1621.2" cy="1354.9" r="14"/></g>
<g class="m s"><circle cx="1321.6" cy="1396.6" r="14"/></g>
<g class="m"><circle cx="1013.1" cy="1156.7" r="14"/></g>
<g class="m s"><circle cx="1130.6" cy="1222.8" r="14"/></g>
<g class="m"><circle cx="981.1" cy="1183.2" r="14"/></g>
<g class="d"><circle cx="1584.4" cy="1316.6" r="14"/></g>
<g class="a s"><circle cx="966.4" cy="763.0" r="14"/></g>
<g class="b s"><circle cx="1016.5" cy="975.6" r="14"/></g>
<g class="e s"><circle cx="122.4" cy="1511.9" r="14"/></g>
<g class="b"><circle cx="974.8" cy="1075.8" r="14"/></g>
<g class="m s"><circle cx="970.0" cy="1273.8" r="14"/></g>
<g class="d"><circle cx="1735.7" cy="1346.1" r="14"/></g>
<g class="e"><circle cx="119.0" cy="1510.2" r="14"/></g>
<g class="d"><circle cx="1655.1" cy="1311.7" r="14"/></g>
<g class="m"><circle cx="1419.8" cy="1328.0" r="14"/></g>
<g class="d"><circle cx="1748.3" cy="1371.2" r="14"/></g>
<g class="d s"><circle cx="1769.0" cy="1381.2" r="14"/><circle cx="1643.0" cy="1391.1" r="14"/></g>
<g class="e"><circle cx="122.0" cy="1302.0" r="14"/></g>
<g class="d s"><circle cx="1750.4" cy="1404.6" r="14"/></g>
<g class="c"><circle cx="537.8" cy="1440.7" r="14"/></g>
<g class="m s"><circle cx="1069.3" cy="1110.2" r="14"/></g>
<g class="c s"><circle cx="250.9" cy="1502.2" r="14"/></g>
<g class="d s"><circle cx="1817.5" cy="1395.5" r="14"/></g>
<g class="c"><circle cx="715.1" cy="1425.6" r="14"/></g>
<g class="m s"><circle cx="1080.3" cy="1263.4" r="14"/></g>
<g class="a"><circle cx="994.4" cy="870.8" r="14"/></g>
<g class="c"><circle cx="513.4" cy="1458.3" r="14"/></g>
<g class="a s"><circle cx="978.2" cy="912.6" r="14"/></g>
<g class="m s"><circle cx="1237.5" cy="1287.1" r="14"/></g>
<g class="a s"><circle cx="1017.3" cy="832.3" r="14"/></g>
<g class="b s"><circle cx="971.8" cy="999.4" r="14"/></g>
<g class="a s"><circle cx="988.6" cy="748.4" r="14"/></g>
<g class="m s"><circle cx="973.5" cy="1231.9" r="14"/></g>
<g class="m"><circle cx="975.1" cy="1231.1" r="14"/></g>
<g class="c s"><circle cx="389.3" cy="1424.9" r="14"/></g>
<g class="m"><circle cx="1308.8" cy="1260.7" r="14"/></g>
<g class="a s"><circle cx="971.5" cy="535.4" r="14"/></g>
<g class="m"><circle cx="1144.6" cy="1285.4" r="14"/></g>
<g class="c s"><circle cx="209.6" cy="1489.0" r="14"/></g>
<g class="b"><circle cx="1053.1" cy="1055.3" r="14"/></g>
<g class="m"><circle cx="873.9" cy="1276.4" r="14"/></g>
<g class="d"><circle cx="1944.6" cy="1417.6" r="14"/></g>
<g class="m s"><circle cx="995.7" cy="1208.0" r="14"/></g>
<g class="d s"><circle cx="1893.4" cy="1420.3" r="14"/></g>
<g class="d"><circle cx="1827.2" cy="1413.9" r="14"/></g>
<g class="m"><circle cx="1307.2" cy="1313.7" r="14"/></g>
<g class="d s"><circle cx="1677.4" cy="1361.0" r="14"/></g>
<g class="a"><circle cx="932.7" cy="191.1" r="14"/></g>
<g class="d"><circle cx="1815.0" cy="1411.6" r="14"/></g>
<g class="m s"><circle cx="1195.0" cy="1329.8" r="14"/><circle cx="866.9" cy="1316.4" r="14"/></g>
<g class="m"><circle cx="1030.1" cy="1293.9" r="14"/></g>
<g class="d s"><circle cx="1439.4" cy="1376.1" r="14"/></g>
<g class="a s"><circle cx="936.2" cy="417.8" r="14"/></g>
<g class="c"><circle cx="652.0" cy="1480.0" r="14"/></g>
<g class="d"><circle cx="1560.9" cy="1347.0" r="14"/></g>
<g class="m s"><circle cx="1186.9" cy="1304.5" r="14"/></g>
<g class="b"><circle cx="1020.0" cy="891.2" r="14"/></g>
<g class="a"><circle cx="989.7" cy="570.3" r="14"/></g>
<g class="m"><circle cx="1014.2" cy="1229.2" r="14"/></g>
<g class="f"><circle cx="1998.2" cy="1455.5" r="14"/></g>
<g class="d"><circle cx="1824.8" cy="1429.2" r="14"/></g>
<g class="c"><circle cx="386.8" cy="1418.9" r="14"/></g>
<g class="a s"><circle cx="962.9" cy="617.2" r="14"/><circle cx="1015.3" cy="824.5" r="14"/></g>
<g class="c"><circle cx="655.9" cy="1427.2" r="14"/></g>
<g class="b s"><circle cx="1030.0" cy="1018.5" r="14"/></g>
<g class="m s"><circle cx="819.5" cy="1341.9" r="14"/></g>
<g class="c s"><circle cx="488.0" cy="1456.4" r="14"/></g>
<g class="d s"><circle cx="1638.7" cy="1276.9" r="14"/></g>
<g class="a s"><circle cx="964.3" cy="292.9" r="14"/></g>
<g class="f"><circle cx="1986.2" cy="1410.2" r="14"/></g>
<g class="b"><circle cx="975.1" cy="1007.8" r="14"/></g>
<g class="c"><circle cx="619.7" cy="1428.8" r="14"/></g>
<g class="f s"><circle cx="1977.0" cy="1410.8" r="14"/></g>
<g class="f"><circle cx="1976.4" cy="1480.7" r="14"/></g>
<g class="b"><circle cx="986.0" cy="1005.1" r="14"/></g>
<g class="c s"><circle cx="544.6" cy="1475.1" r="14"/></g>
<g class="f"><circle cx="2002.5" cy="1401.0" r="14"/></g>
<g class="m s"><circle cx="1288.4" cy="1193.5" r="14"/></g>
<g class="d"><circle cx="1577.5" cy="1394.2" r="14"/><circle cx="1762.2" cy="1370.0" r="14"/></g>
<g class="m s"><circle cx="1069.5" cy="1198.2" r="14"/></g>
<g class="b"><circle cx="1023.2" cy="1074.5" r="14"/></g>
<g class="d"><circle cx="1789.3" cy="1442.0" r="14"/></g>
<g class="b"><circle cx="991.4" cy="1041.2" r="14"/></g>
<g class="m"><circle cx="1084.1" cy="1230.9" r="14"/></g>
<g class="a"><circle cx="971.0" cy="357.6" r="14"/></g>
<g class="d"><circle cx="1514.5" cy="1339.6" r="14"/></g>
<g class="c"><circle cx="637.5" cy="1441.7" r="14"/></g>
<g class="d s"><circle cx="1826.2" cy="1432.2" r="14"/></g>
<g class="m"><circle cx="816.1" cy="1335.4" r="14"/></g>
<g class="a"><circle cx="965.2" cy="292.6" r="14"/></g>
<g class="f s"><circle cx="1984.3" cy="1372.9" r="14"/></g>
<g class="c s"><circle cx="197.5" cy="1441.2" r="14"/></g>
<g class="a"><circle cx="973.2" cy="305.6" r="14"/></g>
<g class="c"><circle cx="263.4" cy="1484.1" r="14"/><circle cx="586.8" cy="1397.6" r="14"/></g>
<g class="f"><circle cx="1998.6" cy="1448.2" r="14"/></g>
<g class="d"><circle cx="1749.2" cy="1327.2" r="14"/></g>
<g class="m s"><circle cx="1152.4" cy="1252.2" r="14"/></g>
<g class="d"><circle cx="1842.9" cy="1380.0" r="14"/></g>
<g class="m"><circle cx="1056.8" cy="1202.2" r="14"/></g>
<g class="d s"><circle cx="1648.1" cy="1299.9" r="14"/></g>
<g class="a"><circle cx="988.0" cy="755.9" r="14"/></g>
<g class="a s"><circle cx="985.4" cy="903.6" r="14"/></g>
<g class="m"><circle cx="1011.3" cy="1290.1" r="14"/></g>
<g class="c"><circle cx="468.5" cy="1425.9" r="14"/></g>
<g class="m"><circle cx="839.1" cy="1252.2" r="14"/></g>
<g class="m s"><circle cx="956.9" cy="1228.8" r="14"/></g>
<g class="m"><circle cx="948.8" cy="1234.0" r="14"/><circle cx="1009.9" cy="1085.4" r="14"/><circle cx="1281.9" cy="1278.8" r="14"/></g>
<g class="d"><circle cx="1763.8" cy="1362.1" r="14"/></g>
<g class="d s"><circle cx="1828.1" cy="1429.1" r="14"/><circle cx="1888.0" cy="1380.7" r="14"/></g>
<g class="m"><circle cx="1057.0" cy="1079.4" r="14"/></g>
<g class="d"><circle cx="1920.0" cy="1409.9" r="14"/></g>
<g class="m"><circle cx="1081.1" cy="1262.4" r="14"/></g>
<g class="b"><circle cx="1012.3" cy="913.1" r="14"/></g>
<g class="a s"><circle cx="944.6" cy="587.2" r="14"/></g>
<g class="m"><circle cx="1262.7" cy="1244.2" r="14"/></g>
<g class="m s"><circle cx="1301.7" cy="1364.8" r="14"/><circle cx="1012.7" cy="1305.1" r="14"/></g>
<g class="c s"><circle cx="763.5" cy="1390.2" r="14"/></g>
<g class="m"><circle cx="1024.6" cy="1202.2" r="14"/></g>
<g class="c"><circle cx="353.6" cy="1473.7" r="14"/></g>
<g class="d"><circle cx="1587.0" cy="1340.9" r="14"/></g>
<g class="c"><circle cx="393.4" cy="1486.4" r="14"/></g>
<g class="m s"><circle cx="1312.9" cy="1282.1" r="14"/></g>
<g class="b"><circle cx="1029.3" cy="908.6" r="14"/></g>
<g class="d"><circle cx="1885.4" cy="1424.2" r="14"/></g>
<g class="m s"><circle cx="1007.2" cy="1207.8" r="14"/></g>
<g class="d"><circle cx="1728.7" cy="1358.3" r="14"/><circle cx="1868.5" cy="1462.0" r="14"/></g>
<g class="b"><circle cx="1010.4" cy="1073.1" r="14"/></g>
<g class="d"><circle cx="1386.8" cy="1343.3" r="14"/></g>
<g class="m s"><circle cx="1071.0" cy="1235.1" r="14"/></g>
<g class="d s"><circle cx="1673.4" cy="1293.5" r="14"/></g>
<g class="e"><circle cx="98.5" cy="1362.6" r="14"/></g>
<g class="d s"><circle cx="1770.7" cy="1336.5" r="14"/></g>
<g class="m s"><circle cx="1422.7" cy="1323.7" r="14"/></g>
<g class="f s"><circle cx="1973.4" cy="1431.7" r="14"/></g>
<g class="d s"><circle cx="1786.3" cy="1390.0" r="14"/></g>
<g class="d"><circle cx="1687.4" cy="1358.5" r="14"/><circle cx="1924.4" cy="1390.1" r="14"/></g>
<g class="m"><circle cx="962.4" cy="1234.0" r="14"/><circle cx="826.8" cy="1327.6" r="14"/></g>
<g class="d s"><circle cx="1388.7" cy="1334.2" r="14"/></g>
<g class="c"><circle cx="649.1" cy="1415.0" r="14"/></g>
<g class="m"><circle cx="878.0" cy="1323.2" r="14"/></g>
<g class="m s"><circle cx="1327.9" cy="1266.6" r="14"/></g>
<g class="e s"><circle cx="106.4" cy="1373.8" r="14"/></g>
<g class="m"><circle cx="1307.8" cy="1385.0" r="14"/></g>
<g class="m s"><circle cx="993.5" cy="1213.9" r="14"/></g>
<g class="d"><circle cx="1738.7" cy="1384.8" r="14"/></g>
<g class="m"><circle cx="1260.2" cy="1223.3" r="14"/></g>
<g class="c"><circle cx="352.5" cy="1365.5" r="14"/></g>
<g class="a s"><circle cx="982.7" cy="675.4" r="14"/></g>
<g class="a"><circle cx="975.3" cy="374.8" r="14"/></g>
<g class="m"><circle cx="989.6" cy="1328.6" r="14"/></g>
<g class="a"><circle cx="993.1" cy="913.2" r="14"/></g>
<g class="m"><circle cx="798.9" cy="1266.6" r="14"/></g>
<g class="d"><circle cx="1810.4" cy="1409.0" r="14"/></g>
<g class="m s"><circle cx="1077.4" cy="1279.8" r="14"/></g>
<g class="b s"><circle cx="1032.1" cy="1067.2" r="14"/></g>
<g class="m"><circle cx="1140.3" cy="1224.8" r="14"/><circle cx="1231.8" cy="1262.4" r="14"/></g>
<g class="d"><circle cx="1511.1" cy="1379.2" r="14"/></g>
<g class="a"><circle cx="949.5" cy="561.3" r="14"/><circle cx="974.2" cy="665.7" r="14"/></g>
<g class="d"><circle cx="1881.3" cy="1389.7" r="14"/></g>
<g class="m s"><circle cx="1169.0" cy="1241.1" r="14"/></g>
<g class="a"><circle cx="1023.9" cy="857.2" r="14"/></g>
<g class="m"><circle cx="1223.2" cy="1206.0" r="14"/></g>
<g class="d s"><circle cx="1546.0" cy="1332.6" r="14"/></g>
<g class="e"><circle cx="83.6" cy="1493.5" r="14"/></g>
<g class="m"><circle cx="927.9" cy="1359.7" r="14"/></g>
<g class="d s"><circle cx="1638.9" cy="1354.2" r="14"/></g>
<g class="c"><circle cx="755.2" cy="1412.1" r="14"/></g>
<g class="e"><circle cx="114.2" cy="1491.4" r="14"/></g>
<g class="a"><circle cx="934.5" cy="169.8" r="14"/></g>
<g class="m"><circle cx="1035.2" cy="1176.4" r="14"/></g>
<g class="a s"><circle cx="945.2" cy="516.4" r="14"/></g>
<g class="d"><circle cx="1635.1" cy="1319.0" r="14"/></g>
<g class="m"><circle cx="1013.7" cy="1100.9" r="14"/></g>
<g class="b"><circle cx="989.7" cy="911.7" r="14"/></g>
<g class="c s"><circle cx="702.0" cy="1412.7" r="14"/></g>
<g class="c"><circle cx="374.3" cy="1443.0" r="14"/></g>
<g class="m s"><circle cx="1262.1" cy="1245.2" r="14"/><circle cx="1347.3" cy="1390.6" r="14"/></g>
<g class="f s"><circle cx="1970.5" cy="1399.2" r="14"/></g>
<g class="m"><circle cx="1009.9" cy="1124.5" r="14"/></g>
<g class="a s"><circle cx="984.4" cy="873.6" r="14"/></g>
<g class="m s"><circle cx="968.3" cy="1125.9" r="14"/></g>
<g class="b"><circle cx="982.8" cy="1044.6" r="14"/></g>
<g class="m"><circle cx="950.9" cy="1190.5" r="14"/></g>
<g class="a"><circle cx="951.1" cy="426.3" r="14"/></g>
<g class="a s"><circle cx="1001.0" cy="779.4" r="14"/></g>
<g class="d"><circle cx="1863.9" cy="1374.3" r="14"/></g>
<g class="c s"><circle cx="320.2" cy="1447.8" r="14"/></g>
<g class="a"><circle cx="953.9" cy="139.1" r="14"/></g>
<g class="b"><circle cx="1043.7" cy="947.0" r="14"/></g>
<g class="d"><circle cx="1696.3" cy="1407.2" r="14"/><circle cx="1842.7" cy="1461.1" r="14"/></g>
<g class="a"><circle cx="939.8" cy="458.3" r="14"/></g>
<g class="c"><circle cx="633.3" cy="1401.2" r="14"/></g>
<g class="m"><circle cx="1014.9" cy="1165.9" r="14"/></g>
<g class="d"><circle cx="1535.0" cy="1422.0" r="14"/></g>
<g class="d s"><circle cx="1890.0" cy="1472.3" r="14"/></g>
<g class="m s"><circle cx="911.7" cy="1296.7" r="14"/></g>
<g class="m"><circle cx="1064.6" cy="1163.0" r="14"/><circle cx="885.0" cy="1207.7" r="14"/></g>
<g class="m s"><circle cx="796.0" cy="1360.4" r="14"/></g>
<g class="b s"><circle cx="1019.6" cy="927.0" r="14"/></g>
<g class="a s"><circle cx="969.3" cy="519.6" r="14"/></g>
<g class="m"><circle cx="1070.6" cy="1154.1" r="14"/></g>
<g class="m s"><circle cx="1054.5" cy="1164.6" r="14"/></g>
<g class="d"><circle cx="1802.8" cy="1362.4" r="14"/></g>
<g class="e s"><circle cx="126.9" cy="1513.8" r="14"/></g>
<g class="a"><circle cx="999.6" cy="769.1" r="14"/></g>
<g class="c"><circle cx="797.5" cy="1400.6" r="14"/></g>
<g class="m s"><circle cx="1304.7" cy="1295.1" r="14"/></g>
<g class="a"><circle cx="916.5" cy="196.3" r="14"/></g>
<g class="m s"><circle cx="1296.2" cy="1211.5" r="14"/></g>
<g class="c s"><circle cx="371.1" cy="1411.4" r="14"/></g>
<g class="m"><circle cx="851.1" cy="1335.9" r="14"/></g>
<g class="c"><circle cx="783.7" cy="1385.0" r="14"/></g>
<g class="m s"><circle cx="1171.0" cy="1286.0" r="14"/></g>
<g class="c s"><circle cx="552.3" cy="1454.2" r="14"/></g>
<g class="e"><circle cx="65.0" cy="1357.0" r="14"/></g>
<g class="c s"><circle cx="80.2" cy="1473.6" r="14"/></g>
<g class="a s"><circle cx="974.7" cy="801.3" r="14"/></g>
<g class="d"><circle cx="1613.0" cy="1348.5" r="14"/><circle cx="1880.9" cy="1439.2" r="14"/></g>
<g class="m s"><circle cx="1294.0" cy="1385.0" r="14"/></g>
<g class="c"><circle cx="402.6" cy="1495.9" r="14"/></g>
<g class="m s"><circle cx="1233.8" cy="1285.5" r="14"/></g>
<g class="b s"><circle cx="1017.9" cy="1077.2" r="14"/></g>
<g class="c"><circle cx="776.2" cy="1417.1" r="14"/></g>
<g class="c s"><circle cx="331.4" cy="1474.8" r="14"/></g>
<g class="e"><circle cx="108.7" cy="1469.0" r="14"/></g>
<g class="a"><circle cx="938.3" cy="174.5" r="14"/><circle cx="951.3" cy="624.2" r="14"/></g>
<g class="m"><circle cx="846.5" cy="1277.7" r="14"/><circle cx="1332.5" cy="1311.9" r="14"/></g>
<g class="d s"><circle cx="1754.2" cy="1317.7" r="14"/></g>
<g class="d"><circle cx="1840.8" cy="1317.8" r="14"/></g>
<g class="m"><circle cx="1227.2" cy="1221.2" r="14"/><circle cx="1272.8" cy="1237.9" r="14"/></g>
<g class="e"><circle cx="104.2" cy="1533.5" r="14"/></g>
<g class="m s"><circle cx="1026.0" cy="1091.8" r="14"/></g>
<g class="d s"><circle cx="1545.0" cy="1374.6" r="14"/></g>
<g class="b"><circle cx="1022.3" cy="1058.7" r="14"/></g>
<g class="d s"><circle cx="1850.0" cy="1290.0" r="14"/></g>
<g class="b s"><circle cx="1008.0" cy="943.2" r="14"/></g>
<g class="a s"><circle cx="965.1" cy="707.9" r="14"/></g>
<g class="m"><circle cx="1342.5" cy="1298.0" r="14"/></g>
<g class="c"><circle cx="271.0" cy="1453.9" r="14"/></g>
<g class="d s"><circle cx="1623.0" cy="1337.5" r="14"/></g>
<g class="m"><circle cx="868.2" cy="1288.2" r="14"/></g>
<g class="d"><circle cx="1752.3" cy="1351.0" r="14"/></g>
<g class="c s"><circle cx="586.5" cy="1409.4" r="14"/></g>
<g class="d s"><circle cx="1832.3" cy="1355.9" r="14"/></g>
<g class="m s"><circle cx="764.0" cy="1315.7" r="14"/><circle cx="982.0" cy="1113.1" r="14"/></g>
<g class="b"><circle cx="1015.2" cy="1028.4" r="14"/><circle cx="1032.1" cy="1057.5" r="14"/></g>
<g class="m s"><circle cx="898.9" cy="1285.3" r="14"/></g>
<g class="m"><circle cx="1113.0" cy="1236.4" r="14"/></g>
<g class="a"><circle cx="970.9" cy="606.2" r="14"/></g>
<g class="m s"><circle cx="1032.2" cy="1225.0" r="14"/><circle cx="1055.7" cy="1194.8" r="14"/></g>
<g class="c s"><circle cx="724.3" cy="1412.6" r="14"/></g>
<g class="m"><circle cx="884.4" cy="1240.6" r="14"/><circle cx="1284.8" cy="1221.4" r="14"/></g>
<g class="a s"><circle cx="946.2" cy="185.9" r="14"/></g>
<g class="d s"><circle cx="1832.9" cy="1416.7" r="14"/></g>
<g class="c s"><circle cx="339.0" cy="1486.5" r="14"/></g>
<g class="f"><circle cx="1949.9" cy="1450.2" r="14"/></g>
<g class="m s"><circle cx="960.3" cy="1155.2" r="14"/></g>
<g class="m"><circle cx="978.5" cy="1246.2" r="14"/></g>
<g class="d s"><circle cx="1785.4" cy="1415.9" r="14"/></g>
<g class="m s"><circle cx="908.0" cy="1243.5" r="14"/></g>
<g class="d"><circle cx="1672.2" cy="1354.3" r="14"/></g>
<g class="f s"><circle cx="1960.0" cy="1315.0" r="14"/></g>
<g class="m s"><circle cx="957.9" cy="1292.5" r="14"/></g>
<g class="c"><circle cx="306.5" cy="1451.5" r="14"/></g>
<g class="m"><circle cx="965.9" cy="1207.6" r="14"/></g>
<g class="a"><circle cx="993.6" cy="829.1" r="14"/></g>
<g class="m"><circle cx="1095.9" cy="1173.2" r="14"/></g>
<g class="c"><circle cx="783.9" cy="1407.4" r="14"/></g>
<g class="d"><circle cx="1874.3" cy="1446.0" r="14"/></g>
<g class="d s"><circle cx="1657.5" cy="1280.9" r="14"/></g>
<g class="m"><circle cx="914.6" cy="1229.3" r="14"/></g>
<g class="a s"><circle cx="966.6" cy="390.2" r="14"/></g>
<g class="m s"><circle cx="1036.7" cy="1254.4" r="14"/></g>
<g class="b"><circle cx="989.1" cy="1075.7" r="14"/></g>
<g class="m s"><circle cx="1045.8" cy="1166.1" r="14"/></g>
<g class="d s"><circle cx="1742.0" cy="1222.0" r="14"/></g>
<g class="m"><circle cx="922.8" cy="1298.8" r="14"/></g>
<g class="m s"><circle cx="880.8" cy="1246.8" r="14"/></g>
<g class="a"><circle cx="970.1" cy="680.0" r="14"/></g>
<g class="d s"><circle cx="1749.4" cy="1327.6" r="14"/></g>
<g class="m"><circle cx="836.8" cy="1305.4" r="14"/></g>
<g class="a s"><circle cx="991.0" cy="725.5" r="14"/></g>
<g class="c s"><circle cx="92.7" cy="1486.0" r="14"/></g>
<g class="d s"><circle cx="1613.8" cy="1365.3" r="14"/></g>
<g class="c"><circle cx="567.9" cy="1439.8" r="14"/></g>
<g class="a s"><circle cx="966.7" cy="503.3" r="14"/></g>
<g class="c"><circle cx="283.4" cy="1462.8" r="14"/></g>
<g class="d"><circle cx="1765.1" cy="1339.0" r="14"/></g>
<g class="m s"><circle cx="1032.1" cy="1319.5" r="14"/><circle cx="1092.2" cy="1282.3" r="14"/></g>
<g class="a s"><circle cx="950.0" cy="377.1" r="14"/><circle cx="1001.0" cy="677.8" r="14"/></g>
<g class="f"><circle cx="1938.0" cy="1330.0" r="14"/></g>
<g class="a"><circle cx="980.3" cy="833.1" r="14"/></g>
<g class="e"><circle cx="116.2" cy="1520.4" r="14"/></g>
<g class="m s"><circle cx="804.2" cy="1282.0" r="14"/></g>
<g class="a"><circle cx="976.6" cy="620.3" r="14"/></g>
<g class="m"><circle cx="818.4" cy="1312.5" r="14"/><circle cx="1222.0" cy="1212.7" r="14"/></g>
<g class="a s"><circle cx="978.1" cy="513.9" r="14"/></g>
<g class="d s"><circle cx="1588.9" cy="1318.4" r="14"/></g>
<g class="a"><circle cx="938.9" cy="299.4" r="14"/></g>
<g class="m"><circle cx="1245.8" cy="1297.4" r="14"/></g>
<g class="a s"><circle cx="951.0" cy="322.3" r="14"/></g>
<g class="m s"><circle cx="1310.7" cy="1363.5" r="14"/></g>
<g class="c s"><circle cx="476.0" cy="1437.7" r="14"/></g>
<g class="d"><circle cx="1809.8" cy="1333.5" r="14"/></g>
<g class="f"><circle cx="1975.0" cy="1417.3" r="14"/><circle cx="1973.6" cy="1448.2" r="14"/></g>
<g class="c s"><circle cx="479.2" cy="1398.2" r="14"/><circle cx="389.0" cy="1367.0" r="14"/></g>
<g class="m"><circle cx="860.8" cy="1268.1" r="14"/></g>
<g class="d"><circle cx="1758.3" cy="1403.9" r="14"/></g>
<g class="m"><circle cx="1356.2" cy="1270.9" r="14"/></g>
<g class="d"><circle cx="1844.7" cy="1383.0" r="14"/><circle cx="1785.7" cy="1326.5" r="14"/></g>
<g class="e"><circle cx="83.5" cy="1448.8" r="14"/></g>
<g class="a s"><circle cx="1003.6" cy="774.7" r="14"/></g>
<g class="d s"><circle cx="1822.8" cy="1404.0" r="14"/></g>
<g class="c"><circle cx="714.3" cy="1386.1" r="14"/><circle cx="218.5" cy="1442.1" r="14"/></g>
<g class="b s"><circle cx="1048.0" cy="923.0" r="14"/></g>
<g class="m s"><circle cx="1264.2" cy="1296.6" r="14"/></g>
<g class="d"><circle cx="1550.7" cy="1372.7" r="14"/></g>
<g class="m"><circle cx="1044.7" cy="1182.9" r="14"/></g>
<g class="f"><circle cx="1954.1" cy="1398.1" r="14"/></g>
<g class="d"><circle cx="1925.3" cy="1473.9" r="14"/></g>
<g class="b"><circle cx="1055.3" cy="947.0" r="14"/></g>
<g class="m"><circle cx="926.1" cy="1248.4" r="14"/></g>
<g class="m s"><circle cx="1017.1" cy="1275.6" r="14"/></g>
<g class="e s"><circle cx="65.0" cy="1467.4" r="14"/></g>
<g class="m"><circle cx="964.7" cy="1277.8" r="14"/></g>
<g class="a"><circle cx="944.2" cy="160.6" r="14"/></g>
<g class="c"><circle cx="446.5" cy="1429.3" r="14"/><circle cx="453.3" cy="1420.3" r="14"/></g>
<g class="b"><circle cx="1045.6" cy="952.4" r="14"/></g>
<g class="b s"><circle cx="1000.4" cy="1025.1" r="14"/></g>
<g class="a s"><circle cx="992.6" cy="895.8" r="14"/></g>
<g class="c s"><circle cx="606.8" cy="1426.8" r="14"/></g>
<g class="d s"><circle cx="1870.2" cy="1347.3" r="14"/></g>
<g class="m"><circle cx="834.9" cy="1342.1" r="14"/></g>
<g class="m s"><circle cx="1001.5" cy="1253.8" r="14"/></g>
<g class="d"><circle cx="1641.5" cy="1267.2" r="14"/></g>
<g class="a"><circle cx="975.3" cy="293.5" r="14"/></g>
<g class="e"><circle cx="97.7" cy="1408.8" r="14"/></g>
<g class="a"><circle cx="949.6" cy="155.7" r="14"/></g>
<g class="d"><circle cx="1565.2" cy="1383.3" r="14"/></g>
<g class="c"><circle cx="182.1" cy="1498.6" r="14"/></g>
<g class="c s"><circle cx="195.1" cy="1434.2" r="14"/></g>
<g class="a s"><circle cx="984.3" cy="788.8" r="14"/><circle cx="954.5" cy="506.5" r="14"/></g>
<g class="c s"><circle cx="68.8" cy="1420.6" r="14"/></g>
<g class="d s"><circle cx="1811.7" cy="1390.5" r="14"/></g>
<g class="m s"><circle cx="1211.0" cy="1291.5" r="14"/><circle cx="981.3" cy="1248.6" r="14"/></g>
<g class="b s"><circle cx="1011.2" cy="996.9" r="14"/></g>
<g class="d s"><circle cx="1664.3" cy="1345.1" r="14"/></g>
<g class="a s"><circle cx="927.0" cy="180.4" r="14"/></g>
<g class="m"><circle cx="1052.2" cy="1217.6" r="14"/></g>
<g class="d"><circle cx="1861.7" cy="1396.2" r="14"/></g>
<g class="f s"><circle cx="1972.7" cy="1402.2" r="14"/></g>
<g class="b"><circle cx="988.9" cy="1109.7" r="14"/></g>
<g class="d"><circle cx="1928.2" cy="1341.3" r="14"/></g>
<g class="a s"><circle cx="923.2" cy="431.4" r="14"/></g>
<g class="d"><circle cx="1609.6" cy="1389.2" r="14"/></g>
<g class="c"><circle cx="656.9" cy="1467.1" r="14"/></g>
<g class="m s"><circle cx="976.4" cy="1249.2" r="14"/></g>
<g class="d"><circle cx="1747.2" cy="1403.0" r="14"/><circle cx="1860.7" cy="1424.1" r="14"/></g>
<g class="a"><circle cx="977.0" cy="650.4" r="14"/></g>
<g class="d s"><circle cx="1642.4" cy="1314.3" r="14"/></g>
<g class="m s"><circle cx="787.5" cy="1306.8" r="14"/></g>
<g class="d s"><circle cx="1809.3" cy="1373.8" r="14"/></g>
<g class="b s"><circle cx="993.8" cy="999.7" r="14"/></g>
<g class="m s"><circle cx="1214.2" cy="1199.5" r="14"/></g>
<g class="a s"><circle cx="936.8" cy="349.5" r="14"/></g>
<g class="m"><circle cx="1075.5" cy="1132.1" r="14"/><circle cx="876.2" cy="1291.0" r="14"/></g>
<g class="d"><circle cx="1932.5" cy="1373.6" r="14"/></g>
<g class="m s"><circle cx="1030.2" cy="1250.9" r="14"/></g>
<g class="d s"><circle cx="1905.2" cy="1355.8" r="14"/></g>
<g class="m"><circle cx="1340.5" cy="1309.6" r="14"/></g>
<g class="d s"><circle cx="1592.3" cy="1347.7" r="14"/></g>
<g class="f s"><circle cx="2002.0" cy="1390.1" r="14"/></g>
<g class="m"><circle cx="1253.9" cy="1351.8" r="14"/></g>
<g class="a s"><circle cx="1000.2" cy="734.9" r="14"/></g>
<g class="m s"><circle cx="808.0" cy="1318.1" r="14"/></g>
<g class="f"><circle cx="1957.4" cy="1408.5" r="14"/></g>
<g class="e s"><circle cx="104.5" cy="1491.8" r="14"/></g>
<g class="e"><circle cx="92.3" cy="1384.3" r="14"/></g>
<g class="a"><circle cx="925.3" cy="177.9" r="14"/></g>
<g class="m s"><circle cx="1029.9" cy="1251.3" r="14"/></g>
<g class="d"><circle cx="1554.7" cy="1321.2" r="14"/><circle cx="1549.9" cy="1341.2" r="14"/><circle cx="1813.1" cy="1390.1" r="14"/></g>
<g class="m s"><circle cx="455.0" cy="1303.0" r="14"/></g>
<g class="c"><circle cx="361.2" cy="1512.9" r="14"/></g>
<g class="d s"><circle cx="1697.7" cy="1326.2" r="14"/></g>
<g class="m"><circle cx="1070.9" cy="1283.4" r="14"/></g>
<g class="c"><circle cx="485.1" cy="1467.8" r="14"/></g>
<g class="a"><circle cx="936.5" cy="174.2" r="14"/></g>
<g class="c s"><circle cx="366.3" cy="1447.8" r="14"/><circle cx="517.0" cy="1461.6" r="14"/></g>
<g class="a s"><circle cx="959.5" cy="359.2" r="14"/></g>
<g class="m s"><circle cx="886.1" cy="1352.3" r="14"/></g>
<g class="m"><circle cx="1170.0" cy="1299.6" r="14"/></g>
<g class="e"><circle cx="113.1" cy="1451.6" r="14"/></g>
<g class="d s"><circle cx="1823.7" cy="1405.0" r="14"/></g>
<g class="c"><circle cx="249.0" cy="1452.0" r="14"/></g>
<g class="m"><circle cx="1336.4" cy="1243.1" r="14"/></g>
<g class="m s"><circle cx="833.2" cy="1352.5" r="14"/></g>
<g class="f s"><circle cx="1950.4" cy="1433.9" r="14"/></g>
<g class="m"><circle cx="1187.3" cy="1249.4" r="14"/></g>
<g class="f"><circle cx="2000.6" cy="1361.1" r="14"/></g>
<g class="m"><circle cx="1314.7" cy="1248.6" r="14"/></g>
<g class="d s"><circle cx="1731.9" cy="1316.0" r="14"/></g>
<g class="m s"><circle cx="902.9" cy="1267.2" r="14"/></g>
<g class="a s"><circle cx="1006.0" cy="796.2" r="14"/></g>
<g class="c s"><circle cx="293.1" cy="1489.2" r="14"/></g>
<g class="m s"><circle cx="1103.1" cy="1273.6" r="14"/></g>
<g class="d s"><circle cx="1829.8" cy="1448.7" r="14"/></g>
<g class="a"><circle cx="983.0" cy="641.7" r="14"/><circle cx="990.7" cy="661.2" r="14"/></g>
<g class="b s"><circle cx="1017.1" cy="984.1" r="14"/></g>
<g class="e"><circle cx="102.9" cy="1478.4" r="14"/></g>
<g class="c s"><circle cx="643.0" cy="1448.5" r="14"/></g>
<g class="m s"><circle cx="841.4" cy="1364.3" r="14"/></g>
<g class="c"><circle cx="366.4" cy="1515.2" r="14"/></g>
<g class="a s"><circle cx="976.3" cy="558.0" r="14"/></g>
<g class="m s"><circle cx="910.3" cy="1266.9" r="14"/></g>
<g class="f s"><circle cx="1962.5" cy="1478.1" r="14"/></g>
<g class="a"><circle cx="943.8" cy="604.1" r="14"/></g>
<g class="c"><circle cx="638.4" cy="1418.1" r="14"/></g>
<g class="d"><circle cx="1609.3" cy="1357.5" r="14"/></g>
<g class="c"><circle cx="706.6" cy="1411.6" r="14"/></g>
<g class="m s"><circle cx="1069.3" cy="1164.8" r="14"/></g>
<g class="d"><circle cx="1589.4" cy="1349.9" r="14"/></g>
<g class="a s"><circle cx="972.8" cy="775.1" r="14"/></g>
<g class="d"><circle cx="1587.2" cy="1296.5" r="14"/></g>
<g class="m s"><circle cx="792.5" cy="1358.1" r="14"/></g>
<g class="b"><circle cx="1000.5" cy="994.3" r="14"/></g>
<g class="m"><circle cx="1181.7" cy="1238.4" r="14"/></g>
<g class="c s"><circle cx="624.6" cy="1425.6" r="14"/></g>
<g class="m s"><circle cx="1271.6" cy="1356.6" r="14"/></g>
<g class="a"><circle cx="897.5" cy="225.0" r="14"/></g>
<g class="a s"><circle cx="1002.2" cy="609.3" r="14"/></g>
<g class="d s"><circle cx="1762.0" cy="1242.0" r="14"/></g>
<g class="m s"><circle cx="793.3" cy="1313.2" r="14"/></g>
<g class="a s"><circle cx="942.2" cy="574.6" r="14"/></g>
<g class="m s"><circle cx="1391.7" cy="1317.0" r="14"/></g>
<g class="d s"><circle cx="1825.0" cy="1342.4" r="14"/></g>
<g class="c"><circle cx="278.2" cy="1462.5" r="14"/></g>
<g class="m"><circle cx="1310.9" cy="1230.4" r="14"/></g>
<g class="c"><circle cx="295.1" cy="1461.4" r="14"/></g>
<g class="m"><circle cx="1012.3" cy="1237.0" r="14"/></g>
<g class="m s"><circle cx="976.6" cy="1270.3" r="14"/><circle cx="1171.2" cy="1240.7" r="14"/><circle cx="1065.9" cy="1268.6" r="14"/></g>
<g class="d"><circle cx="1758.9" cy="1419.7" r="14"/></g>
<g class="d s"><circle cx="1390.9" cy="1309.2" r="14"/></g>
<g class="c"><circle cx="200.7" cy="1480.1" r="14"/></g>
<g class="b"><circle cx="1016.0" cy="926.9" r="14"/></g>
<g class="c s"><circle cx="281.5" cy="1395.0" r="14"/></g>
<g class="f s"><circle cx="1947.8" cy="1380.0" r="14"/></g>
<g class="f"><circle cx="1977.1" cy="1440.9" r="14"/></g>
<g class="m s"><circle cx="1346.4" cy="1275.5" r="14"/></g>
<g class="d"><circle cx="1797.6" cy="1326.1" r="14"/></g>
<g class="b s"><circle cx="997.4" cy="1068.4" r="14"/></g>
<g class="d s"><circle cx="1688.9" cy="1352.6" r="14"/></g>
<g class="a s"><circle cx="1009.2" cy="604.4" r="14"/></g>
<g class="d s"><circle cx="1655.0" cy="1340.8" r="14"/></g>
<g class="d"><circle cx="1884.2" cy="1462.9" r="14"/></g>
<g class="d s"><circle cx="1831.6" cy="1427.5" r="14"/></g>
<g class="f s"><circle cx="1950.8" cy="1495.8" r="14"/><circle cx="1966.6" cy="1386.4" r="14"/></g>
<g class="c s"><circle cx="474.7" cy="1417.6" r="14"/></g>
<g class="m s"><circle cx="920.8" cy="1272.6" r="14"/></g>
<g class="f"><circle cx="1969.4" cy="1399.2" r="14"/></g>
<g class="m s"><circle cx="801.4" cy="1328.4" r="14"/></g>
<g class="a"><circle cx="995.0" cy="696.1" r="14"/></g>
<g class="a s"><circle cx="1022.4" cy="893.3" r="14"/></g>
<g class="d"><circle cx="1596.5" cy="1295.5" r="14"/><circle cx="1872.6" cy="1453.3" r="14"/><circle cx="1572.8" cy="1390.4" r="14"/><circle cx="1862.0" cy="1456.4" r="14"/><circle cx="1627.9" cy="1341.9" r="14"/></g>
<g class="m"><circle cx="855.3" cy="1357.3" r="14"/></g>
<g class="d"><circle cx="1839.9" cy="1364.1" r="14"/></g>
<g class="d s"><circle cx="1851.8" cy="1390.5" r="14"/></g>
<g class="m s"><circle cx="883.7" cy="1237.4" r="14"/></g>
<g class="c"><circle cx="147.8" cy="1490.6" r="14"/></g>
<g class="a s"><circle cx="953.1" cy="311.5" r="14"/></g>
<g class="c s"><circle cx="638.5" cy="1410.8" r="14"/></g>
<g class="d s"><circle cx="1574.6" cy="1333.4" r="14"/><circle cx="1855.6" cy="1465.7" r="14"/></g>
<g class="m s"><circle cx="1336.2" cy="1254.9" r="14"/><circle cx="968.1" cy="1256.1" r="14"/></g>
<g class="d"><circle cx="1545.0" cy="1241.0" r="14"/></g>
<g class="f s"><circle cx="1978.0" cy="1414.1" r="14"/></g>
<g class="m s"><circle cx="1069.5" cy="1128.9" r="14"/><circle cx="825.0" cy="1269.0" r="14"/></g>
<g class="e"><circle cx="113.3" cy="1503.3" r="14"/></g>
<g class="a s"><circle cx="972.4" cy="476.3" r="14"/></g>
<g class="d s"><circle cx="1748.2" cy="1410.9" r="14"/></g>
<g class="c s"><circle cx="373.7" cy="1439.8" r="14"/></g>
<g class="m"><circle cx="1324.5" cy="1341.2" r="14"/></g>
<g class="a s"><circle cx="972.8" cy="622.7" r="14"/></g>
<g class="d"><circle cx="1822.7" cy="1363.8" r="14"/></g>
<g class="m"><circle cx="1139.6" cy="1234.3" r="14"/></g>
<g class="d s"><circle cx="1752.2" cy="1380.0" r="14"/></g>
<g class="m"><circle cx="1180.3" cy="1298.8" r="14"/></g>
<g class="m s"><circle cx="858.7" cy="1214.8" r="14"/></g>
<g class="c s"><circle cx="799.3" cy="1409.0" r="14"/></g>
<g class="d s"><circle cx="1937.0" cy="1363.0" r="14"/></g>
<g class="m s"><circle cx="1212.2" cy="1285.8" r="14"/></g>
<g class="c s"><circle cx="563.4" cy="1450.0" r="14"/></g>
<g class="d s"><circle cx="1853.2" cy="1331.7" r="14"/></g>
<g class="f"><circle cx="1949.3" cy="1338.1" r="14"/></g>
<g class="c"><circle cx="269.1" cy="1427.8" r="14"/></g>
<g class="d"><circle cx="1771.6" cy="1323.8" r="14"/><circle cx="1780.6" cy="1415.5" r="14"/></g>
<g class="m s"><circle cx="997.8" cy="1274.2" r="14"/></g>
<g class="d"><circle cx="1646.1" cy="1308.2" r="14"/></g>
<g class="e s"><circle cx="97.8" cy="1440.2" r="14"/></g>
<g class="c"><circle cx="752.0" cy="1387.3" r="14"/></g>
<g class="f s"><circle cx="1960.2" cy="1438.0" r="14"/></g>
<g class="b"><circle cx="1029.6" cy="966.9" r="14"/></g>
<g class="m s"><circle cx="1260.3" cy="1300.8" r="14"/></g>
<g class="d s"><circle cx="1861.7" cy="1313.7" r="14"/><circle cx="1575.4" cy="1360.8" r="14"/></g>
<g class="c s"><circle cx="670.9" cy="1411.9" r="14"/></g>
<g class="a s"><circle cx="962.0" cy="150.0" r="14"/></g>
<g class="m"><circle cx="1243.8" cy="1259.0" r="14"/></g>
<g class="a"><circle cx="966.6" cy="423.9" r="14"/></g>
<g class="e s"><circle cx="104.9" cy="1497.8" r="14"/></g>
<g class="m"><circle cx="953.1" cy="1330.4" r="14"/></g>
<g class="f"><circle cx="1978.3" cy="1367.4" r="14"/></g>
<g class="c s"><circle cx="672.2" cy="1425.4" r="14"/></g>
<g class="d"><circle cx="1833.5" cy="1415.8" r="14"/></g>
<g class="m"><circle cx="1013.2" cy="1309.9" r="14"/></g>
<g class="e s"><circle cx="95.4" cy="1380.8" r="14"/></g>
<g class="c s"><circle cx="801.0" cy="1420.3" r="14"/></g>
<g class="d"><circle cx="1930.0" cy="1412.0" r="14"/></g>
<g class="e"><circle cx="88.0" cy="1394.1" r="14"/></g>
<g class="a"><circle cx="1009.2" cy="848.7" r="14"/><circle cx="939.6" cy="159.7" r="14"/></g>
<g class="m s"><circle cx="1135.3" cy="1250.5" r="14"/></g>
<g class="b"><circle cx="1064.4" cy="1006.9" r="14"/></g>
<g class="c"><circle cx="795.6" cy="1398.6" r="14"/></g>
<g class="d s"><circle cx="1499.4" cy="1377.6" r="14"/><circle cx="1464.7" cy="1373.5" r="14"/><circle cx="1554.8" cy="1275.9" r="14"/></g>
<g class="f s"><circle cx="1960.7" cy="1373.3" r="14"/></g>
<g class="d"><circle cx="1766.3" cy="1346.4" r="14"/></g>
<g class="m"><circle cx="1005.7" cy="1109.7" r="14"/></g>
<g class="m s"><circle cx="843.8" cy="1227.8" r="14"/></g>
<g class="c"><circle cx="407.9" cy="1501.8" r="14"/></g>
<g class="d"><circle cx="1878.0" cy="1487.0" r="14"/></g>
<g class="a s"><circle cx="974.9" cy="849.8" r="14"/></g>
<g class="m"><circle cx="1063.4" cy="1241.3" r="14"/></g>
<g class="e"><circle cx="86.2" cy="1411.3" r="14"/></g>
<g class="d s"><circle cx="1763.6" cy="1424.3" r="14"/></g>
<g class="b"><circle cx="985.4" cy="1031.9" r="14"/></g>
<g class="c"><circle cx="704.8" cy="1458.2" r="14"/></g>
<g class="m s"><circle cx="971.5" cy="1307.5" r="14"/></g>
<g class="c"><circle cx="519.7" cy="1454.3" r="14"/></g>
<g class="a s"><circle cx="957.9" cy="623.5" r="14"/></g>
<g class="f"><circle cx="1989.9" cy="1348.2" r="14"/></g>
<g class="a s"><circle cx="953.0" cy="319.8" r="14"/></g>
<g class="d s"><circle cx="1633.3" cy="1321.4" r="14"/></g>
<g class="m"><circle cx="1044.9" cy="1210.0" r="14"/></g>
<g class="a s"><circle cx="949.0" cy="148.8" r="14"/></g>
<g class="d s"><circle cx="1869.6" cy="1393.7" r="14"/></g>
<g class="m s"><circle cx="1012.0" cy="1278.1" r="14"/></g>
<g class="d s"><circle cx="1844.7" cy="1323.5" r="14"/><circle cx="1837.3" cy="1414.1" r="14"/></g>
<g class="c s"><circle cx="589.0" cy="1399.3" r="14"/></g>
<g class="f s"><circle cx="1990.1" cy="1411.9" r="14"/></g>
<g class="d"><circle cx="1432.2" cy="1374.3" r="14"/></g>
<g class="m"><circle cx="1225.1" cy="1213.7" r="14"/></g>
<g class="a s"><circle cx="990.8" cy="835.2" r="14"/></g>
<g class="d s"><circle cx="1848.0" cy="1371.0" r="14"/></g>
<g class="m"><circle cx="1136.8" cy="1255.3" r="14"/></g>
<g class="d s"><circle cx="1909.4" cy="1418.0" r="14"/><circle cx="1735.1" cy="1399.8" r="14"/></g>
<g class="d"><circle cx="1932.0" cy="1473.0" r="14"/></g>
<g class="c"><circle cx="529.1" cy="1502.6" r="14"/></g>
<g class="m"><circle cx="816.5" cy="1258.6" r="14"/></g>
<g class="c s"><circle cx="260.6" cy="1422.3" r="14"/></g>
<g class="a"><circle cx="969.2" cy="373.6" r="14"/></g>
<g class="d s"><circle cx="1733.7" cy="1417.2" r="14"/></g>
<g class="c s"><circle cx="285.7" cy="1471.7" r="14"/><circle cx="68.8" cy="1465.3" r="14"/></g>
<g class="d"><circle cx="1665.0" cy="1370.3" r="14"/></g>
<g class="b s"><circle cx="1026.8" cy="907.4" r="14"/></g>
<g class="d"><circle cx="1602.6" cy="1347.3" r="14"/></g>
<g class="a"><circle cx="968.4" cy="360.1" r="14"/></g>
<g class="a s"><circle cx="996.2" cy="597.1" r="14"/></g>
<g class="m"><circle cx="1074.7" cy="1202.8" r="14"/><circle cx="1067.8" cy="1264.9" r="14"/></g>
<g class="m s"><circle cx="1214.8" cy="1281.5" r="14"/></g>
<g class="c s"><circle cx="300.0" cy="1424.9" r="14"/></g>
<g class="a"><circle cx="927.8" cy="331.2" r="14"/></g>
<g class="c"><circle cx="198.6" cy="1481.7" r="14"/></g>
<g class="m s"><circle cx="1076.8" cy="1162.4" r="14"/></g>
<g class="d"><circle cx="1888.6" cy="1355.1" r="14"/></g>
<g class="d s"><circle cx="1784.1" cy="1369.0" r="14"/></g>
<g class="m"><circle cx="953.1" cy="1247.5" r="14"/></g>
<g class="m s"><circle cx="1072.0" cy="1290.9" r="14"/></g>
<g class="m"><circle cx="1302.3" cy="1322.7" r="14"/></g>
<g class="a"><circle cx="949.6" cy="326.6" r="14"/></g>
<g class="f s"><circle cx="1996.5" cy="1454.5" r="14"/></g>
<g class="d"><circle cx="1627.0" cy="1306.1" r="14"/></g>
<g class="b"><circle cx="1036.2" cy="1081.1" r="14"/></g>
<g class="a s"><circle cx="1017.6" cy="848.9" r="14"/></g>
<g class="d"><circle cx="1633.9" cy="1366.8" r="14"/></g>
<g class="m s"><circle cx="1054.1" cy="1205.1" r="14"/></g>
<g class="c s"><circle cx="83.7" cy="1407.3" r="14"/><circle cx="358.1" cy="1492.8" r="14"/></g>
<g class="b"><circle cx="1044.3" cy="1024.2" r="14"/></g>
<g class="m"><circle cx="1272.8" cy="1283.2" r="14"/></g>
<g class="d s"><circle cx="1834.8" cy="1398.4" r="14"/></g>
<g class="b s"><circle cx="1029.9" cy="1009.6" r="14"/><circle cx="991.1" cy="1043.0" r="14"/></g>
<g class="a"><circle cx="903.9" cy="226.1" r="14"/></g>
<g class="m"><circle cx="1179.9" cy="1251.3" r="14"/></g>
<g class="m s"><circle cx="1070.0" cy="1281.8" r="14"/></g>
<g class="f"><circle cx="1949.7" cy="1474.1" r="14"/></g>
<g class="d"><circle cx="1733.9" cy="1298.9" r="14"/></g>
<g class="m"><circle cx="1022.2" cy="1126.4" r="14"/></g>
<g class="a s"><circle cx="990.6" cy="624.7" r="14"/><circle cx="970.3" cy="329.3" r="14"/></g>
<g class="m s"><circle cx="1089.0" cy="1213.1" r="14"/></g>
<g class="d s"><circle cx="1822.6" cy="1433.6" r="14"/></g>
<g class="m"><circle cx="961.0" cy="1412.0" r="14"/><circle cx="804.7" cy="1363.1" r="14"/></g>
<g class="a"><circle cx="976.4" cy="870.4" r="14"/></g>
<g class="d s"><circle cx="1658.7" cy="1335.4" r="14"/></g>
<g class="d"><circle cx="1576.0" cy="1305.9" r="14"/></g>
<g class="b"><circle cx="1029.5" cy="939.2" r="14"/><circle cx="988.5" cy="1069.6" r="14"/></g>
<g class="d s"><circle cx="1902.1" cy="1464.1" r="14"/></g>
<g class="a"><circle cx="911.1" cy="195.9" r="14"/></g>
<g class="a s"><circle cx="958.9" cy="475.3" r="14"/></g>
<g class="d s"><circle cx="1861.0" cy="1415.7" r="14"/><circle cx="1720.4" cy="1341.4" r="14"/></g>
<g class="b s"><circle cx="1038.5" cy="989.0" r="14"/></g>
<g class="b"><circle cx="1001.0" cy="1068.8" r="14"/><circle cx="1001.2" cy="968.4" r="14"/></g>
<g class="e"><circle cx="111.5" cy="1529.9" r="14"/></g>
<g class="b"><circle cx="1000.0" cy="1048.1" r="14"/></g>
<g class="d"><circle cx="1602.5" cy="1302.6" r="14"/></g>
<g class="a s"><circle cx="975.1" cy="560.6" r="14"/></g>
<g class="m"><circle cx="960.1" cy="1252.3" r="14"/></g>
<g class="m s"><circle cx="1114.2" cy="1265.0" r="14"/></g>
<g class="a s"><circle cx="964.7" cy="147.7" r="14"/></g>
<g class="m"><circle cx="992.0" cy="1196.3" r="14"/></g>
<g class="a s"><circle cx="968.4" cy="766.7" r="14"/></g>
<g class="m s"><circle cx="1361.4" cy="1323.0" r="14"/><circle cx="950.4" cy="1341.7" r="14"/></g>
<g class="c"><circle cx="758.4" cy="1363.3" r="14"/></g>
<g class="d"><circle cx="1576.5" cy="1376.5" r="14"/></g>
<g class="m s"><circle cx="985.9" cy="1286.1" r="14"/></g>
<g class="a s"><circle cx="956.1" cy="678.9" r="14"/></g>
<g class="c"><circle cx="464.6" cy="1391.1" r="14"/></g>
<g class="a"><circle cx="974.4" cy="670.3" r="14"/></g>
<g class="a s"><circle cx="949.5" cy="453.4" r="14"/></g>
<g class="d s"><circle cx="1803.0" cy="1454.8" r="14"/></g>
<g class="c s"><circle cx="443.9" cy="1463.0" r="14"/></g>
<g class="m s"><circle cx="1334.9" cy="1375.1" r="14"/></g>
<g class="d"><circle cx="1854.4" cy="1441.9" r="14"/></g>
<g class="a s"><circle cx="920.5" cy="204.0" r="14"/></g>
<g class="m s"><circle cx="1062.4" cy="1198.2" r="14"/></g>
<g class="d s"><circle cx="1421.3" cy="1366.2" r="14"/><circle cx="1814.0" cy="1332.1" r="14"/></g>
<g class="m"><circle cx="952.8" cy="1247.2" r="14"/></g>
<g class="c"><circle cx="352.3" cy="1428.1" r="14"/></g>
<g class="m"><circle cx="1044.4" cy="1205.5" r="14"/><circle cx="1061.0" cy="1154.8" r="14"/></g>
<g class="a"><circle cx="955.5" cy="481.7" r="14"/></g>
<g class="a s"><circle cx="936.2" cy="544.3" r="14"/></g>
<g class="e"><circle cx="108.9" cy="1460.1" r="14"/></g>
<g class="m"><circle cx="1346.5" cy="1388.0" r="14"/></g>
<g class="a s"><circle cx="1011.6" cy="899.0" r="14"/></g>
<g class="d s"><circle cx="1522.7" cy="1349.8" r="14"/></g>
<g class="m s"><circle cx="1253.9" cy="1237.7" r="14"/></g>
<g class="f"><circle cx="1950.6" cy="1419.3" r="14"/></g>
<g class="a"><circle cx="949.9" cy="146.8" r="14"/></g>
<g class="m"><circle cx="1261.8" cy="1278.8" r="14"/></g>
<g class="m s"><circle cx="1252.9" cy="1215.1" r="14"/></g>
<g class="m"><circle cx="1243.6" cy="1237.0" r="14"/></g>
<g class="f"><circle cx="1961.9" cy="1509.2" r="14"/></g>
<g class="m s"><circle cx="1457.6" cy="1324.3" r="14"/></g>
<g class="d s"><circle cx="1520.5" cy="1326.0" r="14"/></g>
<g class="m s"><circle cx="1186.5" cy="1288.9" r="14"/></g>
<g class="a s"><circle cx="955.6" cy="410.9" r="14"/></g>
<g class="c s"><circle cx="137.0" cy="1519.1" r="14"/><circle cx="644.2" cy="1429.7" r="14"/></g>
<g class="b s"><circle cx="986.7" cy="991.3" r="14"/></g>
<g class="d s"><circle cx="1833.9" cy="1335.3" r="14"/></g>
<g class="c"><circle cx="465.0" cy="1472.0" r="14"/><circle cx="547.4" cy="1433.0" r="14"/><circle cx="739.4" cy="1380.5" r="14"/></g>
<g class="a s"><circle cx="935.7" cy="497.4" r="14"/></g>
<g class="d s"><circle cx="1888.7" cy="1392.3" r="14"/></g>
<g class="m s"><circle cx="888.0" cy="1243.5" r="14"/></g>
<g class="c s"><circle cx="293.8" cy="1423.8" r="14"/></g>
<g class="a"><circle cx="943.0" cy="154.6" r="14"/><circle cx="943.9" cy="282.3" r="14"/></g>
<g class="m"><circle cx="1024.2" cy="1204.5" r="14"/></g>
<g class="d s"><circle cx="1571.2" cy="1299.3" r="14"/></g>
<g class="m"><circle cx="999.9" cy="1302.7" r="14"/></g>
<g class="b s"><circle cx="1039.7" cy="964.8" r="14"/></g>
<g class="m"><circle cx="964.3" cy="1289.2" r="14"/><circle cx="1000.1" cy="1219.7" r="14"/></g>
<g class="c"><circle cx="174.5" cy="1467.1" r="14"/></g>
<g class="m s"><circle cx="1055.1" cy="1220.7" r="14"/><circle cx="1242.6" cy="1304.9" r="14"/></g>
<g class="c s"><circle cx="224.3" cy="1444.3" r="14"/></g>
<g class="a"><circle cx="966.6" cy="348.6" r="14"/></g>
<g class="m"><circle cx="914.8" cy="1241.8" r="14"/><circle cx="1316.1" cy="1349.6" r="14"/></g>
<g class="c"><circle cx="352.4" cy="1413.1" r="14"/></g>
<g class="a"><circle cx="984.7" cy="572.4" r="14"/><circle cx="952.2" cy="556.5" r="14"/></g>
<g class="d s"><circle cx="1676.2" cy="1321.0" r="14"/></g>
<g class="m s"><circle cx="1057.2" cy="1285.5" r="14"/></g>
<g class="d"><circle cx="1849.0" cy="1399.1" r="14"/></g>
<g class="m"><circle cx="1246.4" cy="1201.9" r="14"/></g>
<g class="a s"><circle cx="962.4" cy="154.3" r="14"/></g>
<g class="b s"><circle cx="987.8" cy="1000.7" r="14"/></g>
<g class="m"><circle cx="982.7" cy="1130.3" r="14"/></g>
<g class="f s"><circle cx="1955.0" cy="1471.6" r="14"/></g>
<g class="b s"><circle cx="990.2" cy="917.6" r="14"/></g>
<g class="m"><circle cx="865.3" cy="1305.8" r="14"/></g>
<g class="c"><circle cx="720.6" cy="1382.4" r="14"/><circle cx="171.7" cy="1483.3" r="14"/><circle cx="522.0" cy="1442.5" r="14"/></g>
<g class="m s"><circle cx="844.1" cy="1304.4" r="14"/></g>
<g class="m"><circle cx="1299.3" cy="1292.4" r="14"/></g>
<g class="m s"><circle cx="1019.0" cy="1315.5" r="14"/></g>
<g class="c s"><circle cx="198.3" cy="1423.7" r="14"/></g>
<g class="m"><circle cx="1015.0" cy="1383.0" r="14"/></g>
<g class="m s"><circle cx="1095.5" cy="1233.0" r="14"/></g>
<g class="c"><circle cx="735.9" cy="1410.7" r="14"/></g>
<g class="c s"><circle cx="289.5" cy="1509.9" r="14"/></g>
<g class="d"><circle cx="1827.1" cy="1324.3" r="14"/><circle cx="1846.0" cy="1424.7" r="14"/></g>
<g class="a"><circle cx="1012.6" cy="852.4" r="14"/></g>
<g class="d s"><circle cx="1898.4" cy="1391.0" r="14"/></g>
<g class="m"><circle cx="1360.5" cy="1337.4" r="14"/></g>
<g class="d s"><circle cx="1779.2" cy="1355.1" r="14"/></g>
<g class="c s"><circle cx="149.9" cy="1483.1" r="14"/></g>
<g class="a s"><circle cx="953.6" cy="477.8" r="14"/></g>
<g class="b s"><circle cx="1001.5" cy="959.6" r="14"/></g>
<g class="m"><circle cx="1046.0" cy="1172.9" r="14"/></g>
<g class="c"><circle cx="768.6" cy="1364.1" r="14"/></g>
<g class="m"><circle cx="960.2" cy="1194.5" r="14"/></g>
<g class="a"><circle cx="934.6" cy="194.6" r="14"/></g>
<g class="a s"><circle cx="986.9" cy="662.8" r="14"/></g>
<g class="m"><circle cx="1033.4" cy="1098.1" r="14"/></g>
<g class="b s"><circle cx="963.2" cy="1035.5" r="14"/></g>
<g class="m s"><circle cx="999.4" cy="1269.3" r="14"/></g>
<g class="f s"><circle cx="1981.8" cy="1466.5" r="14"/></g>
<g class="m"><circle cx="1085.0" cy="1157.5" r="14"/></g>
<g class="d s"><circle cx="1828.6" cy="1388.1" r="14"/></g>
<g class="a s"><circle cx="952.3" cy="297.8" r="14"/></g>
<g class="m"><circle cx="788.3" cy="1321.2" r="14"/></g>
<g class="m s"><circle cx="636.7" cy="1341.0" r="14"/></g>
<g class="m"><circle cx="864.1" cy="1315.6" r="14"/></g>
<g class="b s"><circle cx="995.2" cy="1066.0" r="14"/></g>
<g class="f"><circle cx="1962.6" cy="1430.4" r="14"/></g>
<g class="m s"><circle cx="1315.8" cy="1246.0" r="14"/></g>
<g class="d"><circle cx="1630.3" cy="1295.1" r="14"/></g>
<g class="m"><circle cx="1028.1" cy="1048.6" r="14"/></g>
<g class="c"><circle cx="773.1" cy="1375.6" r="14"/></g>
<g class="a"><circle cx="917.6" cy="207.2" r="14"/></g>
<g class="b"><circle cx="1046.1" cy="982.5" r="14"/></g>
<g class="m"><circle cx="987.7" cy="1253.6" r="14"/></g>
<g class="m s"><circle cx="967.1" cy="1308.8" r="14"/></g>
<g class="m"><circle cx="941.4" cy="1243.8" r="14"/></g>
<g class="a"><circle cx="989.5" cy="804.9" r="14"/></g>
<g class="f"><circle cx="1972.5" cy="1391.4" r="14"/></g>
<g class="c s"><circle cx="338.8" cy="1525.8" r="14"/></g>
<g class="f s"><circle cx="1938.3" cy="1434.0" r="14"/></g>
<g class="m"><circle cx="1007.8" cy="1125.1" r="14"/></g>
<g class="d s"><circle cx="1850.0" cy="1462.9" r="14"/></g>
<g class="m s"><circle cx="967.9" cy="1232.6" r="14"/></g>
<g class="m"><circle cx="847.4" cy="1299.6" r="14"/></g>
<g class="a s"><circle cx="978.6" cy="484.4" r="14"/></g>
<g class="m"><circle cx="800.6" cy="1298.5" r="14"/><circle cx="905.4" cy="1213.8" r="14"/></g>
<g class="a"><circle cx="954.9" cy="622.2" r="14"/></g>
<g class="m"><circle cx="908.5" cy="1293.5" r="14"/></g>
<g class="c"><circle cx="172.8" cy="1439.2" r="14"/></g>
<g class="f s"><circle cx="1941.1" cy="1390.2" r="14"/></g>
<g class="c"><circle cx="437.8" cy="1437.5" r="14"/></g>
<g class="e"><circle cx="111.9" cy="1362.4" r="14"/></g>
<g class="a s"><circle cx="956.0" cy="294.8" r="14"/></g>
<g class="c"><circle cx="541.0" cy="1437.1" r="14"/></g>
<g class="c s"><circle cx="553.7" cy="1426.7" r="14"/></g>
<g class="a"><circle cx="941.8" cy="426.4" r="14"/></g>
<g class="d s"><circle cx="1686.6" cy="1380.3" r="14"/></g>
<g class="a s"><circle cx="1015.2" cy="880.5" r="14"/></g>
<g class="f s"><circle cx="1998.9" cy="1424.0" r="14"/></g>
<g class="d s"><circle cx="1485.6" cy="1381.9" r="14"/></g>
<g class="m"><circle cx="1066.3" cy="1208.0" r="14"/></g>
<g class="m s"><circle cx="927.0" cy="1305.8" r="14"/></g>
<g class="d s"><circle cx="1907.4" cy="1370.2" r="14"/></g>
<g class="a"><circle cx="995.0" cy="628.1" r="14"/></g>
<g class="m s"><circle cx="963.5" cy="1252.0" r="14"/></g>
<g class="m"><circle cx="1225.3" cy="1288.5" r="14"/></g>
<g class="c"><circle cx="149.8" cy="1482.3" r="14"/><circle cx="215.0" cy="1378.0" r="14"/></g>
<g class="e"><circle cx="105.9" cy="1505.8" r="14"/></g>
<g class="d s"><circle cx="1723.5" cy="1375.4" r="14"/></g>
<g class="d"><circle cx="1730.9" cy="1322.1" r="14"/></g>
<g class="a s"><circle cx="931.6" cy="161.1" r="14"/></g>
<g class="m"><circle cx="1014.3" cy="1280.6" r="14"/></g>
<g class="d s"><circle cx="1796.6" cy="1357.8" r="14"/></g>
<g class="m"><circle cx="992.9" cy="1123.7" r="14"/><circle cx="983.2" cy="1220.5" r="14"/></g>
<g class="c"><circle cx="727.0" cy="1426.1" r="14"/></g>
<g class="a"><circle cx="989.1" cy="889.8" r="14"/></g>
<g class="d"><circle cx="1772.6" cy="1397.2" r="14"/></g>
<g class="a s"><circle cx="962.1" cy="423.6" r="14"/></g>
<g class="m s"><circle cx="1190.9" cy="1269.0" r="14"/></g>
<g class="d"><circle cx="1848.7" cy="1430.5" r="14"/></g>
<g class="a s"><circle cx="947.7" cy="624.4" r="14"/></g>
<g class="e"><circle cx="89.5" cy="1426.6" r="14"/></g>
<g class="m"><circle cx="1051.0" cy="1311.8" r="14"/></g>
<g class="d"><circle cx="1852.5" cy="1455.8" r="14"/></g>
<g class="c"><circle cx="375.1" cy="1504.0" r="14"/></g>
<g class="b s"><circle cx="1054.7" cy="943.5" r="14"/></g>
<g class="c s"><circle cx="117.4" cy="1490.0" r="14"/></g>
<g class="c"><circle cx="158.2" cy="1482.4" r="14"/><circle cx="611.8" cy="1391.3" r="14"/></g>
<g class="d"><circle cx="1723.8" cy="1311.0" r="14"/></g>
<g class="c"><circle cx="163.6" cy="1490.9" r="14"/></g>
<g class="a"><circle cx="980.7" cy="901.7" r="14"/></g>
<g class="a s"><circle cx="962.5" cy="462.0" r="14"/></g>
<g class="f s"><circle cx="1966.5" cy="1380.8" r="14"/></g>
<g class="a s"><circle cx="936.3" cy="382.7" r="14"/></g>
<g class="m"><circle cx="1286.3" cy="1346.6" r="14"/><circle cx="1022.1" cy="1169.7" r="14"/></g>
<g class="m s"><circle cx="1293.6" cy="1296.3" r="14"/></g>
<g class="d"><circle cx="1605.4" cy="1299.6" r="14"/></g>
<g class="m"><circle cx="899.6" cy="1253.2" r="14"/></g>
<g class="a s"><circle cx="1006.9" cy="678.6" r="14"/></g>
<g class="m s"><circle cx="1186.0" cy="1274.8" r="14"/></g>
<g class="f s"><circle cx="1955.8" cy="1472.7" r="14"/></g>
<g class="a"><circle cx="979.2" cy="798.9" r="14"/></g>
<g class="m"><circle cx="1051.0" cy="1207.5" r="14"/></g>
<g class="c"><circle cx="168.0" cy="1517.0" r="14"/></g>
<g class="f s"><circle cx="1968.4" cy="1411.4" r="14"/></g>
<g class="m s"><circle cx="1272.3" cy="1233.1" r="14"/></g>
<g class="d"><circle cx="1689.8" cy="1363.9" r="14"/></g>
<g class="m"><circle cx="1110.1" cy="1227.5" r="14"/><circle cx="1143.2" cy="1225.2" r="14"/></g>
<g class="f s"><circle cx="1958.0" cy="1374.1" r="14"/></g>
<g class="a"><circle cx="960.8" cy="355.4" r="14"/></g>
<g class="d"><circle cx="1854.9" cy="1358.6" r="14"/></g>
<g class="d s"><circle cx="1684.3" cy="1356.5" r="14"/></g>
<g class="a s"><circle cx="996.7" cy="720.0" r="14"/></g>
<g class="m"><circle cx="993.5" cy="1091.2" r="14"/></g>
<g class="c"><circle cx="398.6" cy="1444.8" r="14"/></g>
<g class="f s"><circle cx="1979.0" cy="1511.4" r="14"/></g>
<g class="d"><circle cx="1890.3" cy="1346.4" r="14"/></g>
<g class="f s"><circle cx="1945.9" cy="1465.3" r="14"/></g>
<g class="m s"><circle cx="991.7" cy="1357.7" r="14"/><circle cx="1065.6" cy="1096.6" r="14"/><circle cx="1333.6" cy="1339.9" r="14"/></g>
<g class="a s"><circle cx="932.4" cy="186.9" r="14"/></g>
<g class="d s"><circle cx="1753.1" cy="1418.6" r="14"/></g>
<g class="d"><circle cx="1702.4" cy="1324.9" r="14"/></g>
<g class="c s"><circle cx="496.9" cy="1404.3" r="14"/></g>
<g class="m"><circle cx="787.7" cy="1270.2" r="14"/></g>
<g class="d"><circle cx="1522.6" cy="1327.2" r="14"/></g>
<g class="m s"><circle cx="1284.0" cy="1286.4" r="14"/></g>
<g class="e s"><circle cx="160.0" cy="1360.0" r="14"/></g>
<g class="m"><circle cx="813.3" cy="1361.5" r="14"/></g>
<g class="a s"><circle cx="938.5" cy="496.2" r="14"/></g>
<g class="m s"><circle cx="816.2" cy="1295.1" r="14"/></g>
<g class="m"><circle cx="786.2" cy="1273.1" r="14"/></g>
<g class="a"><circle cx="925.0" cy="142.0" r="14"/></g>
<g class="m s"><circle cx="1002.4" cy="1328.1" r="14"/></g>
<g class="d s"><circle cx="1765.7" cy="1362.3" r="14"/></g>
<g class="d"><circle cx="1685.1" cy="1382.6" r="14"/><circle cx="1664.0" cy="1369.5" r="14"/></g>
<g class="d s"><circle cx="1731.4" cy="1314.0" r="14"/></g>
<g class="m s"><circle cx="1009.7" cy="1152.4" r="14"/></g>
<g class="a s"><circle cx="1002.1" cy="868.8" r="14"/></g>
<g class="b"><circle cx="991.8" cy="1044.1" r="14"/></g>
<g class="a s"><circle cx="994.2" cy="894.0" r="14"/></g>
<g class="d s"><circle cx="1845.5" cy="1468.6" r="14"/></g>
<g class="d"><circle cx="1650.3" cy="1331.7" r="14"/></g>
<g class="m s"><circle cx="997.1" cy="1179.6" r="14"/></g>
<g class="c s"><circle cx="639.3" cy="1404.3" r="14"/></g>
<g class="m s"><circle cx="965.8" cy="1186.0" r="14"/></g>
<g class="f"><circle cx="1988.0" cy="1390.6" r="14"/></g>
<g class="a s"><circle cx="989.5" cy="901.0" r="14"/></g>
<g class="f"><circle cx="1982.2" cy="1361.1" r="14"/></g>
<g class="m"><circle cx="1141.5" cy="1303.1" r="14"/></g>
<g class="m s"><circle cx="1118.5" cy="1191.7" r="14"/></g>
<g class="a s"><circle cx="990.9" cy="804.9" r="14"/></g>
<g class="b"><circle cx="1057.1" cy="967.1" r="14"/></g>
<g class="e"><circle cx="107.1" cy="1491.0" r="14"/></g>
<g class="d s"><circle cx="1797.1" cy="1426.9" r="14"/></g>
<g class="m"><circle cx="1008.3" cy="1063.0" r="14"/></g>
<g class="c"><circle cx="483.1" cy="1466.1" r="14"/></g>
<g class="a"><circle cx="931.5" cy="161.7" r="14"/></g>
<g class="m"><circle cx="780.7" cy="1382.1" r="14"/></g>
<g class="c s"><circle cx="469.0" cy="1364.0" r="14"/></g>
<g class="a"><circle cx="1001.9" cy="841.5" r="14"/><circle cx="940.6" cy="171.8" r="14"/></g>
<g class="b"><circle cx="1036.5" cy="930.3" r="14"/></g>
<g class="c s"><circle cx="761.0" cy="1436.3" r="14"/></g>
<g class="a s"><circle cx="982.0" cy="716.0" r="14"/></g>
<g class="d s"><circle cx="1773.1" cy="1459.1" r="14"/></g>
<g class="a s"><circle cx="944.7" cy="612.0" r="14"/></g>
<g class="b"><circle cx="1012.6" cy="1015.5" r="14"/></g>
<g class="m s"><circle cx="974.2" cy="1121.4" r="14"/></g>
<g class="f s"><circle cx="1961.9" cy="1465.3" r="14"/><circle cx="1956.1" cy="1442.1" r="14"/></g>
<g class="m"><circle cx="857.7" cy="1239.2" r="14"/></g>
<g class="m s"><circle cx="1253.4" cy="1215.2" r="14"/></g>
<g class="b s"><circle cx="1045.1" cy="1061.5" r="14"/></g>
<g class="d"><circle cx="1428.3" cy="1314.3" r="14"/></g>
<g class="m s"><circle cx="995.9" cy="1212.1" r="14"/></g>
<g class="c"><circle cx="714.7" cy="1420.1" r="14"/></g>
<g class="m"><circle cx="1368.1" cy="1313.1" r="14"/></g>
<g class="m s"><circle cx="940.0" cy="1273.3" r="14"/></g>
<g class="a s"><circle cx="954.3" cy="298.7" r="14"/></g>
<g class="m"><circle cx="1257.9" cy="1298.3" r="14"/></g>
<g class="a"><circle cx="933.3" cy="443.8" r="14"/></g>
<g class="d"><circle cx="1883.8" cy="1414.5" r="14"/></g>
<g class="m"><circle cx="1170.4" cy="1227.3" r="14"/></g>
<g class="c"><circle cx="710.6" cy="1386.6" r="14"/></g>
<g class="e"><circle cx="109.5" cy="1488.9" r="14"/></g>
<g class="a"><circle cx="975.6" cy="807.1" r="14"/></g>
<g class="d s"><circle cx="1594.3" cy="1361.6" r="14"/></g>
<g class="m s"><circle cx="971.6" cy="1298.2" r="14"/></g>
<g class="m"><circle cx="1287.3" cy="1366.3" r="14"/><circle cx="1024.6" cy="1200.8" r="14"/></g>
<g class="d"><circle cx="1505.8" cy="1316.4" r="14"/></g>
<g class="m s"><circle cx="1062.3" cy="1166.4" r="14"/><circle cx="1234.3" cy="1267.2" r="14"/></g>
<g class="a"><circle cx="976.4" cy="707.0" r="14"/></g>
<g class="c s"><circle cx="596.9" cy="1470.7" r="14"/></g>
<g class="m"><circle cx="1058.1" cy="1076.4" r="14"/></g>
<g class="f"><circle cx="1955.2" cy="1459.8" r="14"/></g>
<g class="a s"><circle cx="997.4" cy="656.7" r="14"/></g>
<g class="c"><circle cx="598.1" cy="1465.4" r="14"/></g>
<g class="a"><circle cx="966.2" cy="472.0" r="14"/><circle cx="966.5" cy="530.1" r="14"/></g>
<g class="f s"><circle cx="1948.4" cy="1443.0" r="14"/></g>
<g class="c s"><circle cx="661.4" cy="1373.9" r="14"/></g>
<g class="b s"><circle cx="1022.3" cy="932.1" r="14"/></g>
<g class="d s"><circle cx="1903.5" cy="1387.0" r="14"/></g>
<g class="d"><circle cx="1527.0" cy="1263.0" r="14"/></g>
<g class="a"><circle cx="950.1" cy="150.1" r="14"/></g>
<g class="d"><circle cx="1502.7" cy="1356.0" r="14"/></g>
<g class="a s"><circle cx="948.6" cy="507.5" r="14"/></g>
<g class="b"><circle cx="1029.1" cy="932.1" r="14"/></g>
<g class="e s"><circle cx="100.5" cy="1368.1" r="14"/></g>
<g class="c"><circle cx="294.2" cy="1415.0" r="14"/></g>
<g class="m s"><circle cx="1161.7" cy="1254.3" r="14"/></g>
<g class="a s"><circle cx="953.4" cy="524.0" r="14"/></g>
<g class="b s"><circle cx="1005.1" cy="989.0" r="14"/></g>
<g class="m s"><circle cx="974.4" cy="1224.5" r="14"/></g>
<g class="m"><circle cx="1044.5" cy="1216.1" r="14"/></g>
<g class="d"><circle cx="1911.4" cy="1450.9" r="14"/></g>
<g class="f s"><circle cx="1964.9" cy="1500.4" r="14"/></g>
<g class="f"><circle cx="1978.5" cy="1364.1" r="14"/></g>
<g class="m s"><circle cx="873.4" cy="1234.1" r="14"/><circle cx="953.4" cy="1205.2" r="14"/><circle cx="1072.8" cy="1202.3" r="14"/></g>
<g class="c"><circle cx="126.8" cy="1434.4" r="14"/></g>
<g class="m"><circle cx="1283.5" cy="1257.1" r="14"/></g>
<g class="c"><circle cx="456.5" cy="1424.8" r="14"/></g>
<g class="d s"><circle cx="1945.0" cy="1510.0" r="14"/></g>
<g class="d"><circle cx="1642.7" cy="1311.6" r="14"/></g>
<g class="a"><circle cx="963.9" cy="626.1" r="14"/></g>
<g class="c s"><circle cx="133.5" cy="1440.9" r="14"/></g>
<g class="f s"><circle cx="1966.1" cy="1438.0" r="14"/></g>
<g class="d s"><circle cx="1883.1" cy="1410.4" r="14"/></g>
<g class="a"><circle cx="953.3" cy="547.3" r="14"/></g>
<g class="c s"><circle cx="464.2" cy="1465.2" r="14"/></g>
<g class="m"><circle cx="1170.9" cy="1210.3" r="14"/><circle cx="1244.8" cy="1296.6" r="14"/></g>
<g class="a s"><circle cx="981.4" cy="383.9" r="14"/></g>
<g class="m"><circle cx="990.5" cy="1331.1" r="14"/></g>
<g class="d"><circle cx="1400.0" cy="1290.0" r="14"/></g>
<g class="d s"><circle cx="1869.5" cy="1482.9" r="14"/></g>
<g class="d"><circle cx="1620.4" cy="1341.9" r="14"/></g>
<g class="m"><circle cx="1214.0" cy="1215.8" r="14"/></g>
<g class="f s"><circle cx="1947.3" cy="1386.9" r="14"/></g>
<g class="c"><circle cx="659.7" cy="1415.9" r="14"/></g>
<g class="m s"><circle cx="1041.0" cy="1204.8" r="14"/><circle cx="986.6" cy="1236.9" r="14"/></g>
<g class="a"><circle cx="950.3" cy="161.0" r="14"/></g>
<g class="a s"><circle cx="967.5" cy="495.6" r="14"/></g>
<g class="a"><circle cx="931.8" cy="181.9" r="14"/></g>
<g class="m"><circle cx="1079.9" cy="1208.9" r="14"/><circle cx="1027.4" cy="1252.9" r="14"/></g>
<g class="a"><circle cx="969.5" cy="322.7" r="14"/></g>
<g class="f"><circle cx="1969.8" cy="1428.8" r="14"/></g>
<g class="b"><circle cx="975.3" cy="1032.2" r="14"/></g>
<g class="m"><circle cx="1090.1" cy="1140.3" r="14"/></g>
<g class="b"><circle cx="1036.0" cy="1022.9" r="14"/></g>
<g class="f s"><circle cx="1980.2" cy="1375.7" r="14"/></g>
<g class="a"><circle cx="969.0" cy="587.4" r="14"/></g>
<g class="b s"><circle cx="1038.2" cy="955.1" r="14"/></g>
<g class="a s"><circle cx="989.6" cy="722.3" r="14"/></g>
<g class="c"><circle cx="570.1" cy="1406.0" r="14"/></g>
<g class="a"><circle cx="962.7" cy="142.4" r="14"/></g>
<g class="b"><circle cx="994.2" cy="1026.0" r="14"/></g>
<g class="a s"><circle cx="962.4" cy="397.1" r="14"/></g>
<g class="m"><circle cx="1272.6" cy="1153.0" r="14"/></g>
<g class="m s"><circle cx="1033.6" cy="1200.9" r="14"/></g>
<g class="d"><circle cx="1910.3" cy="1473.3" r="14"/></g>
<g class="m s"><circle cx="658.0" cy="1297.0" r="14"/></g>
<g class="b"><circle cx="977.6" cy="964.9" r="14"/></g>
<g class="c s"><circle cx="577.7" cy="1469.3" r="14"/></g>
<g class="c"><circle cx="544.4" cy="1416.6" r="14"/></g>
<g class="d s"><circle cx="1584.4" cy="1348.5" r="14"/></g>
<g class="m"><circle cx="868.1" cy="1310.8" r="14"/></g>
<g class="a"><circle cx="968.2" cy="394.4" r="14"/></g>
<g class="d"><circle cx="1708.3" cy="1357.8" r="14"/></g>
<g class="f"><circle cx="1991.3" cy="1386.7" r="14"/></g>
<g class="d s"><circle cx="1877.7" cy="1438.4" r="14"/><circle cx="1722.7" cy="1403.4" r="14"/><circle cx="1757.4" cy="1336.4" r="14"/></g>
<g class="m"><circle cx="889.1" cy="1296.5" r="14"/></g>
<g class="c"><circle cx="154.4" cy="1498.8" r="14"/></g>
<g class="m"><circle cx="865.9" cy="1297.6" r="14"/></g>
<g class="e s"><circle cx="107.8" cy="1495.7" r="14"/></g>
<g class="m"><circle cx="1017.9" cy="1199.1" r="14"/></g>
<g class="c"><circle cx="145.0" cy="1568.0" r="14"/></g>
<g class="f"><circle cx="1992.5" cy="1469.7" r="14"/></g>
<g class="e s"><circle cx="103.4" cy="1393.6" r="14"/></g>
<g class="e"><circle cx="107.8" cy="1373.9" r="14"/></g>
<g class="f"><circle cx="1954.0" cy="1414.1" r="14"/></g>
<g class="m s"><circle cx="1192.3" cy="1227.2" r="14"/></g>
<g class="d s"><circle cx="1753.3" cy="1305.3" r="14"/></g>
<g class="a s"><circle cx="963.2" cy="153.2" r="14"/></g>
<g class="d"><circle cx="1848.0" cy="1381.0" r="14"/></g>
<g class="f"><circle cx="1940.8" cy="1448.9" r="14"/></g>
<g class="a"><circle cx="924.3" cy="350.4" r="14"/></g>
<g class="d"><circle cx="1693.0" cy="1255.0" r="14"/></g>
<g class="a s"><circle cx="906.7" cy="195.8" r="14"/><circle cx="992.6" cy="782.2" r="14"/></g>
<g class="b s"><circle cx="1023.0" cy="1023.1" r="14"/></g>
<g class="m s"><circle cx="837.7" cy="1280.8" r="14"/></g>
<g class="m"><circle cx="1102.9" cy="1225.1" r="14"/></g>
<g class="e"><circle cx="125.9" cy="1396.5" r="14"/></g>
<g class="c s"><circle cx="201.5" cy="1488.1" r="14"/></g>
<g class="a s"><circle cx="992.2" cy="626.2" r="14"/><circle cx="990.9" cy="683.0" r="14"/></g>
<g class="m s"><circle cx="1346.6" cy="1321.5" r="14"/></g>
<g class="b s"><circle cx="1018.6" cy="952.7" r="14"/></g>
<g class="d"><circle cx="1518.0" cy="1326.9" r="14"/></g>
<g class="d s"><circle cx="1794.5" cy="1403.5" r="14"/></g>
<g class="a s"><circle cx="935.6" cy="382.2" r="14"/></g>
<g class="d"><circle cx="1920.4" cy="1487.3" r="14"/></g>
<g class="m"><circle cx="965.7" cy="1180.7" r="14"/></g>
<g class="b s"><circle cx="1036.4" cy="1042.7" r="14"/></g>
<g class="c"><circle cx="251.8" cy="1442.5" r="14"/></g>
<g class="e"><circle cx="115.7" cy="1479.5" r="14"/></g>
<g class="d"><circle cx="1675.5" cy="1284.0" r="14"/></g>
<g class="c s"><circle cx="573.0" cy="1435.7" r="14"/></g>
<g class="d"><circle cx="1586.5" cy="1323.5" r="14"/></g>
<g class="d s"><circle cx="1707.1" cy="1328.6" r="14"/></g>
<g class="f"><circle cx="1961.5" cy="1377.8" r="14"/></g>
<g class="b"><circle cx="994.4" cy="989.5" r="14"/></g>
<g class="c s"><circle cx="647.0" cy="1410.0" r="14"/></g>
<g class="e s"><circle cx="77.4" cy="1412.3" r="14"/></g>
<g class="m s"><circle cx="1344.6" cy="1270.8" r="14"/><circle cx="997.8" cy="1115.0" r="14"/></g>
<g class="d s"><circle cx="1617.8" cy="1389.5" r="14"/></g>
<g class="f"><circle cx="1937.5" cy="1390.1" r="14"/></g>
<g class="m s"><circle cx="1102.6" cy="1223.2" r="14"/></g>
<g class="b s"><circle cx="1052.4" cy="923.2" r="14"/></g>
<g class="c s"><circle cx="136.1" cy="1500.7" r="14"/></g>
<g class="m"><circle cx="1045.4" cy="1288.4" r="14"/><circle cx="1133.2" cy="1226.4" r="14"/><circle cx="1012.2" cy="1114.7" r="14"/></g>
<g class="d"><circle cx="1612.7" cy="1351.6" r="14"/></g>
<g class="c"><circle cx="794.7" cy="1430.0" r="14"/></g>
<g class="d s"><circle cx="1654.3" cy="1329.5" r="14"/></g>
<g class="c s"><circle cx="234.7" cy="1445.9" r="14"/></g>
<g class="f s"><circle cx="1949.2" cy="1452.5" r="14"/></g>
<g class="c"><circle cx="704.9" cy="1374.4" r="14"/></g>
<g class="m"><circle cx="877.7" cy="1227.3" r="14"/></g>
<g class="d"><circle cx="1754.0" cy="1335.9" r="14"/></g>
<g class="d s"><circle cx="1813.6" cy="1395.3" r="14"/></g>
<g class="d"><circle cx="1919.0" cy="1478.9" r="14"/><circle cx="1649.9" cy="1320.4" r="14"/><circle cx="1724.5" cy="1416.6" r="14"/></g>
<g class="d s"><circle cx="1658.0" cy="1329.3" r="14"/></g>
<g class="m"><circle cx="781.6" cy="1284.6" r="14"/></g>
<g class="e"><circle cx="106.4" cy="1484.4" r="14"/></g>
<g class="m"><circle cx="991.3" cy="1191.7" r="14"/></g>
<g class="d"><circle cx="1712.6" cy="1365.1" r="14"/><circle cx="1909.4" cy="1378.0" r="14"/></g>
<g class="a s"><circle cx="923.1" cy="207.0" r="14"/></g>
<g class="d"><circle cx="1737.9" cy="1327.6" r="14"/></g>
<g class="f s"><circle cx="1997.8" cy="1392.8" r="14"/></g>
<g class="c s"><circle cx="735.5" cy="1388.9" r="14"/></g>
<g class="m s"><circle cx="879.5" cy="1317.4" r="14"/></g>
<g class="f s"><circle cx="1979.8" cy="1421.2" r="14"/></g>
<g class="d"><circle cx="1805.8" cy="1374.9" r="14"/></g>
<g class="b"><circle cx="1027.2" cy="1069.9" r="14"/></g>
<g class="d"><circle cx="1880.5" cy="1355.7" r="14"/></g>
<g class="b"><circle cx="1008.5" cy="1030.2" r="14"/><circle cx="1015.0" cy="923.8" r="14"/></g>
<g class="e"><circle cx="113.3" cy="1495.0" r="14"/></g>
<g class="d s"><circle cx="1681.9" cy="1264.6" r="14"/></g>
<g class="c"><circle cx="677.0" cy="1363.0" r="14"/></g>
<g class="m"><circle cx="527.0" cy="1298.0" r="14"/></g>
<g class="b"><circle cx="981.8" cy="1029.5" r="14"/></g>
<g class="d"><circle cx="1586.9" cy="1338.9" r="14"/></g>
<g class="b s"><circle cx="1002.7" cy="917.9" r="14"/></g>
<g class="c"><circle cx="547.6" cy="1433.5" r="14"/></g>
<g class="d"><circle cx="1794.5" cy="1415.7" r="14"/></g>
<g class="c s"><circle cx="610.6" cy="1403.4" r="14"/></g>
<g class="f"><circle cx="1946.6" cy="1413.3" r="14"/></g>
<g class="e"><circle cx="108.1" cy="1356.0" r="14"/></g>
<g class="c"><circle cx="674.8" cy="1430.4" r="14"/></g>
<g class="d"><circle cx="1755.8" cy="1340.0" r="14"/></g>
<g class="c s"><circle cx="199.4" cy="1435.0" r="14"/></g>
<g class="d"><circle cx="1697.1" cy="1319.7" r="14"/></g>
<g class="d s"><circle cx="1737.8" cy="1340.2" r="14"/></g>
<g class="d"><circle cx="1545.1" cy="1343.9" r="14"/><circle cx="1809.9" cy="1455.8" r="14"/></g>
<g class="e"><circle cx="89.7" cy="1405.4" r="14"/><circle cx="101.5" cy="1399.1" r="14"/></g>
<g class="c"><circle cx="494.6" cy="1465.7" r="14"/></g>
<g class="m s"><circle cx="1004.2" cy="1239.2" r="14"/></g>
<g class="d s"><circle cx="1839.1" cy="1401.8" r="14"/></g>
<g class="m"><circle cx="1003.6" cy="1269.7" r="14"/></g>
<g class="e s"><circle cx="106.8" cy="1493.4" r="14"/></g>
<g class="d"><circle cx="1670.0" cy="1377.8" r="14"/></g>
<g class="c"><circle cx="394.8" cy="1506.2" r="14"/></g>
<g class="m s"><circle cx="1035.5" cy="1242.4" r="14"/></g>
<g class="b"><circle cx="990.0" cy="1085.0" r="14"/></g>
<g class="f"><circle cx="1988.6" cy="1373.7" r="14"/></g>
<g class="c"><circle cx="521.7" cy="1444.1" r="14"/></g>
<g class="d"><circle cx="1923.4" cy="1396.9" r="14"/><circle cx="1726.2" cy="1405.1" r="14"/></g>
<g class="m s"><circle cx="1010.3" cy="1259.2" r="14"/></g>
<g class="d s"><circle cx="1905.7" cy="1384.6" r="14"/><circle cx="1402.0" cy="1330.1" r="14"/></g>
<g class="m"><circle cx="1114.2" cy="1238.3" r="14"/></g>
<g class="d s"><circle cx="1912.5" cy="1362.9" r="14"/></g>
<g class="m"><circle cx="1288.4" cy="1380.6" r="14"/></g>
<g class="m s"><circle cx="993.5" cy="1314.3" r="14"/></g>
<g class="d s"><circle cx="1820.3" cy="1326.6" r="14"/></g>
<g class="c"><circle cx="629.3" cy="1412.4" r="14"/></g>
<g class="c s"><circle cx="600.0" cy="1375.6" r="14"/></g>
<g class="m"><circle cx="959.3" cy="1312.0" r="14"/></g>
<g class="m s"><circle cx="1180.6" cy="1280.2" r="14"/></g>
<g class="d"><circle cx="1812.0" cy="1316.7" r="14"/></g>
<g class="e"><circle cx="95.0" cy="1542.0" r="14"/></g>
<g class="m s"><circle cx="799.0" cy="1366.0" r="14"/></g>
<g class="e"><circle cx="70.7" cy="1392.0" r="14"/></g>
<g class="c s"><circle cx="686.8" cy="1454.5" r="14"/></g>
<g class="b"><circle cx="1018.5" cy="1007.5" r="14"/></g>
<g class="d"><circle cx="1821.6" cy="1355.0" r="14"/></g>
<g class="c s"><circle cx="372.6" cy="1478.5" r="14"/></g>
<g class="m"><circle cx="914.8" cy="1311.4" r="14"/></g>
<g class="c s"><circle cx="576.6" cy="1398.3" r="14"/></g>
<g class="m s"><circle cx="861.1" cy="1256.0" r="14"/></g>
<g class="m"><circle cx="823.4" cy="1369.6" r="14"/><circle cx="939.3" cy="1303.0" r="14"/></g>
<g class="d s"><circle cx="1801.2" cy="1376.7" r="14"/></g>
<g class="m s"><circle cx="1051.2" cy="1271.2" r="14"/></g>
<g class="f"><circle cx="1978.1" cy="1470.1" r="14"/></g>
<g class="m s"><circle cx="1062.7" cy="1269.0" r="14"/></g>
<g class="m"><circle cx="848.8" cy="1310.4" r="14"/><circle cx="1038.9" cy="1249.0" r="14"/></g>
<g class="m s"><circle cx="1319.6" cy="1343.4" r="14"/></g>
<g class="b s"><circle cx="1067.0" cy="978.0" r="14"/></g>
<g class="d"><circle cx="1950.6" cy="1383.6" r="14"/></g>
<g class="b"><circle cx="1009.3" cy="907.0" r="14"/></g>
<g class="m s"><circle cx="806.6" cy="1293.7" r="14"/><circle cx="1327.2" cy="1355.8" r="14"/></g>
<g class="b"><circle cx="1020.3" cy="922.2" r="14"/></g>
<g class="m s"><circle cx="1221.3" cy="1295.1" r="14"/></g>
<g class="m"><circle cx="971.1" cy="1191.9" r="14"/></g>
<g class="d s"><circle cx="1738.8" cy="1368.6" r="14"/></g>
<g class="c s"><circle cx="99.2" cy="1405.0" r="14"/></g>
<g class="c"><circle cx="554.9" cy="1420.7" r="14"/></g>
<g class="m"><circle cx="1239.3" cy="1260.7" r="14"/></g>
<g class="c s"><circle cx="187.9" cy="1505.9" r="14"/></g>
<g class="d s"><circle cx="1761.3" cy="1370.2" r="14"/></g>
<g class="c"><circle cx="601.2" cy="1446.2" r="14"/></g>
<g class="m"><circle cx="1168.7" cy="1258.0" r="14"/><circle cx="539.0" cy="1298.0" r="14"/></g>
<g class="c"><circle cx="167.4" cy="1403.8" r="14"/></g>
<g class="m"><circle cx="1022.1" cy="1102.2" r="14"/><circle cx="905.5" cy="1354.5" r="14"/></g>
<g class="c s"><circle cx="237.2" cy="1494.9" r="14"/></g>
<g class="d s"><circle cx="1726.4" cy="1283.7" r="14"/></g>
<g class="f s"><circle cx="1961.2" cy="1375.3" r="14"/></g>
<g class="b"><circle cx="1050.6" cy="1035.8" r="14"/></g>
<g class="m s"><circle cx="1195.7" cy="1290.8" r="14"/></g>
<g class="c s"><circle cx="270.2" cy="1430.3" r="14"/></g>
<g class="f"><circle cx="1970.7" cy="1420.6" r="14"/></g>
<g class="c s"><circle cx="228.1" cy="1409.4" r="14"/></g>
<g class="b s"><circle cx="1036.5" cy="1005.3" r="14"/></g>
<g class="m"><circle cx="898.7" cy="1210.3" r="14"/><circle cx="1149.0" cy="1239.7" r="14"/></g>
<g class="d"><circle cx="1878.1" cy="1482.8" r="14"/></g>
<g class="d s"><circle cx="1917.5" cy="1340.6" r="14"/></g>
<g class="f"><circle cx="1975.3" cy="1381.4" r="14"/></g>
<g class="d s"><circle cx="1903.1" cy="1388.9" r="14"/></g>
<g class="m s"><circle cx="1097.0" cy="1231.2" r="14"/></g>
<g class="c s"><circle cx="540.6" cy="1480.0" r="14"/></g>
<g class="e"><circle cx="107.1" cy="1490.8" r="14"/></g>
<g class="f s"><circle cx="1983.8" cy="1338.6" r="14"/></g>
<g class="e s"><circle cx="85.0" cy="1556.0" r="14"/></g>
<g class="d"><circle cx="1602.5" cy="1372.0" r="14"/></g>
<g class="m"><circle cx="950.1" cy="1151.4" r="14"/></g>
<g class="c"><circle cx="652.7" cy="1405.8" r="14"/></g>
<g class="m"><circle cx="1031.2" cy="1205.9" r="14"/></g>
<g class="b s"><circle cx="1005.0" cy="944.8" r="14"/></g>
<g class="c"><circle cx="582.4" cy="1404.1" r="14"/></g>
<g class="m"><circle cx="1298.2" cy="1294.4" r="14"/><circle cx="1067.6" cy="1303.3" r="14"/></g>
<g class="d"><circle cx="1938.7" cy="1469.0" r="14"/></g>
<g class="c"><circle cx="289.6" cy="1424.0" r="14"/></g>
<g class="d s"><circle cx="1831.2" cy="1319.1" r="14"/></g>
<g class="b s"><circle cx="1011.5" cy="1054.4" r="14"/></g>
<g class="m s"><circle cx="904.3" cy="1215.9" r="14"/></g>
<g class="b"><circle cx="1040.8" cy="1030.9" r="14"/></g>
<g class="d"><circle cx="1822.8" cy="1460.4" r="14"/></g>
<g class="c"><circle cx="629.8" cy="1450.6" r="14"/></g>
<g class="a s"><circle cx="947.5" cy="144.8" r="14"/></g>
<g class="m"><circle cx="855.1" cy="1361.9" r="14"/></g>
<g class="d s"><circle cx="1832.2" cy="1347.9" r="14"/></g>
<g class="c"><circle cx="394.6" cy="1476.0" r="14"/></g>
<g class="d s"><circle cx="1766.1" cy="1368.8" r="14"/></g>
<g class="m"><circle cx="1072.8" cy="1282.5" r="14"/></g>
<g class="d"><circle cx="1744.9" cy="1386.5" r="14"/></g>
<g class="d s"><circle cx="1726.0" cy="1335.8" r="14"/></g>
<g class="m s"><circle cx="869.0" cy="1256.1" r="14"/></g>
<g class="m"><circle cx="1073.4" cy="1169.0" r="14"/></g>
<g class="c"><circle cx="540.9" cy="1430.3" r="14"/></g>
<g class="m s"><circle cx="1027.5" cy="1080.7" r="14"/></g>
<g class="d s"><circle cx="1607.8" cy="1305.8" r="14"/></g>
<g class="m s"><circle cx="1070.5" cy="1257.0" r="14"/></g>
<g class="d s"><circle cx="1909.7" cy="1366.8" r="14"/></g>
<g class="m"><circle cx="1292.6" cy="1349.1" r="14"/></g>
<g class="m s"><circle cx="1059.3" cy="1038.9" r="14"/></g>
<g class="b"><circle cx="1035.0" cy="1011.5" r="14"/><circle cx="1016.7" cy="938.9" r="14"/></g>
<g class="e s"><circle cx="131.1" cy="1512.6" r="14"/></g>
<g class="c"><circle cx="396.7" cy="1448.0" r="14"/></g>
<g class="m s"><circle cx="1055.0" cy="1222.9" r="14"/></g>
<g class="b"><circle cx="1047.7" cy="896.3" r="14"/></g>
<g class="e s"><circle cx="87.6" cy="1483.6" r="14"/></g>
<g class="d"><circle cx="1802.1" cy="1484.2" r="14"/></g>
<g class="m"><circle cx="1171.3" cy="1221.2" r="14"/></g>
<g class="b"><circle cx="1017.1" cy="936.7" r="14"/></g>
<g class="m"><circle cx="1312.7" cy="1377.3" r="14"/></g>
<g class="d s"><circle cx="1651.2" cy="1309.7" r="14"/><circle cx="1787.0" cy="1248.0" r="14"/></g>
<g class="c"><circle cx="95.2" cy="1464.0" r="14"/></g>
<g class="a"><circle cx="902.0" cy="230.3" r="14"/></g>
<g class="m"><circle cx="977.3" cy="1082.6" r="14"/><circle cx="1048.9" cy="1042.4" r="14"/><circle cx="1071.5" cy="1242.6" r="14"/></g>
<g class="b s"><circle cx="1003.8" cy="975.0" r="14"/></g>
<g class="c"><circle cx="277.1" cy="1441.1" r="14"/></g>
<g class="b"><circle cx="1028.1" cy="966.9" r="14"/></g>
<g class="f s"><circle cx="1952.7" cy="1460.8" r="14"/></g>
<g class="c s"><circle cx="489.4" cy="1408.1" r="14"/></g>
<g class="b s"><circle cx="980.2" cy="996.0" r="14"/></g>
<g class="m"><circle cx="1338.2" cy="1378.6" r="14"/></g>
<g class="b s"><circle cx="987.6" cy="1077.0" r="14"/></g>
<g class="b"><circle cx="1068.3" cy="1004.7" r="14"/></g>
<g class="c"><circle cx="423.9" cy="1428.0" r="14"/></g>
<g class="c s"><circle cx="453.9" cy="1443.3" r="14"/></g>
<g class="m"><circle cx="1187.3" cy="1271.8" r="14"/><circle cx="960.7" cy="1226.6" r="14"/></g>
<g class="c s"><circle cx="742.1" cy="1399.4" r="14"/></g>
<g class="c"><circle cx="468.3" cy="1480.9" r="14"/></g>
<g class="m"><circle cx="1006.3" cy="1317.0" r="14"/></g>
<g class="d s"><circle cx="1743.3" cy="1338.8" r="14"/></g>
<g class="c"><circle cx="803.5" cy="1406.4" r="14"/></g>
<g class="m s"><circle cx="914.5" cy="1287.7" r="14"/><circle cx="933.1" cy="1283.5" r="14"/></g>
<g class="d s"><circle cx="1702.8" cy="1327.4" r="14"/><circle cx="1581.5" cy="1322.8" r="14"/></g>
<g class="d"><circle cx="1809.9" cy="1325.8" r="14"/></g>
<g class="d s"><circle cx="1622.5" cy="1311.7" r="14"/></g>
<g class="c"><circle cx="548.1" cy="1440.9" r="14"/></g>
<g class="m"><circle cx="1051.4" cy="1168.1" r="14"/></g>
<g class="m s"><circle cx="1055.1" cy="1311.6" r="14"/></g>
<g class="e"><circle cx="99.8" cy="1471.4" r="14"/></g>
<g class="d"><circle cx="1711.9" cy="1276.0" r="14"/></g>
<g class="b"><circle cx="1027.2" cy="1047.4" r="14"/></g>
<g class="e"><circle cx="95.7" cy="1450.2" r="14"/></g>
<g class="d s"><circle cx="1943.7" cy="1356.6" r="14"/></g>
<g class="m"><circle cx="1291.2" cy="1296.3" r="14"/></g>
<g class="b s"><circle cx="1030.2" cy="983.1" r="14"/></g>
<g class="d s"><circle cx="1864.7" cy="1390.5" r="14"/><circle cx="1871.9" cy="1388.1" r="14"/></g>
<g class="d"><circle cx="1756.7" cy="1424.5" r="14"/></g>
<g class="b"><circle cx="963.0" cy="1080.0" r="14"/></g>
<g class="d s"><circle cx="1883.4" cy="1377.0" r="14"/></g>
<g class="m"><circle cx="1127.1" cy="1268.6" r="14"/></g>
<g class="f s"><circle cx="1945.2" cy="1387.9" r="14"/></g>
<g class="d"><circle cx="1862.8" cy="1407.0" r="14"/></g>
<g class="d s"><circle cx="1862.9" cy="1428.3" r="14"/></g>
<g class="m"><circle cx="1233.4" cy="1267.7" r="14"/></g>
<g class="m s"><circle cx="993.8" cy="1221.8" r="14"/><circle cx="1061.1" cy="1265.7" r="14"/></g>
<g class="m"><circle cx="803.0" cy="1250.5" r="14"/></g>
<g class="d"><circle cx="1851.6" cy="1336.2" r="14"/></g>
<g class="a s"><circle cx="914.5" cy="188.2" r="14"/></g>
<g class="m s"><circle cx="953.9" cy="1218.3" r="14"/></g>
<g class="f s"><circle cx="1957.1" cy="1384.7" r="14"/></g>
<g class="d"><circle cx="1823.3" cy="1379.3" r="14"/></g>
<g class="b s"><circle cx="994.8" cy="978.4" r="14"/></g>
<g class="d s"><circle cx="1850.9" cy="1352.9" r="14"/></g>
<g class="b"><circle cx="1033.9" cy="971.1" r="14"/></g>
<g class="d s"><circle cx="1926.8" cy="1422.1" r="14"/></g>
<g class="m s"><circle cx="950.5" cy="1353.3" r="14"/></g>
<g class="c s"><circle cx="561.8" cy="1428.0" r="14"/></g>
<g class="m s"><circle cx="1223.8" cy="1327.0" r="14"/><circle cx="966.4" cy="1194.9" r="14"/><circle cx="1034.0" cy="1148.9" r="14"/><circle cx="974.7" cy="1272.3" r="14"/><circle cx="1066.6" cy="1242.8" r="14"/></g>
<g class="c"><circle cx="587.4" cy="1398.5" r="14"/></g>
<g class="d s"><circle cx="1805.1" cy="1362.6" r="14"/></g>
<g class="c s"><circle cx="122.3" cy="1432.7" r="14"/></g>
<g class="m"><circle cx="1068.3" cy="1136.7" r="14"/></g>
<g class="f"><circle cx="2000.5" cy="1384.6" r="14"/></g>
<g class="d"><circle cx="1752.6" cy="1392.4" r="14"/><circle cx="1700.7" cy="1301.3" r="14"/></g>
<g class="f"><circle cx="1990.0" cy="1446.8" r="14"/></g>
<g class="m"><circle cx="1040.8" cy="1231.3" r="14"/></g>
<g class="d s"><circle cx="1824.4" cy="1480.4" r="14"/></g>
<g class="m"><circle cx="859.2" cy="1233.0" r="14"/></g>
<g class="b s"><circle cx="1004.3" cy="1082.5" r="14"/></g>
<g class="d"><circle cx="1629.7" cy="1294.7" r="14"/></g>
<g class="c s"><circle cx="390.5" cy="1486.1" r="14"/></g>
<g class="f"><circle cx="1971.3" cy="1421.5" r="14"/></g>
<g class="d"><circle cx="1760.1" cy="1385.1" r="14"/></g>
<g class="m"><circle cx="873.8" cy="1358.2" r="14"/></g>
<g class="m s"><circle cx="1129.9" cy="1303.0" r="14"/></g>
<g class="e"><circle cx="109.1" cy="1413.3" r="14"/></g>
<g class="c s"><circle cx="616.6" cy="1410.1" r="14"/></g>
<g class="d"><circle cx="1548.1" cy="1382.8" r="14"/></g>
<g class="m"><circle cx="916.3" cy="1308.9" r="14"/><circle cx="843.5" cy="1370.4" r="14"/></g>
<g class="d"><circle cx="1851.7" cy="1390.9" r="14"/></g>
<g class="m s"><circle cx="825.5" cy="1388.3" r="14"/></g>
<g class="m"><circle cx="1150.1" cy="1236.6" r="14"/></g>
<g class="m s"><circle cx="1060.7" cy="1150.4" r="14"/></g>
<g class="d s"><circle cx="1662.0" cy="1313.5" r="14"/></g>
<g class="c"><circle cx="432.8" cy="1489.3" r="14"/></g>
<g class="d s"><circle cx="1567.2" cy="1319.3" r="14"/></g>
<g class="m"><circle cx="975.4" cy="1166.7" r="14"/></g>
<g class="c"><circle cx="772.4" cy="1409.1" r="14"/></g>
<g class="d"><circle cx="1553.8" cy="1338.7" r="14"/><circle cx="1846.6" cy="1408.1" r="14"/></g>
<g class="m s"><circle cx="1289.6" cy="1370.0" r="14"/><circle cx="1296.0" cy="1412.0" r="14"/><circle cx="793.9" cy="1310.2" r="14"/><circle cx="962.0" cy="1115.9" r="14"/></g>
<g class="c"><circle cx="645.4" cy="1415.1" r="14"/></g>
<g class="d"><circle cx="1486.0" cy="1304.8" r="14"/></g>
<g class="m s"><circle cx="1120.0" cy="1266.4" r="14"/></g>
<g class="b s"><circle cx="1030.3" cy="1038.9" r="14"/></g>
<g class="m"><circle cx="1273.6" cy="1331.3" r="14"/></g>
<g class="d"><circle cx="1856.9" cy="1399.3" r="14"/></g>
<g class="m"><circle cx="888.1" cy="1299.1" r="14"/></g>
<g class="e s"><circle cx="111.4" cy="1386.4" r="14"/></g>
<g class="b"><circle cx="1034.9" cy="945.6" r="14"/></g>
<g class="d s"><circle cx="1659.9" cy="1383.1" r="14"/></g>
<g class="d"><circle cx="1823.4" cy="1377.7" r="14"/></g>
<g class="d s"><circle cx="1838.0" cy="1399.1" r="14"/></g>
<g class="a s"><circle cx="942.3" cy="156.2" r="14"/></g>
<g class="m s"><circle cx="957.0" cy="1312.0" r="14"/></g>
<g class="b s"><circle cx="1012.4" cy="952.8" r="14"/></g>
<g class="d"><circle cx="1767.3" cy="1371.6" r="14"/></g>
<g class="c s"><circle cx="116.7" cy="1441.1" r="14"/></g>
<g class="e"><circle cx="111.6" cy="1512.7" r="14"/></g>
<g class="m"><circle cx="1342.3" cy="1309.5" r="14"/></g>
<g class="d"><circle cx="1703.2" cy="1316.6" r="14"/></g>
<g class="m s"><circle cx="1038.5" cy="1167.8" r="14"/></g>
<g class="m"><circle cx="971.3" cy="1306.9" r="14"/></g>
<g class="d s"><circle cx="1781.5" cy="1391.1" r="14"/></g>
<g class="m s"><circle cx="1193.0" cy="1200.0" r="14"/></g>
<g class="d s"><circle cx="1902.9" cy="1490.4" r="14"/><circle cx="1750.9" cy="1349.8" r="14"/></g>
<g class="c"><circle cx="293.5" cy="1513.9" r="14"/></g>
<g class="m s"><circle cx="1205.4" cy="1224.4" r="14"/></g>
<g class="b"><circle cx="1026.8" cy="1076.9" r="14"/></g>
<g class="c s"><circle cx="460.1" cy="1442.9" r="14"/></g>
<g class="m s"><circle cx="799.0" cy="1249.9" r="14"/></g>
<g class="f"><circle cx="1982.4" cy="1408.6" r="14"/></g>
<g class="m s"><circle cx="1109.5" cy="1313.0" r="14"/></g>
<g class="c s"><circle cx="277.6" cy="1468.9" r="14"/></g>
<g class="e"><circle cx="111.3" cy="1435.8" r="14"/></g>
<g class="m s"><circle cx="855.0" cy="1241.6" r="14"/><circle cx="1225.4" cy="1266.5" r="14"/></g>
<g class="d"><circle cx="1715.2" cy="1342.9" r="14"/></g>
<g class="d s"><circle cx="1575.6" cy="1363.6" r="14"/></g>
<g class="m s"><circle cx="963.2" cy="1235.5" r="14"/></g>
<g class="d"><circle cx="1890.3" cy="1441.4" r="14"/></g>
<g class="m s"><circle cx="1319.6" cy="1359.8" r="14"/></g>
<g class="d s"><circle cx="1523.9" cy="1363.4" r="14"/></g>
<g class="m s"><circle cx="996.2" cy="1257.4" r="14"/></g>
<g class="d s"><circle cx="1913.5" cy="1402.6" r="14"/></g>
<g class="m s"><circle cx="916.6" cy="1251.5" r="14"/></g>
<g class="d s"><circle cx="1830.6" cy="1391.7" r="14"/></g>
<g class="m"><circle cx="1323.3" cy="1319.4" r="14"/></g>
<g class="m s"><circle cx="1267.2" cy="1254.8" r="14"/></g>
<g class="d"><circle cx="1928.0" cy="1427.3" r="14"/></g>
<g class="c s"><circle cx="574.0" cy="1363.0" r="14"/></g>
<g class="m"><circle cx="1320.5" cy="1257.7" r="14"/><circle cx="990.8" cy="1118.2" r="14"/></g>
<g class="m s"><circle cx="1027.9" cy="1273.4" r="14"/></g>
<g class="c"><circle cx="506.3" cy="1441.7" r="14"/></g>
<g class="m"><circle cx="792.5" cy="1282.0" r="14"/><circle cx="1047.3" cy="1117.7" r="14"/><circle cx="1097.6" cy="1223.0" r="14"/></g>
<g class="m s"><circle cx="1055.3" cy="1182.4" r="14"/></g>
<g class="d"><circle cx="1884.7" cy="1476.7" r="14"/></g>
<g class="d s"><circle cx="1918.2" cy="1359.7" r="14"/><circle cx="1845.4" cy="1472.9" r="14"/></g>
<g class="m"><circle cx="1041.5" cy="1145.8" r="14"/><circle cx="1054.2" cy="1121.3" r="14"/></g>
<g class="d"><circle cx="1574.8" cy="1377.6" r="14"/><circle cx="1601.0" cy="1387.6" r="14"/></g>
<g class="c"><circle cx="390.2" cy="1510.2" r="14"/></g>
<g class="d s"><circle cx="1874.5" cy="1374.5" r="14"/><circle cx="1520.8" cy="1374.9" r="14"/></g>
<g class="f s"><circle cx="1981.4" cy="1451.5" r="14"/><circle cx="1961.9" cy="1483.4" r="14"/></g>
<g class="d"><circle cx="1914.7" cy="1414.8" r="14"/></g>
<g class="c s"><circle cx="176.4" cy="1429.2" r="14"/></g>
<g class="m s"><circle cx="1004.5" cy="1253.8" r="14"/></g>
<g class="m"><circle cx="1101.7" cy="1311.5" r="14"/></g>
<g class="m s"><circle cx="819.2" cy="1334.1" r="14"/></g>
<g class="a"><circle cx="942.8" cy="141.1" r="14"/></g>
<g class="m"><circle cx="985.3" cy="1278.2" r="14"/></g>
<g class="m s"><circle cx="1019.8" cy="1265.1" r="14"/><circle cx="1244.9" cy="1283.7" r="14"/></g>
<g class="m"><circle cx="965.1" cy="1208.7" r="14"/></g>
<g class="b"><circle cx="999.4" cy="1005.5" r="14"/></g>
<g class="c"><circle cx="338.3" cy="1500.6" r="14"/></g>
<g class="d"><circle cx="1774.4" cy="1388.6" r="14"/></g>
<g class="d s"><circle cx="1607.8" cy="1332.0" r="14"/></g>
<g class="c s"><circle cx="815.4" cy="1394.7" r="14"/></g>
<g class="e"><circle cx="117.1" cy="1395.7" r="14"/></g>
<g class="d"><circle cx="1720.7" cy="1350.7" r="14"/></g>
<g class="m"><circle cx="767.3" cy="1322.1" r="14"/></g>
<g class="d"><circle cx="1604.1" cy="1309.1" r="14"/><circle cx="1760.6" cy="1414.1" r="14"/></g>
<g class="m s"><circle cx="811.5" cy="1371.8" r="14"/></g>
<g class="d s"><circle cx="1764.7" cy="1374.5" r="14"/></g>
<g class="b"><circle cx="1007.1" cy="1024.4" r="14"/></g>
<g class="d s"><circle cx="1712.0" cy="1341.0" r="14"/></g>
<g class="c s"><circle cx="449.8" cy="1436.1" r="14"/><circle cx="308.0" cy="1394.0" r="14"/></g>
<g class="m"><circle cx="1101.0" cy="1132.0" r="14"/><circle cx="1317.2" cy="1278.1" r="14"/></g>
<g class="m s"><circle cx="885.0" cy="1283.1" r="14"/></g>
<g class="d s"><circle cx="1412.4" cy="1378.4" r="14"/></g>
<g class="m s"><circle cx="1001.9" cy="1045.6" r="14"/></g>
<g class="f s"><circle cx="1970.3" cy="1335.5" r="14"/></g>
<g class="m"><circle cx="1306.1" cy="1356.7" r="14"/></g>
<g class="d"><circle cx="1405.3" cy="1381.7" r="14"/></g>
<g class="m s"><circle cx="911.8" cy="1311.8" r="14"/></g>
<g class="d s"><circle cx="1555.1" cy="1356.1" r="14"/></g>
<g class="d"><circle cx="1757.9" cy="1428.6" r="14"/></g>
<g class="m"><circle cx="895.5" cy="1320.9" r="14"/></g>
<g class="e"><circle cx="107.4" cy="1368.1" r="14"/></g>
<g class="b"><circle cx="999.8" cy="974.6" r="14"/></g>
<g class="m s"><circle cx="1006.8" cy="1113.0" r="14"/></g>
<g class="d"><circle cx="1889.4" cy="1414.6" r="14"/></g>
<g class="f"><circle cx="1991.7" cy="1423.3" r="14"/></g>
<g class="d"><circle cx="1579.1" cy="1344.0" r="14"/></g>
<g class="d s"><circle cx="1624.1" cy="1311.1" r="14"/></g>
<g class="c s"><circle cx="160.0" cy="1360.0" r="14"/></g>
<g class="b"><circle cx="982.5" cy="1004.1" r="14"/></g>
<g class="d s"><circle cx="1881.4" cy="1412.6" r="14"/></g>
<g class="m"><circle cx="829.4" cy="1331.7" r="14"/></g>
<g class="e s"><circle cx="160.0" cy="1518.0" r="14"/></g>
<g class="m s"><circle cx="970.8" cy="1279.5" r="14"/></g>
<g class="b"><circle cx="1042.0" cy="995.6" r="14"/></g>
<g class="d s"><circle cx="1696.1" cy="1314.6" r="14"/></g>
<g class="m"><circle cx="913.7" cy="1315.0" r="14"/><circle cx="1218.1" cy="1320.3" r="14"/></g>
<g class="d"><circle cx="1666.7" cy="1268.1" r="14"/></g>
<g class="b s"><circle cx="995.9" cy="1002.6" r="14"/></g>
<g class="m s"><circle cx="1354.6" cy="1365.4" r="14"/><circle cx="1004.2" cy="1207.3" r="14"/></g>
<g class="d s"><circle cx="1682.0" cy="1275.1" r="14"/></g>
<g class="e"><circle cx="131.2" cy="1528.9" r="14"/></g>
<g class="m"><circle cx="1066.2" cy="1255.0" r="14"/></g>
<g class="c"><circle cx="339.8" cy="1477.8" r="14"/></g>
<g class="c s"><circle cx="751.5" cy="1348.0" r="14"/><circle cx="643.2" cy="1416.1" r="14"/></g>
<g class="f"><circle cx="1958.4" cy="1420.8" r="14"/></g>
<g class="c s"><circle cx="755.8" cy="1388.1" r="14"/></g>
<g class="m"><circle cx="1311.6" cy="1243.8" r="14"/></g>
<g class="c s"><circle cx="351.8" cy="1493.5" r="14"/></g>
<g class="b"><circle cx="975.2" cy="1036.1" r="14"/></g>
<g class="m"><circle cx="1144.1" cy="1181.6" r="14"/><circle cx="1053.0" cy="1262.7" r="14"/></g>
<g class="c"><circle cx="358.7" cy="1477.9" r="14"/></g>
<g class="m"><circle cx="1273.9" cy="1333.2" r="14"/></g>
<g class="a"><circle cx="959.4" cy="166.3" r="14"/></g>
<g class="e"><circle cx="85.0" cy="1340.0" r="14"/></g>
<g class="m"><circle cx="1315.4" cy="1230.6" r="14"/></g>
<g class="c s"><circle cx="270.9" cy="1449.1" r="14"/><circle cx="81.5" cy="1429.4" r="14"/></g>
<g class="c"><circle cx="295.4" cy="1468.5" r="14"/></g>
<g class="m"><circle cx="1051.4" cy="1277.7" r="14"/><circle cx="965.6" cy="1203.9" r="14"/></g>
<g class="m s"><circle cx="874.4" cy="1361.4" r="14"/><circle cx="979.9" cy="1157.1" r="14"/></g>
<g class="c"><circle cx="336.7" cy="1519.9" r="14"/></g>
<g class="b"><circle cx="978.7" cy="1013.8" r="14"/><circle cx="988.0" cy="848.0" r="14"/></g>
<g class="c"><circle cx="306.7" cy="1459.2" r="14"/></g>
<g class="c s"><circle cx="598.2" cy="1393.0" r="14"/></g>
<g class="m"><circle cx="1033.2" cy="1289.9" r="14"/></g>
<g class="c"><circle cx="756.7" cy="1414.9" r="14"/></g>
<g class="m s"><circle cx="1073.1" cy="1104.3" r="14"/></g>
<g class="c"><circle cx="412.6" cy="1447.0" r="14"/></g>
<g class="m"><circle cx="864.7" cy="1301.3" r="14"/></g>
<g class="m s"><circle cx="849.1" cy="1381.1" r="14"/></g>
<g class="c s"><circle cx="391.6" cy="1476.4" r="14"/></g>
<g class="e s"><circle cx="92.0" cy="1332.0" r="14"/></g>
<g class="c"><circle cx="773.0" cy="1389.7" r="14"/></g>
<g class="m s"><circle cx="1257.0" cy="1355.0" r="14"/><circle cx="835.9" cy="1357.2" r="14"/></g>
<g class="m"><circle cx="1077.6" cy="1289.3" r="14"/></g>
<g class="e s"><circle cx="165.0" cy="1525.0" r="14"/></g>
<g class="m s"><circle cx="908.5" cy="1240.2" r="14"/></g>
<g class="m"><circle cx="1186.1" cy="1274.6" r="14"/><circle cx="1364.5" cy="1318.6" r="14"/></g>
<g class="f"><circle cx="1945.5" cy="1405.4" r="14"/></g>
<g class="a"><circle cx="921.7" cy="184.7" r="14"/></g>
<g class="c"><circle cx="706.4" cy="1443.2" r="14"/></g>
<g class="m"><circle cx="939.7" cy="1255.5" r="14"/></g>
<g class="c"><circle cx="404.7" cy="1458.2" r="14"/></g>
<g class="m"><circle cx="1020.4" cy="1141.7" r="14"/></g>
<g class="c s"><circle cx="656.1" cy="1427.6" r="14"/></g>
<g class="m s"><circle cx="922.7" cy="1337.2" r="14"/></g>
<g class="b"><circle cx="977.6" cy="982.4" r="14"/></g>
<g class="c"><circle cx="375.8" cy="1469.9" r="14"/></g>
<g class="b s"><circle cx="1035.2" cy="983.8" r="14"/></g>
<g class="c s"><circle cx="470.8" cy="1428.2" r="14"/></g>
<g class="e s"><circle cx="77.7" cy="1448.9" r="14"/><circle cx="99.3" cy="1472.7" r="14"/></g>
<g class="m"><circle cx="1187.2" cy="1209.8" r="14"/></g>
<g class="c s"><circle cx="458.9" cy="1410.9" r="14"/><circle cx="674.9" cy="1373.7" r="14"/></g>
<g class="m s"><circle cx="919.7" cy="1200.9" r="14"/></g>
<g class="b s"><circle cx="1031.6" cy="987.5" r="14"/></g>
<g class="m s"><circle cx="1299.5" cy="1313.5" r="14"/><circle cx="949.9" cy="1237.2" r="14"/></g>
<g class="b s"><circle cx="1055.0" cy="1040.0" r="14"/></g>
<g class="c"><circle cx="341.2" cy="1522.3" r="14"/></g>
<g class="f s"><circle cx="1999.6" cy="1453.9" r="14"/></g>
<g class="m"><circle cx="1028.2" cy="1107.0" r="14"/></g>
<g class="m s"><circle cx="984.9" cy="1170.1" r="14"/></g>
<g class="e"><circle cx="128.9" cy="1529.5" r="14"/></g>
<g class="c s"><circle cx="118.7" cy="1423.6" r="14"/></g>
<g class="m s"><circle cx="987.4" cy="1239.6" r="14"/></g>
<g class="e"><circle cx="93.8" cy="1376.5" r="14"/></g>
<g class="m"><circle cx="828.0" cy="1308.2" r="14"/></g>
<g class="c s"><circle cx="523.8" cy="1464.2" r="14"/><circle cx="152.5" cy="1507.2" r="14"/></g>
<g class="m s"><circle cx="1273.0" cy="1274.5" r="14"/></g>
<g class="c s"><circle cx="688.3" cy="1375.4" r="14"/></g>
<g class="m s"><circle cx="961.9" cy="1263.8" r="14"/></g>
<g class="c"><circle cx="653.5" cy="1408.1" r="14"/></g>
<g class="m s"><circle cx="1048.3" cy="1188.6" r="14"/><circle cx="1307.7" cy="1292.4" r="14"/><circle cx="841.6" cy="1382.7" r="14"/></g>
<g class="a"><circle cx="946.3" cy="156.4" r="14"/></g>
<g class="c"><circle cx="779.3" cy="1392.5" r="14"/><circle cx="607.9" cy="1404.0" r="14"/></g>
<g class="c s"><circle cx="564.0" cy="1436.7" r="14"/></g>
<g class="c"><circle cx="644.5" cy="1378.6" r="14"/></g>
<g class="m s"><circle cx="942.0" cy="1207.5" r="14"/></g>
<g class="f"><circle cx="1964.9" cy="1396.1" r="14"/></g>
<g class="c"><circle cx="304.4" cy="1422.3" r="14"/></g>
<g class="m"><circle cx="1031.8" cy="1180.2" r="14"/><circle cx="1289.5" cy="1324.8" r="14"/><circle cx="1112.4" cy="1241.9" r="14"/></g>
<g class="m s"><circle cx="1180.5" cy="1291.8" r="14"/><circle cx="897.3" cy="1275.1" r="14"/></g>
<g class="c"><circle cx="339.9" cy="1524.8" r="14"/></g>
<g class="m s"><circle cx="786.8" cy="1273.1" r="14"/></g>
<g class="e"><circle cx="118.2" cy="1529.4" r="14"/></g>
<g class="b s"><circle cx="982.6" cy="1049.4" r="14"/></g>
<g class="m"><circle cx="1023.1" cy="1233.3" r="14"/></g>
<g class="b"><circle cx="1030.2" cy="972.0" r="14"/></g>
<g class="m"><circle cx="1049.6" cy="1012.6" r="14"/></g>
<g class="f"><circle cx="1974.8" cy="1404.2" r="14"/></g>
<g class="m"><circle cx="948.2" cy="1296.0" r="14"/></g>
<g class="m s"><circle cx="988.0" cy="1065.0" r="14"/></g>
<g class="e"><circle cx="104.3" cy="1444.9" r="14"/></g>
<g class="c"><circle cx="302.7" cy="1467.9" r="14"/></g>
<g class="m"><circle cx="1189.7" cy="1209.3" r="14"/><circle cx="1209.4" cy="1227.5" r="14"/></g>
<g class="f"><circle cx="1994.4" cy="1459.1" r="14"/></g>
<g class="b s"><circle cx="1032.1" cy="1008.1" r="14"/></g>
<g class="m"><circle cx="1081.6" cy="1285.3" r="14"/></g>
<g class="m s"><circle cx="981.8" cy="1086.8" r="14"/></g>
<g class="m"><circle cx="1169.7" cy="1205.8" r="14"/></g>
<g class="a"><circle cx="945.7" cy="160.1" r="14"/></g>
<g class="c s"><circle cx="334.1" cy="1437.0" r="14"/></g>
<g class="f"><circle cx="1955.1" cy="1428.2" r="14"/></g>
<g class="m"><circle cx="873.3" cy="1232.2" r="14"/></g>
<g class="m s"><circle cx="1444.4" cy="1326.9" r="14"/><circle cx="1253.2" cy="1307.8" r="14"/></g>
<g class="m"><circle cx="921.7" cy="1285.6" r="14"/></g>
<g class="c"><circle cx="291.3" cy="1488.9" r="14"/></g>
<g class="m"><circle cx="1309.5" cy="1353.0" r="14"/></g>
<g class="m s"><circle cx="806.5" cy="1352.9" r="14"/></g>
<g class="m"><circle cx="1236.0" cy="1189.0" r="14"/></g>
<g class="c s"><circle cx="118.3" cy="1461.5" r="14"/></g>
<g class="b s"><circle cx="982.4" cy="999.8" r="14"/></g>
<g class="m"><circle cx="1105.4" cy="1188.4" r="14"/><circle cx="874.3" cy="1266.5" r="14"/></g>
<g class="m s"><circle cx="788.6" cy="1366.6" r="14"/></g>
<g class="f s"><circle cx="1992.2" cy="1424.6" r="14"/></g>
<g class="b"><circle cx="1019.6" cy="1025.6" r="14"/></g>
<g class="m"><circle cx="1246.0" cy="1152.0" r="14"/></g>
<g class="m s"><circle cx="1054.6" cy="1135.5" r="14"/></g>
<g class="f s"><circle cx="1989.2" cy="1371.7" r="14"/></g>
<g class="m s"><circle cx="1204.9" cy="1199.4" r="14"/><circle cx="1299.4" cy="1219.4" r="14"/></g>
<g class="a"><circle cx="937.6" cy="169.4" r="14"/></g>
<g class="c"><circle cx="711.1" cy="1428.3" r="14"/></g>
<g class="f"><circle cx="1975.4" cy="1316.6" r="14"/></g>
<g class="m"><circle cx="809.4" cy="1363.2" r="14"/></g>
<g class="a"><circle cx="934.5" cy="201.3" r="14"/></g>
<g class="m s"><circle cx="1015.7" cy="1182.5" r="14"/></g>
<g class="m"><circle cx="1273.8" cy="1232.4" r="14"/></g>
<g class="c"><circle cx="697.5" cy="1417.6" r="14"/><circle cx="419.5" cy="1484.9" r="14"/></g>
<g class="m"><circle cx="1049.3" cy="1169.2" r="14"/><circle cx="1281.7" cy="1268.6" r="14"/></g>
<g class="m s"><circle cx="1313.9" cy="1289.1" r="14"/></g>
<g class="c"><circle cx="680.8" cy="1426.5" r="14"/></g>
<g class="m"><circle cx="1036.4" cy="1287.0" r="14"/></g>
<g class="b"><circle cx="1018.3" cy="1060.6" r="14"/></g>
<g class="c"><circle cx="264.4" cy="1464.2" r="14"/></g>
<g class="m"><circle cx="1245.5" cy="1270.4" r="14"/></g>
<g class="m s"><circle cx="1037.4" cy="1021.9" r="14"/><circle cx="1020.8" cy="1220.3" r="14"/><circle cx="1028.1" cy="1262.2" r="14"/></g>
<g class="c s"><circle cx="617.1" cy="1410.7" r="14"/></g>
<g class="c"><circle cx="656.0" cy="1381.8" r="14"/></g>
<g class="m s"><circle cx="936.0" cy="1223.6" r="14"/></g>
<g class="f s"><circle cx="1986.2" cy="1478.7" r="14"/></g>
<g class="m s"><circle cx="773.0" cy="1230.0" r="14"/><circle cx="994.2" cy="1262.7" r="14"/></g>
<g class="b s"><circle cx="1041.7" cy="937.0" r="14"/></g>
<g class="m s"><circle cx="1129.4" cy="1289.4" r="14"/></g>
<g class="b s"><circle cx="1041.4" cy="966.6" r="14"/></g>
<g class="e s"><circle cx="113.1" cy="1525.6" r="14"/></g>
<g class="m"><circle cx="1152.0" cy="1262.3" r="14"/></g>
<g class="c"><circle cx="820.8" cy="1419.6" r="14"/></g>
<g class="m"><circle cx="1002.9" cy="1166.5" r="14"/></g>
<g class="b s"><circle cx="1049.4" cy="1001.6" r="14"/></g>
<g class="c s"><circle cx="601.9" cy="1453.0" r="14"/></g>
<g class="m"><circle cx="871.0" cy="1226.3" r="14"/></g>
<g class="c"><circle cx="656.6" cy="1416.5" r="14"/><circle cx="227.9" cy="1470.7" r="14"/><circle cx="665.3" cy="1465.9" r="14"/></g>
<g class="e"><circle cx="108.1" cy="1369.0" r="14"/></g>
<g class="m"><circle cx="1054.8" cy="1036.3" r="14"/></g>
<g class="e s"><circle cx="80.2" cy="1457.0" r="14"/></g>
<g class="f"><circle cx="1965.7" cy="1465.1" r="14"/></g>
<g class="m s"><circle cx="783.1" cy="1293.1" r="14"/><circle cx="1347.2" cy="1386.8" r="14"/></g>
<g class="c"><circle cx="590.5" cy="1402.3" r="14"/></g>
<g class="m"><circle cx="1040.6" cy="1290.3" r="14"/><circle cx="1160.2" cy="1243.3" r="14"/><circle cx="1142.5" cy="1233.5" r="14"/></g>
<g class="m s"><circle cx="1299.7" cy="1346.6" r="14"/></g>
<g class="c"><circle cx="552.3" cy="1441.4" r="14"/></g>
<g class="f s"><circle cx="1987.9" cy="1403.9" r="14"/></g>
<g class="c"><circle cx="483.5" cy="1417.0" r="14"/></g>
<g class="m"><circle cx="1005.5" cy="1247.6" r="14"/></g>
<g class="c"><circle cx="221.0" cy="1380.0" r="14"/></g>
<g class="f s"><circle cx="1987.5" cy="1438.9" r="14"/></g>
<g class="m"><circle cx="1106.4" cy="1292.1" r="14"/></g>
<g class="c s"><circle cx="260.3" cy="1462.4" r="14"/></g>
<g class="m"><circle cx="1204.3" cy="1202.1" r="14"/></g>
<g class="f"><circle cx="1942.1" cy="1362.7" r="14"/></g>
<g class="b s"><circle cx="1012.8" cy="889.5" r="14"/></g>
<g class="c s"><circle cx="232.1" cy="1454.5" r="14"/></g>
<g class="m"><circle cx="793.7" cy="1330.4" r="14"/></g>
<g class="c s"><circle cx="775.6" cy="1382.6" r="14"/></g>
<g class="f s"><circle cx="1972.8" cy="1400.4" r="14"/><circle cx="1981.3" cy="1457.3" r="14"/></g>
<g class="m"><circle cx="1284.3" cy="1245.2" r="14"/></g>
<g class="c"><circle cx="564.4" cy="1432.9" r="14"/></g>
<g class="m"><circle cx="1331.3" cy="1287.4" r="14"/></g>
<g class="a s"><circle cx="930.2" cy="172.7" r="14"/></g>
<g class="m s"><circle cx="1069.3" cy="1298.8" r="14"/><circle cx="1039.6" cy="1196.4" r="14"/></g>
<g class="b"><circle cx="1025.1" cy="940.4" r="14"/></g>
<g class="a"><circle cx="953.1" cy="166.1" r="14"/></g>
<g class="c s"><circle cx="141.2" cy="1493.6" r="14"/></g>
<g class="m s"><circle cx="1198.7" cy="1207.9" r="14"/><circle cx="1011.9" cy="1207.5" r="14"/></g>
<g class="b"><circle cx="1005.3" cy="985.3" r="14"/></g>
<g class="m s"><circle cx="989.1" cy="1315.1" r="14"/><circle cx="955.4" cy="1268.2" r="14"/></g>
<g class="b"><circle cx="1008.0" cy="1014.3" r="14"/></g>
<g class="c"><circle cx="472.3" cy="1419.9" r="14"/></g>
<g class="m"><circle cx="853.9" cy="1377.6" r="14"/></g>
<g class="f"><circle cx="1964.7" cy="1357.2" r="14"/></g>
<g class="m"><circle cx="1105.5" cy="1192.0" r="14"/></g>
<g class="m s"><circle cx="1169.5" cy="1279.2" r="14"/></g>
<g class="c s"><circle cx="584.7" cy="1436.6" r="14"/></g>
<g class="m s"><circle cx="950.1" cy="1268.1" r="14"/></g>
<g class="c"><circle cx="511.0" cy="1425.7" r="14"/></g>
<g class="m"><circle cx="1271.6" cy="1146.0" r="14"/></g>
<g class="m s"><circle cx="807.0" cy="1354.2" r="14"/><circle cx="810.6" cy="1319.6" r="14"/></g>
<g class="m"><circle cx="1026.0" cy="1294.2" r="14"/></g>
<g class="b s"><circle cx="1026.3" cy="1059.4" r="14"/></g>
<g class="m"><circle cx="1031.5" cy="1236.2" r="14"/></g>
<g class="m s"><circle cx="1256.8" cy="1317.9" r="14"/></g>
<g class="c"><circle cx="596.9" cy="1457.5" r="14"/></g>
<g class="c s"><circle cx="119.1" cy="1403.1" r="14"/></g>
<g class="c"><circle cx="405.2" cy="1477.0" r="14"/></g>
<g class="b"><circle cx="1014.1" cy="999.1" r="14"/></g>
<g class="f"><circle cx="1960.3" cy="1455.1" r="14"/></g>
<g class="e"><circle cx="96.1" cy="1457.0" r="14"/></g>
<g class="f s"><circle cx="1978.5" cy="1455.6" r="14"/></g>
<g class="m"><circle cx="1242.0" cy="1196.3" r="14"/></g>
<g class="a"><circle cx="903.6" cy="211.9" r="14"/></g>
<g class="m s"><circle cx="1017.9" cy="1212.4" r="14"/><circle cx="979.7" cy="1073.5" r="14"/></g>
<g class="m"><circle cx="1215.8" cy="1222.6" r="14"/></g>
<g class="c"><circle cx="178.0" cy="1435.1" r="14"/></g>
<g class="m s"><circle cx="1302.4" cy="1299.7" r="14"/></g>
<g class="c"><circle cx="386.2" cy="1423.8" r="14"/></g>
<g class="a"><circle cx="968.9" cy="157.6" r="14"/><circle cx="924.9" cy="196.0" r="14"/></g>
<g class="b"><circle cx="1028.0" cy="1051.3" r="14"/></g>
<g class="m"><circle cx="1115.5" cy="1212.3" r="14"/></g>
<g class="c"><circle cx="263.1" cy="1441.4" r="14"/><circle cx="283.5" cy="1470.8" r="14"/><circle cx="304.8" cy="1456.7" r="14"/></g>
<g class="m"><circle cx="955.9" cy="1285.6" r="14"/></g>
<g class="m s"><circle cx="1233.4" cy="1259.3" r="14"/></g>
<g class="a s"><circle cx="944.5" cy="152.7" r="14"/></g>
<g class="c"><circle cx="530.0" cy="1462.5" r="14"/><circle cx="119.1" cy="1466.1" r="14"/></g>
<g class="m s"><circle cx="1228.1" cy="1220.6" r="14"/></g>
<g class="f"><circle cx="1960.6" cy="1410.4" r="14"/></g>
<g class="m"><circle cx="1066.8" cy="1266.1" r="14"/></g>
<g class="c s"><circle cx="166.7" cy="1477.2" r="14"/></g>
<g class="m s"><circle cx="1151.6" cy="1336.0" r="14"/></g>
<g class="b"><circle cx="999.8" cy="975.3" r="14"/></g>
<g class="m s"><circle cx="1048.3" cy="1148.4" r="14"/></g>
<g class="c"><circle cx="161.0" cy="1499.3" r="14"/></g>
<g class="m"><circle cx="1190.4" cy="1239.4" r="14"/><circle cx="858.8" cy="1325.4" r="14"/></g>
<g class="m s"><circle cx="1250.4" cy="1275.6" r="14"/></g>
<g class="c s"><circle cx="130.9" cy="1475.5" r="14"/></g>
<g class="f"><circle cx="1996.9" cy="1475.4" r="14"/></g>
<g class="a"><circle cx="941.6" cy="171.0" r="14"/></g>
<g class="m s"><circle cx="1066.3" cy="1205.9" r="14"/></g>
<g class="c s"><circle cx="137.8" cy="1464.9" r="14"/></g>
<g class="m s"><circle cx="988.2" cy="1144.3" r="14"/></g>
<g class="c"><circle cx="471.4" cy="1488.4" r="14"/></g>
<g class="a s"><circle cx="959.1" cy="165.2" r="14"/></g>
<g class="m s"><circle cx="1343.4" cy="1387.7" r="14"/></g>
<g class="m"><circle cx="1042.9" cy="1075.7" r="14"/></g>
<g class="m s"><circle cx="1242.2" cy="1189.3" r="14"/></g>
<g class="c"><circle cx="517.2" cy="1420.0" r="14"/></g>
<g class="m s"><circle cx="1152.2" cy="1238.2" r="14"/></g>
<g class="m"><circle cx="1044.4" cy="1193.4" r="14"/><circle cx="1040.7" cy="1207.6" r="14"/><circle cx="769.8" cy="1288.2" r="14"/><circle cx="1222.2" cy="1291.7" r="14"/><circle cx="967.2" cy="1336.8" r="14"/></g>
<g class="c s"><circle cx="386.9" cy="1439.5" r="14"/></g>
<g class="m s"><circle cx="827.7" cy="1257.6" r="14"/></g>
<g class="m"><circle cx="1034.9" cy="1266.6" r="14"/></g>
<g class="m s"><circle cx="988.0" cy="1285.6" r="14"/></g>
<g class="a s"><circle cx="916.9" cy="180.4" r="14"/></g>
<g class="c"><circle cx="128.5" cy="1420.2" r="14"/></g>
<g class="m s"><circle cx="1155.3" cy="1286.8" r="14"/></g>
<g class="f s"><circle cx="1970.9" cy="1327.1" r="14"/></g>
<g class="m"><circle cx="900.7" cy="1239.8" r="14"/></g>
<g class="b"><circle cx="1015.8" cy="1036.0" r="14"/></g>
<g class="a"><circle cx="959.7" cy="139.8" r="14"/></g>
<g class="m s"><circle cx="965.7" cy="1114.2" r="14"/></g>
<g class="m"><circle cx="1059.3" cy="1112.9" r="14"/></g>
<g class="f s"><circle cx="1954.1" cy="1370.8" r="14"/></g>
<g class="f"><circle cx="1984.3" cy="1456.7" r="14"/></g>
<g class="c s"><circle cx="775.3" cy="1403.4" r="14"/></g>
<g class="f s"><circle cx="1949.5" cy="1420.5" r="14"/></g>
<g class="f"><circle cx="1994.0" cy="1420.7" r="14"/></g>
<g class="m s"><circle cx="998.2" cy="1122.1" r="14"/></g>
<g class="f s"><circle cx="1989.8" cy="1359.9" r="14"/></g>
<g class="f"><circle cx="1987.4" cy="1401.5" r="14"/><circle cx="1960.1" cy="1496.9" r="14"/><circle cx="1982.5" cy="1409.3" r="14"/></g>
<g class="m"><circle cx="1038.4" cy="1085.1" r="14"/></g>
<g class="m s"><circle cx="1083.6" cy="1121.8" r="14"/></g>
<g class="f"><circle cx="1975.9" cy="1353.0" r="14"/></g>
<g class="c"><circle cx="794.4" cy="1398.9" r="14"/></g>
<g class="f s"><circle cx="1952.3" cy="1373.7" r="14"/></g>
<g class="m"><circle cx="1037.9" cy="1113.1" r="14"/></g>
<g class="f"><circle cx="2001.7" cy="1410.1" r="14"/><circle cx="1991.0" cy="1503.0" r="14"/><circle cx="1943.0" cy="1520.0" r="14"/><circle cx="1983.4" cy="1390.7" r="14"/><circle cx="1961.9" cy="1330.7" r="14"/><circle cx="1952.1" cy="1417.8" r="14"/></g>
<g class="m s"><circle cx="1041.0" cy="1130.2" r="14"/></g>
<g class="f"><circle cx="1960.6" cy="1359.9" r="14"/></g>
<g class="c"><circle cx="825.7" cy="1393.0" r="14"/><circle cx="778.9" cy="1402.0" r="14"/></g>
<g class="f"><circle cx="1954.5" cy="1449.2" r="14"/></g>
<g class="f s"><circle cx="1979.5" cy="1362.3" r="14"/></g>
<g class="m s"><circle cx="1046.2" cy="1131.4" r="14"/><circle cx="1064.6" cy="1139.4" r="14"/></g>
<g class="f"><circle cx="1978.1" cy="1371.5" r="14"/></g>
<g class="m"><circle cx="1039.7" cy="1062.7" r="14"/><circle cx="1124.8" cy="1197.3" r="14"/></g>
<g class="c s"><circle cx="777.2" cy="1396.1" r="14"/></g>
<g class="m"><circle cx="1028.1" cy="1080.0" r="14"/><circle cx="1055.4" cy="1191.5" r="14"/><circle cx="1096.9" cy="1113.3" r="14"/></g>
<g class="m s"><circle cx="1045.0" cy="1089.6" r="14"/></g>
<g class="m"><circle cx="1106.8" cy="1198.3" r="14"/></g>
<g class="f"><circle cx="1972.0" cy="1478.3" r="14"/></g>
<g class="m"><circle cx="972.7" cy="1174.7" r="14"/></g>
<g class="m s"><circle cx="1033.5" cy="1102.0" r="14"/></g>
<g class="f s"><circle cx="1966.7" cy="1411.9" r="14"/></g>
<g class="m"><circle cx="1076.7" cy="1138.0" r="14"/><circle cx="1056.1" cy="1045.0" r="14"/><circle cx="979.9" cy="1210.9" r="14"/><circle cx="988.6" cy="1139.5" r="14"/></g>
<g class="f s"><circle cx="1970.4" cy="1424.3" r="14"/></g>
<g class="f"><circle cx="1979.9" cy="1461.0" r="14"/></g>
<g class="f s"><circle cx="1970.8" cy="1376.7" r="14"/></g>
<g class="f"><circle cx="1970.6" cy="1434.7" r="14"/><circle cx="1989.1" cy="1363.8" r="14"/></g>
<g class="f s"><circle cx="1982.4" cy="1415.6" r="14"/></g>
<g class="m s"><circle cx="1028.8" cy="1104.8" r="14"/></g>
<g class="m"><circle cx="1097.6" cy="1125.8" r="14"/></g>
<g class="b"><circle cx="1060.0" cy="920.0" r="14"/></g>
<g class="f"><circle cx="1993.5" cy="1377.9" r="14"/></g>
<g class="c s"><circle cx="782.9" cy="1413.9" r="14"/></g>
<g class="m s"><circle cx="984.3" cy="1152.6" r="14"/></g>
<g class="b"><circle cx="975.0" cy="1118.0" r="14"/></g>
<g class="f s"><circle cx="1969.7" cy="1334.5" r="14"/></g>
<g class="c"><circle cx="803.6" cy="1390.2" r="14"/></g>
<g class="b"><circle cx="1047.0" cy="845.0" r="14"/><circle cx="1044.0" cy="1008.0" r="14"/></g>
<g class="f"><circle cx="1998.0" cy="1320.0" r="14"/></g>
<g class="m"><circle cx="1035.5" cy="1177.2" r="14"/></g>
<g class="f s"><circle cx="1983.9" cy="1484.7" r="14"/></g>
<g class="m"><circle cx="1105.5" cy="1193.9" r="14"/></g>
<g class="f s"><circle cx="1997.9" cy="1443.7" r="14"/></g>
<g class="b"><circle cx="985.0" cy="1100.0" r="14"/></g>
<g class="f s"><circle cx="1966.5" cy="1451.2" r="14"/></g>
<g class="m"><circle cx="1025.1" cy="1211.2" r="14"/></g>
<g class="c"><circle cx="805.4" cy="1397.4" r="14"/></g>
<g class="m"><circle cx="1009.9" cy="1128.4" r="14"/></g>
<g class="b s"><circle cx="1015.0" cy="1085.0" r="14"/></g>
<g class="m"><circle cx="983.2" cy="1189.9" r="14"/></g>
<g class="m s"><circle cx="987.2" cy="1173.9" r="14"/></g>
<g class="m"><circle cx="1006.0" cy="1111.6" r="14"/><circle cx="1011.4" cy="1069.3" r="14"/></g>
<g class="m s"><circle cx="1004.4" cy="1108.7" r="14"/></g>
<g class="m"><circle cx="975.1" cy="1152.8" r="14"/><circle cx="1061.9" cy="1119.4" r="14"/></g>
<g class="b s"><circle cx="957.0" cy="1010.0" r="14"/></g>
<g class="m"><circle cx="1043.0" cy="1193.3" r="14"/></g>
<g class="m s"><circle cx="1025.9" cy="1110.8" r="14"/></g>
<g class="m"><circle cx="1091.3" cy="1142.3" r="14"/></g>
<g class="m s"><circle cx="971.8" cy="1216.1" r="14"/><circle cx="1016.3" cy="1149.2" r="14"/></g>
<g class="m"><circle cx="1034.8" cy="1206.4" r="14"/></g>
<g class="m s"><circle cx="1029.7" cy="1102.8" r="14"/></g>
<g class="m"><circle cx="1050.2" cy="1115.2" r="14"/><circle cx="1035.3" cy="1067.2" r="14"/><circle cx="1026.5" cy="1129.2" r="14"/><circle cx="1083.7" cy="1148.2" r="14"/><circle cx="960.9" cy="1199.9" r="14"/></g>
<g class="m s"><circle cx="1080.6" cy="1174.6" r="14"/></g>
<g class="m"><circle cx="1071.7" cy="1108.1" r="14"/><circle cx="1050.7" cy="1063.9" r="14"/></g>
<g class="b s"><circle cx="1030.0" cy="865.0" r="14"/></g>
<g class="m"><circle cx="1033.0" cy="1181.0" r="14"/></g>
</g>
<text id="title" x="918" y="82.5" font-size="58.4" textLength="229" lengthAdjust="spacingAndGlyphs">SDEvelo</text>
<circle cx="2119.6" cy="636.1" r="19.6" fill="#d73027"/><text class="lg" x="2211" y="650.9" font-size="51" textLength="58.5" lengthAdjust="spacingAndGlyphs">sA</text>
<circle cx="2119.6" cy="709.1" r="19.6" fill="#fc8d59"/><text class="lg" x="2211" y="723.9" font-size="51" textLength="57.5" lengthAdjust="spacingAndGlyphs">sB</text>
<circle cx="2119.6" cy="782.2" r="19.6" fill="#fee090"/><text class="lg" x="2211" y="797.0" font-size="51" textLength="152.5" lengthAdjust="spacingAndGlyphs">sBmid</text>
<circle cx="2119.6" cy="855.2" r="19.6" fill="#91bfdb"/><text class="lg" x="2211" y="870.0" font-size="51" textLength="59" lengthAdjust="spacingAndGlyphs">sC</text>
<circle cx="2119.6" cy="928.3" r="19.6" fill="#4575b4"/><text class="lg" x="2211" y="943.1" font-size="51" textLength="61.5" lengthAdjust="spacingAndGlyphs">sD</text>
<circle cx="2119.6" cy="1001.4" r="19.6" fill="#66c2a5"/><text class="lg" x="2211" y="1016.1" font-size="51" textLength="155.5" lengthAdjust="spacingAndGlyphs">sEndC</text>
<circle cx="2119.6" cy="1074.4" r="19.6" fill="#3288bd"/><text class="lg" x="2211" y="1089.2" font-size="51" textLength="158" lengthAdjust="spacingAndGlyphs">sEndD</text>
</svg>
</body></html>
